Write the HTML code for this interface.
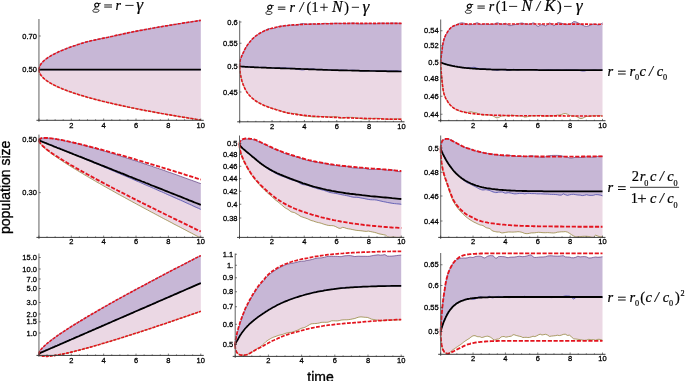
<!DOCTYPE html>
<html><head><meta charset="utf-8"><title>figure</title>
<style>
html,body{margin:0;padding:0;background:#fff;}
svg{display:block;} text{filter:grayscale(1);}
.tk{font-family:"Liberation Sans",sans-serif;font-size:7.5px;fill:#000;stroke:#000;stroke-width:0.28px;}
.al{font-family:"Liberation Sans",sans-serif;font-size:14px;fill:#000;stroke:#000;stroke-width:0.35px;}
.mi{font-family:"Liberation Serif",serif;font-style:italic;font-size:14px;fill:#000;stroke:#000;stroke-width:0.2px;}
.mr{font-family:"Liberation Serif",serif;font-size:14px;fill:#000;stroke:#000;stroke-width:0.2px;}
</style></head>
<body>
<svg width="685" height="381" viewBox="0 0 685 381">
<rect width="685" height="381" fill="#fff"/>
<path d="M39.0,69.7 L39.0,69.3 L39.0,69.0 L39.0,68.6 L39.1,68.2 L39.2,67.9 L39.3,67.5 L39.4,67.1 L39.5,66.8 L39.6,66.4 L39.8,66.0 L40.0,65.6 L40.2,65.3 L40.4,64.9 L40.6,64.5 L40.8,64.2 L41.1,63.8 L41.4,63.4 L41.7,63.1 L42.0,62.7 L42.3,62.3 L42.6,62.0 L43.0,61.6 L43.4,61.2 L43.8,60.9 L44.2,60.5 L44.6,60.1 L45.1,59.7 L45.5,59.4 L46.0,59.0 L46.5,58.6 L47.0,58.3 L47.5,57.9 L48.1,57.5 L48.6,57.2 L49.2,56.8 L49.8,56.4 L50.4,56.1 L51.0,55.7 L51.7,55.3 L52.3,55.0 L53.0,54.6 L53.7,54.2 L54.4,53.9 L55.2,53.5 L55.9,53.1 L56.7,52.7 L57.4,52.4 L58.2,52.0 L59.1,51.6 L59.9,51.3 L60.7,50.9 L61.6,50.5 L62.5,50.2 L63.4,49.8 L64.3,49.4 L65.2,49.1 L66.2,48.7 L67.1,48.3 L68.1,48.0 L69.1,47.6 L70.1,47.2 L71.1,46.8 L72.2,46.5 L73.3,46.1 L74.3,45.7 L75.4,45.4 L76.5,45.0 L77.7,44.6 L78.8,44.3 L80.0,43.9 L81.2,43.5 L82.4,43.1 L83.6,42.8 L84.8,42.4 L86.1,42.0 L87.3,41.7 L88.6,41.4 L89.9,41.1 L91.2,40.7 L92.5,40.5 L93.9,40.2 L95.3,39.9 L96.6,39.6 L98.0,39.3 L99.5,39.0 L100.9,38.7 L102.3,38.4 L103.8,38.1 L105.3,37.8 L106.8,37.5 L108.3,37.2 L109.8,36.8 L111.4,36.5 L112.9,36.2 L114.5,35.8 L116.1,35.4 L117.7,35.1 L119.4,34.7 L121.0,34.4 L122.7,34.0 L124.4,33.6 L126.1,33.3 L127.8,32.9 L129.5,32.5 L131.3,32.2 L133.0,31.8 L134.8,31.5 L136.6,31.1 L138.4,30.8 L140.3,30.4 L142.1,30.1 L144.0,29.7 L145.9,29.4 L147.8,29.0 L149.7,28.7 L151.6,28.3 L153.6,28.0 L155.6,27.6 L157.5,27.3 L159.5,26.9 L161.6,26.6 L163.6,26.2 L165.6,25.9 L167.7,25.6 L169.8,25.2 L171.9,24.9 L174.0,24.5 L176.2,24.2 L178.3,23.8 L180.5,23.5 L182.7,23.1 L184.9,22.8 L187.1,22.5 L189.3,22.1 L191.6,21.8 L193.8,21.4 L196.1,21.1 L198.4,20.7 L200.8,20.4 L200.8,69.7 L198.4,69.7 L196.1,69.7 L193.8,69.7 L191.6,69.7 L189.3,69.7 L187.1,69.7 L184.9,69.7 L182.7,69.7 L180.5,69.7 L178.3,69.7 L176.2,69.7 L174.0,69.7 L171.9,69.7 L169.8,69.7 L167.7,69.7 L165.6,69.7 L163.6,69.7 L161.6,69.7 L159.5,69.7 L157.5,69.7 L155.6,69.7 L153.6,69.7 L151.6,69.7 L149.7,69.7 L147.8,69.7 L145.9,69.7 L144.0,69.7 L142.1,69.7 L140.3,69.7 L138.4,69.7 L136.6,69.7 L134.8,69.7 L133.0,69.7 L131.3,69.7 L129.5,69.7 L127.8,69.7 L126.1,69.7 L124.4,69.7 L122.7,69.7 L121.0,69.7 L119.4,69.7 L117.7,69.7 L116.1,69.7 L114.5,69.7 L112.9,69.7 L111.4,69.7 L109.8,69.7 L108.3,69.7 L106.8,69.7 L105.3,69.7 L103.8,69.7 L102.3,69.7 L100.9,69.7 L99.5,69.7 L98.0,69.7 L96.6,69.7 L95.3,69.7 L93.9,69.7 L92.5,69.7 L91.2,69.7 L89.9,69.7 L88.6,69.7 L87.3,69.7 L86.1,69.7 L84.8,69.7 L83.6,69.7 L82.4,69.7 L81.2,69.7 L80.0,69.7 L78.8,69.7 L77.7,69.7 L76.5,69.7 L75.4,69.7 L74.3,69.7 L73.3,69.7 L72.2,69.7 L71.1,69.7 L70.1,69.7 L69.1,69.7 L68.1,69.7 L67.1,69.7 L66.2,69.7 L65.2,69.7 L64.3,69.7 L63.4,69.7 L62.5,69.7 L61.6,69.7 L60.7,69.7 L59.9,69.7 L59.1,69.7 L58.2,69.7 L57.4,69.7 L56.7,69.7 L55.9,69.7 L55.2,69.7 L54.4,69.7 L53.7,69.7 L53.0,69.7 L52.3,69.7 L51.7,69.7 L51.0,69.7 L50.4,69.7 L49.8,69.7 L49.2,69.7 L48.6,69.7 L48.1,69.7 L47.5,69.7 L47.0,69.7 L46.5,69.7 L46.0,69.7 L45.5,69.7 L45.1,69.7 L44.6,69.7 L44.2,69.7 L43.8,69.7 L43.4,69.7 L43.0,69.7 L42.6,69.7 L42.3,69.7 L42.0,69.7 L41.7,69.7 L41.4,69.7 L41.1,69.7 L40.8,69.7 L40.6,69.7 L40.4,69.7 L40.2,69.7 L40.0,69.7 L39.8,69.7 L39.6,69.7 L39.5,69.7 L39.4,69.7 L39.3,69.7 L39.2,69.7 L39.1,69.7 L39.0,69.7 L39.0,69.7 L39.0,69.7 L39.0,69.7Z" fill="#c7b7d6"/>
<path d="M39.0,69.7 L39.0,69.7 L39.0,69.7 L39.0,69.7 L39.1,69.7 L39.2,69.7 L39.3,69.7 L39.4,69.7 L39.5,69.7 L39.6,69.7 L39.8,69.7 L40.0,69.7 L40.2,69.7 L40.4,69.7 L40.6,69.7 L40.8,69.7 L41.1,69.7 L41.4,69.7 L41.7,69.7 L42.0,69.7 L42.3,69.7 L42.6,69.7 L43.0,69.7 L43.4,69.7 L43.8,69.7 L44.2,69.7 L44.6,69.7 L45.1,69.7 L45.5,69.7 L46.0,69.7 L46.5,69.7 L47.0,69.7 L47.5,69.7 L48.1,69.7 L48.6,69.7 L49.2,69.7 L49.8,69.7 L50.4,69.7 L51.0,69.7 L51.7,69.7 L52.3,69.7 L53.0,69.7 L53.7,69.7 L54.4,69.7 L55.2,69.7 L55.9,69.7 L56.7,69.7 L57.4,69.7 L58.2,69.7 L59.1,69.7 L59.9,69.7 L60.7,69.7 L61.6,69.7 L62.5,69.7 L63.4,69.7 L64.3,69.7 L65.2,69.7 L66.2,69.7 L67.1,69.7 L68.1,69.7 L69.1,69.7 L70.1,69.7 L71.1,69.7 L72.2,69.7 L73.3,69.7 L74.3,69.7 L75.4,69.7 L76.5,69.7 L77.7,69.7 L78.8,69.7 L80.0,69.7 L81.2,69.7 L82.4,69.7 L83.6,69.7 L84.8,69.7 L86.1,69.7 L87.3,69.7 L88.6,69.7 L89.9,69.7 L91.2,69.7 L92.5,69.7 L93.9,69.7 L95.3,69.7 L96.6,69.7 L98.0,69.7 L99.5,69.7 L100.9,69.7 L102.3,69.7 L103.8,69.7 L105.3,69.7 L106.8,69.7 L108.3,69.7 L109.8,69.7 L111.4,69.7 L112.9,69.7 L114.5,69.7 L116.1,69.7 L117.7,69.7 L119.4,69.7 L121.0,69.7 L122.7,69.7 L124.4,69.7 L126.1,69.7 L127.8,69.7 L129.5,69.7 L131.3,69.7 L133.0,69.7 L134.8,69.7 L136.6,69.7 L138.4,69.7 L140.3,69.7 L142.1,69.7 L144.0,69.7 L145.9,69.7 L147.8,69.7 L149.7,69.7 L151.6,69.7 L153.6,69.7 L155.6,69.7 L157.5,69.7 L159.5,69.7 L161.6,69.7 L163.6,69.7 L165.6,69.7 L167.7,69.7 L169.8,69.7 L171.9,69.7 L174.0,69.7 L176.2,69.7 L178.3,69.7 L180.5,69.7 L182.7,69.7 L184.9,69.7 L187.1,69.7 L189.3,69.7 L191.6,69.7 L193.8,69.7 L196.1,69.7 L198.4,69.7 L200.8,69.7 L200.8,120.0 L198.4,119.6 L196.1,119.3 L193.8,118.9 L191.6,118.5 L189.3,118.2 L187.1,117.8 L184.9,117.4 L182.7,117.1 L180.5,116.7 L178.3,116.4 L176.2,116.0 L174.0,115.6 L171.9,115.3 L169.8,114.9 L167.7,114.6 L165.6,114.2 L163.6,113.8 L161.6,113.5 L159.5,113.1 L157.5,112.7 L155.6,112.4 L153.6,112.0 L151.6,111.7 L149.7,111.3 L147.8,110.9 L145.9,110.6 L144.0,110.2 L142.1,109.9 L140.3,109.5 L138.4,109.1 L136.6,108.8 L134.8,108.4 L133.0,108.0 L131.3,107.7 L129.5,107.3 L127.8,107.0 L126.1,106.6 L124.4,106.2 L122.7,105.9 L121.0,105.5 L119.4,105.1 L117.7,104.8 L116.1,104.4 L114.5,104.1 L112.9,103.7 L111.4,103.3 L109.8,103.0 L108.3,102.6 L106.8,102.3 L105.3,101.9 L103.8,101.5 L102.3,101.2 L100.9,100.8 L99.5,100.4 L98.0,100.1 L96.6,99.7 L95.3,99.4 L93.9,99.0 L92.5,98.6 L91.2,98.3 L89.9,97.9 L88.6,97.6 L87.3,97.2 L86.1,96.8 L84.8,96.5 L83.6,96.1 L82.4,95.7 L81.2,95.4 L80.0,95.0 L78.8,94.7 L77.7,94.3 L76.5,93.9 L75.4,93.6 L74.3,93.2 L73.3,92.9 L72.2,92.5 L71.1,92.1 L70.1,91.8 L69.1,91.4 L68.1,91.0 L67.1,90.7 L66.2,90.3 L65.2,90.0 L64.3,89.6 L63.4,89.2 L62.5,88.9 L61.6,88.5 L60.7,88.1 L59.9,87.8 L59.1,87.4 L58.2,87.1 L57.4,86.7 L56.7,86.3 L55.9,86.0 L55.2,85.6 L54.4,85.3 L53.7,84.9 L53.0,84.5 L52.3,84.2 L51.7,83.8 L51.0,83.4 L50.4,83.1 L49.8,82.7 L49.2,82.4 L48.6,82.0 L48.1,81.6 L47.5,81.3 L47.0,80.9 L46.5,80.6 L46.0,80.2 L45.5,79.8 L45.1,79.5 L44.6,79.1 L44.2,78.7 L43.8,78.4 L43.4,78.0 L43.0,77.7 L42.6,77.3 L42.3,76.9 L42.0,76.6 L41.7,76.2 L41.4,75.8 L41.1,75.5 L40.8,75.1 L40.6,74.8 L40.4,74.4 L40.2,74.0 L40.0,73.7 L39.8,73.3 L39.6,73.0 L39.5,72.6 L39.4,72.2 L39.3,71.9 L39.2,71.5 L39.1,71.1 L39.0,70.8 L39.0,70.4 L39.0,70.1 L39.0,69.7Z" fill="#ebd8e4"/>
<path d="M39.0,69.7 L39.0,69.3 L39.0,69.0 L39.0,68.6 L39.1,68.2 L39.2,67.9 L39.3,67.5 L39.4,67.1 L39.5,66.8 L39.6,66.4 L39.8,66.0 L40.0,65.6 L40.2,65.3 L40.4,64.9 L40.6,64.5 L40.8,64.2 L41.1,63.8 L41.4,63.4 L41.7,63.1 L42.0,62.7 L42.3,62.3 L42.6,62.0 L43.0,61.6 L43.4,61.2 L43.8,60.9 L44.2,60.5 L44.6,60.1 L45.1,59.7 L45.5,59.4 L46.0,59.0 L46.5,58.6 L47.0,58.3 L47.5,57.9 L48.1,57.5 L48.6,57.2 L49.2,56.8 L49.8,56.4 L50.4,56.1 L51.0,55.7 L51.7,55.3 L52.3,55.0 L53.0,54.6 L53.7,54.2 L54.4,53.9 L55.2,53.5 L55.9,53.1 L56.7,52.7 L57.4,52.4 L58.2,52.0 L59.1,51.6 L59.9,51.3 L60.7,50.9 L61.6,50.5 L62.5,50.2 L63.4,49.8 L64.3,49.4 L65.2,49.1 L66.2,48.7 L67.1,48.3 L68.1,48.0 L69.1,47.6 L70.1,47.2 L71.1,46.8 L72.2,46.5 L73.3,46.1 L74.3,45.7 L75.4,45.4 L76.5,45.0 L77.7,44.6 L78.8,44.3 L80.0,43.9 L81.2,43.5 L82.4,43.1 L83.6,42.8 L84.8,42.4 L86.1,42.0 L87.3,41.7 L88.6,41.4 L89.9,41.1 L91.2,40.7 L92.5,40.5 L93.9,40.2 L95.3,39.9 L96.6,39.6 L98.0,39.3 L99.5,39.0 L100.9,38.7 L102.3,38.4 L103.8,38.1 L105.3,37.8 L106.8,37.5 L108.3,37.2 L109.8,36.8 L111.4,36.5 L112.9,36.2 L114.5,35.8 L116.1,35.4 L117.7,35.1 L119.4,34.7 L121.0,34.4 L122.7,34.0 L124.4,33.6 L126.1,33.3 L127.8,32.9 L129.5,32.5 L131.3,32.2 L133.0,31.8 L134.8,31.5 L136.6,31.1 L138.4,30.8 L140.3,30.4 L142.1,30.1 L144.0,29.7 L145.9,29.4 L147.8,29.0 L149.7,28.7 L151.6,28.3 L153.6,28.0 L155.6,27.6 L157.5,27.3 L159.5,26.9 L161.6,26.6 L163.6,26.2 L165.6,25.9 L167.7,25.6 L169.8,25.2 L171.9,24.9 L174.0,24.5 L176.2,24.2 L178.3,23.8 L180.5,23.5 L182.7,23.1 L184.9,22.8 L187.1,22.5 L189.3,22.1 L191.6,21.8 L193.8,21.4 L196.1,21.1 L198.4,20.7 L200.8,20.4" fill="none" stroke="#5e3e80" stroke-width="0.7"/>
<path d="M39.0,69.7 L39.0,70.1 L39.0,70.4 L39.0,70.8 L39.1,71.1 L39.2,71.5 L39.3,71.9 L39.4,72.2 L39.5,72.6 L39.6,73.0 L39.8,73.3 L40.0,73.7 L40.2,74.0 L40.4,74.4 L40.6,74.8 L40.8,75.1 L41.1,75.5 L41.4,75.8 L41.7,76.2 L42.0,76.6 L42.3,76.9 L42.6,77.3 L43.0,77.7 L43.4,78.0 L43.8,78.4 L44.2,78.7 L44.6,79.1 L45.1,79.5 L45.5,79.8 L46.0,80.2 L46.5,80.6 L47.0,80.9 L47.5,81.3 L48.1,81.6 L48.6,82.0 L49.2,82.4 L49.8,82.7 L50.4,83.1 L51.0,83.4 L51.7,83.8 L52.3,84.2 L53.0,84.5 L53.7,84.9 L54.4,85.3 L55.2,85.6 L55.9,86.0 L56.7,86.3 L57.4,86.7 L58.2,87.1 L59.1,87.4 L59.9,87.8 L60.7,88.1 L61.6,88.5 L62.5,88.9 L63.4,89.2 L64.3,89.6 L65.2,90.0 L66.2,90.3 L67.1,90.7 L68.1,91.0 L69.1,91.4 L70.1,91.8 L71.1,92.1 L72.2,92.5 L73.3,92.9 L74.3,93.2 L75.4,93.6 L76.5,93.9 L77.7,94.3 L78.8,94.7 L80.0,95.0 L81.2,95.4 L82.4,95.7 L83.6,96.1 L84.8,96.5 L86.1,96.8 L87.3,97.2 L88.6,97.6 L89.9,97.9 L91.2,98.3 L92.5,98.6 L93.9,99.0 L95.3,99.4 L96.6,99.7 L98.0,100.1 L99.5,100.4 L100.9,100.8 L102.3,101.2 L103.8,101.5 L105.3,101.9 L106.8,102.3 L108.3,102.6 L109.8,103.0 L111.4,103.3 L112.9,103.7 L114.5,104.1 L116.1,104.4 L117.7,104.8 L119.4,105.1 L121.0,105.5 L122.7,105.9 L124.4,106.2 L126.1,106.6 L127.8,107.0 L129.5,107.3 L131.3,107.7 L133.0,108.0 L134.8,108.4 L136.6,108.8 L138.4,109.1 L140.3,109.5 L142.1,109.9 L144.0,110.2 L145.9,110.6 L147.8,110.9 L149.7,111.3 L151.6,111.7 L153.6,112.0 L155.6,112.4 L157.5,112.7 L159.5,113.1 L161.6,113.5 L163.6,113.8 L165.6,114.2 L167.7,114.6 L169.8,114.9 L171.9,115.3 L174.0,115.6 L176.2,116.0 L178.3,116.4 L180.5,116.7 L182.7,117.1 L184.9,117.4 L187.1,117.8 L189.3,118.2 L191.6,118.5 L193.8,118.9 L196.1,119.3 L198.4,119.6 L200.8,120.0" fill="none" stroke="#8a7a2a" stroke-width="0.7"/>
<path d="M39.0,69.7 L39.0,69.7 L39.0,69.7 L39.0,69.7 L39.1,69.7 L39.2,69.7 L39.3,69.7 L39.4,69.7 L39.5,69.7 L39.6,69.7 L39.8,69.7 L40.0,69.7 L40.2,69.7 L40.4,69.7 L40.6,69.7 L40.8,69.7 L41.1,69.7 L41.4,69.7 L41.7,69.7 L42.0,69.7 L42.3,69.7 L42.6,69.7 L43.0,69.7 L43.4,69.7 L43.8,69.7 L44.2,69.7 L44.6,69.7 L45.1,69.7 L45.5,69.7 L46.0,69.7 L46.5,69.7 L47.0,69.7 L47.5,69.7 L48.1,69.7 L48.6,69.7 L49.2,69.7 L49.8,69.7 L50.4,69.7 L51.0,69.7 L51.7,69.7 L52.3,69.7 L53.0,69.7 L53.7,69.7 L54.4,69.7 L55.2,69.7 L55.9,69.7 L56.7,69.7 L57.4,69.7 L58.2,69.7 L59.1,69.7 L59.9,69.7 L60.7,69.7 L61.6,69.7 L62.5,69.7 L63.4,69.7 L64.3,69.7 L65.2,69.7 L66.2,69.7 L67.1,69.7 L68.1,69.7 L69.1,69.7 L70.1,69.7 L71.1,69.7 L72.2,69.7 L73.3,69.7 L74.3,69.7 L75.4,69.7 L76.5,69.7 L77.7,69.7 L78.8,69.7 L80.0,69.7 L81.2,69.7 L82.4,69.7 L83.6,69.7 L84.8,69.7 L86.1,69.7 L87.3,69.7 L88.6,69.7 L89.9,69.7 L91.2,69.7 L92.5,69.7 L93.9,69.7 L95.3,69.7 L96.6,69.7 L98.0,69.7 L99.5,69.7 L100.9,69.7 L102.3,69.7 L103.8,69.7 L105.3,69.7 L106.8,69.7 L108.3,69.7 L109.8,69.7 L111.4,69.7 L112.9,69.7 L114.5,69.7 L116.1,69.7 L117.7,69.7 L119.4,69.7 L121.0,69.7 L122.7,69.7 L124.4,69.7 L126.1,69.7 L127.8,69.7 L129.5,69.7 L131.3,69.7 L133.0,69.7 L134.8,69.7 L136.6,69.7 L138.4,69.7 L140.3,69.7 L142.1,69.7 L144.0,69.7 L145.9,69.7 L147.8,69.7 L149.7,69.7 L151.6,69.7 L153.6,69.7 L155.6,69.7 L157.5,69.7 L159.5,69.7 L161.6,69.7 L163.6,69.7 L165.6,69.7 L167.7,69.7 L169.8,69.7 L171.9,69.7 L174.0,69.7 L176.2,69.7 L178.3,69.7 L180.5,69.7 L182.7,69.7 L184.9,69.7 L187.1,69.7 L189.3,69.7 L191.6,69.7 L193.8,69.7 L196.1,69.7 L198.4,69.7 L200.8,69.7" fill="none" stroke="#3030a0" stroke-width="0.7"/>
<path d="M39.0,69.7 L39.0,69.7 L39.0,69.7 L39.0,69.7 L39.1,69.7 L39.2,69.7 L39.3,69.7 L39.4,69.7 L39.5,69.7 L39.6,69.7 L39.8,69.7 L40.0,69.7 L40.2,69.7 L40.4,69.7 L40.6,69.7 L40.8,69.7 L41.1,69.7 L41.4,69.7 L41.7,69.7 L42.0,69.7 L42.3,69.7 L42.6,69.7 L43.0,69.7 L43.4,69.7 L43.8,69.7 L44.2,69.7 L44.6,69.7 L45.1,69.7 L45.5,69.7 L46.0,69.7 L46.5,69.7 L47.0,69.7 L47.5,69.7 L48.1,69.7 L48.6,69.7 L49.2,69.7 L49.8,69.7 L50.4,69.7 L51.0,69.7 L51.7,69.7 L52.3,69.7 L53.0,69.7 L53.7,69.7 L54.4,69.7 L55.2,69.7 L55.9,69.7 L56.7,69.7 L57.4,69.7 L58.2,69.7 L59.1,69.7 L59.9,69.7 L60.7,69.7 L61.6,69.7 L62.5,69.7 L63.4,69.7 L64.3,69.7 L65.2,69.7 L66.2,69.7 L67.1,69.7 L68.1,69.7 L69.1,69.7 L70.1,69.7 L71.1,69.7 L72.2,69.7 L73.3,69.7 L74.3,69.7 L75.4,69.7 L76.5,69.7 L77.7,69.7 L78.8,69.7 L80.0,69.7 L81.2,69.7 L82.4,69.7 L83.6,69.7 L84.8,69.7 L86.1,69.7 L87.3,69.7 L88.6,69.7 L89.9,69.7 L91.2,69.7 L92.5,69.7 L93.9,69.7 L95.3,69.7 L96.6,69.7 L98.0,69.7 L99.5,69.7 L100.9,69.7 L102.3,69.7 L103.8,69.7 L105.3,69.7 L106.8,69.7 L108.3,69.7 L109.8,69.7 L111.4,69.7 L112.9,69.7 L114.5,69.7 L116.1,69.7 L117.7,69.7 L119.4,69.7 L121.0,69.7 L122.7,69.7 L124.4,69.7 L126.1,69.7 L127.8,69.7 L129.5,69.7 L131.3,69.7 L133.0,69.7 L134.8,69.7 L136.6,69.7 L138.4,69.7 L140.3,69.7 L142.1,69.7 L144.0,69.7 L145.9,69.7 L147.8,69.7 L149.7,69.7 L151.6,69.7 L153.6,69.7 L155.6,69.7 L157.5,69.7 L159.5,69.7 L161.6,69.7 L163.6,69.7 L165.6,69.7 L167.7,69.7 L169.8,69.7 L171.9,69.7 L174.0,69.7 L176.2,69.7 L178.3,69.7 L180.5,69.7 L182.7,69.7 L184.9,69.7 L187.1,69.7 L189.3,69.7 L191.6,69.7 L193.8,69.7 L196.1,69.7 L198.4,69.7 L200.8,69.7" fill="none" stroke="#000" stroke-width="1.7" stroke-linejoin="round"/>
<path d="M39.0,69.7 L39.0,69.3 L39.0,69.0 L39.0,68.6 L39.1,68.2 L39.2,67.9 L39.3,67.5 L39.4,67.1 L39.5,66.8 L39.6,66.4 L39.8,66.0 L40.0,65.6 L40.2,65.3 L40.4,64.9 L40.6,64.5 L40.8,64.2 L41.1,63.8 L41.4,63.4 L41.7,63.1 L42.0,62.7 L42.3,62.3 L42.6,62.0 L43.0,61.6 L43.4,61.2 L43.8,60.9 L44.2,60.5 L44.6,60.1 L45.1,59.7 L45.5,59.4 L46.0,59.0 L46.5,58.6 L47.0,58.3 L47.5,57.9 L48.1,57.5 L48.6,57.2 L49.2,56.8 L49.8,56.4 L50.4,56.1 L51.0,55.7 L51.7,55.3 L52.3,55.0 L53.0,54.6 L53.7,54.2 L54.4,53.9 L55.2,53.5 L55.9,53.1 L56.7,52.7 L57.4,52.4 L58.2,52.0 L59.1,51.6 L59.9,51.3 L60.7,50.9 L61.6,50.5 L62.5,50.2 L63.4,49.8 L64.3,49.4 L65.2,49.1 L66.2,48.7 L67.1,48.3 L68.1,48.0 L69.1,47.6 L70.1,47.2 L71.1,46.8 L72.2,46.5 L73.3,46.1 L74.3,45.7 L75.4,45.4 L76.5,45.0 L77.7,44.6 L78.8,44.3 L80.0,43.9 L81.2,43.5 L82.4,43.1 L83.6,42.8 L84.8,42.4 L86.1,42.0 L87.3,41.7 L88.6,41.4 L89.9,41.1 L91.2,40.7 L92.5,40.5 L93.9,40.2 L95.3,39.9 L96.6,39.6 L98.0,39.3 L99.5,39.0 L100.9,38.7 L102.3,38.4 L103.8,38.1 L105.3,37.8 L106.8,37.5 L108.3,37.2 L109.8,36.8 L111.4,36.5 L112.9,36.2 L114.5,35.8 L116.1,35.4 L117.7,35.1 L119.4,34.7 L121.0,34.4 L122.7,34.0 L124.4,33.6 L126.1,33.3 L127.8,32.9 L129.5,32.5 L131.3,32.2 L133.0,31.8 L134.8,31.5 L136.6,31.1 L138.4,30.8 L140.3,30.4 L142.1,30.1 L144.0,29.7 L145.9,29.4 L147.8,29.0 L149.7,28.7 L151.6,28.3 L153.6,28.0 L155.6,27.6 L157.5,27.3 L159.5,26.9 L161.6,26.6 L163.6,26.2 L165.6,25.9 L167.7,25.6 L169.8,25.2 L171.9,24.9 L174.0,24.5 L176.2,24.2 L178.3,23.8 L180.5,23.5 L182.7,23.1 L184.9,22.8 L187.1,22.5 L189.3,22.1 L191.6,21.8 L193.8,21.4 L196.1,21.1 L198.4,20.7 L200.8,20.4" fill="none" stroke="#e3141e" stroke-width="1.6" stroke-dasharray="3.1,1.2" stroke-linejoin="round"/>
<path d="M39.0,69.7 L39.0,70.1 L39.0,70.4 L39.0,70.8 L39.1,71.1 L39.2,71.5 L39.3,71.9 L39.4,72.2 L39.5,72.6 L39.6,73.0 L39.8,73.3 L40.0,73.7 L40.2,74.0 L40.4,74.4 L40.6,74.8 L40.8,75.1 L41.1,75.5 L41.4,75.8 L41.7,76.2 L42.0,76.6 L42.3,76.9 L42.6,77.3 L43.0,77.7 L43.4,78.0 L43.8,78.4 L44.2,78.7 L44.6,79.1 L45.1,79.5 L45.5,79.8 L46.0,80.2 L46.5,80.6 L47.0,80.9 L47.5,81.3 L48.1,81.6 L48.6,82.0 L49.2,82.4 L49.8,82.7 L50.4,83.1 L51.0,83.4 L51.7,83.8 L52.3,84.2 L53.0,84.5 L53.7,84.9 L54.4,85.3 L55.2,85.6 L55.9,86.0 L56.7,86.3 L57.4,86.7 L58.2,87.1 L59.1,87.4 L59.9,87.8 L60.7,88.1 L61.6,88.5 L62.5,88.9 L63.4,89.2 L64.3,89.6 L65.2,90.0 L66.2,90.3 L67.1,90.7 L68.1,91.0 L69.1,91.4 L70.1,91.8 L71.1,92.1 L72.2,92.5 L73.3,92.9 L74.3,93.2 L75.4,93.6 L76.5,93.9 L77.7,94.3 L78.8,94.7 L80.0,95.0 L81.2,95.4 L82.4,95.7 L83.6,96.1 L84.8,96.5 L86.1,96.8 L87.3,97.2 L88.6,97.6 L89.9,97.9 L91.2,98.3 L92.5,98.6 L93.9,99.0 L95.3,99.4 L96.6,99.7 L98.0,100.1 L99.5,100.4 L100.9,100.8 L102.3,101.2 L103.8,101.5 L105.3,101.9 L106.8,102.3 L108.3,102.6 L109.8,103.0 L111.4,103.3 L112.9,103.7 L114.5,104.1 L116.1,104.4 L117.7,104.8 L119.4,105.1 L121.0,105.5 L122.7,105.9 L124.4,106.2 L126.1,106.6 L127.8,107.0 L129.5,107.3 L131.3,107.7 L133.0,108.0 L134.8,108.4 L136.6,108.8 L138.4,109.1 L140.3,109.5 L142.1,109.9 L144.0,110.2 L145.9,110.6 L147.8,110.9 L149.7,111.3 L151.6,111.7 L153.6,112.0 L155.6,112.4 L157.5,112.7 L159.5,113.1 L161.6,113.5 L163.6,113.8 L165.6,114.2 L167.7,114.6 L169.8,114.9 L171.9,115.3 L174.0,115.6 L176.2,116.0 L178.3,116.4 L180.5,116.7 L182.7,117.1 L184.9,117.4 L187.1,117.8 L189.3,118.2 L191.6,118.5 L193.8,118.9 L196.1,119.3 L198.4,119.6 L200.8,120.0" fill="none" stroke="#e3141e" stroke-width="1.6" stroke-dasharray="3.1,1.2" stroke-linejoin="round"/>
<path d="M38.95,19.00 V121.80" stroke="#606060" stroke-width="1" fill="none"/>
<path d="M36.45,120.30 H203.75" stroke="#3c3c3c" stroke-width="1" fill="none"/>
<path d="M38.95,120.30 v-1.8 M47.04,120.30 v-1.0 M55.13,120.30 v-1.0 M63.22,120.30 v-1.0 M71.31,120.30 v-1.8 M79.40,120.30 v-1.0 M87.49,120.30 v-1.0 M95.58,120.30 v-1.0 M103.67,120.30 v-1.8 M111.76,120.30 v-1.0 M119.85,120.30 v-1.0 M127.94,120.30 v-1.0 M136.03,120.30 v-1.8 M144.12,120.30 v-1.0 M152.21,120.30 v-1.0 M160.30,120.30 v-1.0 M168.39,120.30 v-1.8 M176.48,120.30 v-1.0 M184.57,120.30 v-1.0 M192.66,120.30 v-1.0 M200.75,120.30 v-1.8 M38.95,36.00 h1.8 M38.95,69.70 h1.8" stroke="#222" stroke-width="0.6" fill="none"/>
<text x="71.31" y="128.10" text-anchor="middle" class="tk">2</text>
<text x="103.67" y="128.10" text-anchor="middle" class="tk">4</text>
<text x="136.03" y="128.10" text-anchor="middle" class="tk">6</text>
<text x="168.39" y="128.10" text-anchor="middle" class="tk">8</text>
<text x="200.75" y="128.10" text-anchor="middle" class="tk">10</text>
<text x="36.95" y="38.60" text-anchor="end" class="tk">0.70</text>
<text x="36.95" y="72.30" text-anchor="end" class="tk">0.50</text>
<path d="M239.7,66.3 L239.7,65.5 L239.7,64.7 L239.8,63.9 L239.8,63.1 L239.9,62.3 L240.0,61.6 L240.1,60.9 L240.2,60.3 L240.4,59.7 L240.5,59.1 L240.7,58.5 L240.9,58.0 L241.1,57.5 L241.3,56.9 L241.6,56.4 L241.8,55.8 L242.1,55.2 L242.4,54.5 L242.7,53.8 L243.0,53.1 L243.4,52.4 L243.8,51.6 L244.1,50.8 L244.5,50.0 L244.9,49.2 L245.4,48.4 L245.8,47.6 L246.3,46.9 L246.7,46.1 L247.2,45.4 L247.7,44.6 L248.3,43.9 L248.8,43.2 L249.4,42.4 L250.0,41.7 L250.6,41.0 L251.2,40.3 L251.8,39.6 L252.4,38.9 L253.1,38.3 L253.8,37.7 L254.5,37.0 L255.2,36.5 L255.9,35.9 L256.7,35.3 L257.4,34.8 L258.2,34.2 L259.0,33.7 L259.8,33.3 L260.6,32.8 L261.5,32.4 L262.3,32.0 L263.2,31.6 L264.1,31.1 L265.0,30.5 L266.0,29.9 L266.9,29.4 L267.9,28.9 L268.9,28.6 L269.8,28.5 L270.9,28.5 L271.9,28.6 L272.9,28.6 L274.0,28.4 L275.1,28.0 L276.2,27.5 L277.3,27.0 L278.4,26.5 L279.6,26.3 L280.7,26.1 L281.9,26.0 L283.1,26.0 L284.3,25.9 L285.6,25.8 L286.8,25.6 L288.1,25.4 L289.4,25.2 L290.6,25.0 L292.0,25.0 L293.3,25.1 L294.6,25.3 L296.0,25.3 L297.4,25.1 L298.8,24.6 L300.2,24.0 L301.6,23.6 L303.1,23.6 L304.6,23.8 L306.0,24.0 L307.5,24.1 L309.0,24.0 L310.6,24.0 L312.1,23.9 L313.7,23.9 L315.3,24.0 L316.9,24.2 L318.5,24.3 L320.1,24.2 L321.8,23.8 L323.4,23.4 L325.1,23.3 L326.8,23.4 L328.5,23.5 L330.3,23.6 L332.0,23.5 L333.8,23.3 L335.6,23.2 L337.4,23.2 L339.2,23.3 L341.0,23.4 L342.9,23.5 L344.7,23.6 L346.6,23.6 L348.5,23.6 L350.5,23.2 L352.4,23.0 L354.3,23.1 L356.3,23.5 L358.3,23.8 L360.3,23.8 L362.3,23.8 L364.3,23.8 L366.4,23.7 L368.5,23.6 L370.5,23.6 L372.7,23.7 L374.8,23.8 L376.9,23.7 L379.1,23.3 L381.2,23.1 L383.4,23.2 L385.6,23.3 L387.8,23.3 L390.1,23.2 L392.3,23.0 L394.6,23.1 L396.9,23.2 L399.2,23.3 L401.5,23.5 L401.5,71.1 L399.2,70.9 L396.9,70.9 L394.6,70.9 L392.3,70.9 L390.1,70.9 L387.8,71.0 L385.6,71.0 L383.4,71.1 L381.2,71.1 L379.1,71.0 L376.9,71.0 L374.8,70.9 L372.7,70.7 L370.5,70.6 L368.5,70.6 L366.4,70.8 L364.3,70.9 L362.3,70.9 L360.3,70.8 L358.3,70.6 L356.3,70.5 L354.3,70.3 L352.4,70.2 L350.5,70.3 L348.5,70.5 L346.6,70.4 L344.7,70.3 L342.9,70.1 L341.0,70.0 L339.2,70.3 L337.4,70.6 L335.6,70.6 L333.8,70.5 L332.0,70.2 L330.3,70.0 L328.5,69.9 L326.8,69.7 L325.1,69.6 L323.4,69.6 L321.8,69.7 L320.1,69.8 L318.5,69.8 L316.9,69.6 L315.3,69.2 L313.7,69.0 L312.1,69.0 L310.6,69.0 L309.0,69.1 L307.5,69.2 L306.0,69.4 L304.6,69.7 L303.1,69.9 L301.6,69.9 L300.2,69.7 L298.8,69.5 L297.4,69.2 L296.0,69.0 L294.6,68.7 L293.3,68.5 L292.0,68.3 L290.6,68.2 L289.4,68.2 L288.1,68.1 L286.8,68.0 L285.6,68.0 L284.3,67.9 L283.1,67.9 L281.9,67.8 L280.7,67.8 L279.6,67.7 L278.4,67.7 L277.3,67.9 L276.2,68.0 L275.1,68.2 L274.0,68.2 L272.9,68.2 L271.9,68.1 L270.9,67.9 L269.8,67.8 L268.9,67.6 L267.9,67.6 L266.9,67.5 L266.0,67.4 L265.0,67.4 L264.1,67.3 L263.2,67.3 L262.3,67.3 L261.5,67.3 L260.6,67.4 L259.8,67.5 L259.0,67.5 L258.2,67.5 L257.4,67.4 L256.7,67.4 L255.9,67.3 L255.2,67.3 L254.5,67.3 L253.8,67.2 L253.1,67.2 L252.4,67.2 L251.8,67.1 L251.2,67.1 L250.6,67.1 L250.0,67.0 L249.4,67.0 L248.8,67.0 L248.3,67.0 L247.7,66.9 L247.2,66.9 L246.7,66.9 L246.3,66.8 L245.8,66.8 L245.4,66.8 L244.9,66.8 L244.5,66.7 L244.1,66.7 L243.8,66.7 L243.4,66.7 L243.0,66.6 L242.7,66.6 L242.4,66.6 L242.1,66.6 L241.8,66.6 L241.6,66.5 L241.3,66.5 L241.1,66.5 L240.9,66.5 L240.7,66.5 L240.5,66.4 L240.4,66.4 L240.2,66.4 L240.1,66.4 L240.0,66.4 L239.9,66.4 L239.8,66.4 L239.8,66.3 L239.7,66.3 L239.7,66.3 L239.7,66.3Z" fill="#c7b7d6"/>
<path d="M239.7,66.3 L239.7,66.3 L239.7,66.3 L239.8,66.3 L239.8,66.4 L239.9,66.4 L240.0,66.4 L240.1,66.4 L240.2,66.4 L240.4,66.4 L240.5,66.4 L240.7,66.5 L240.9,66.5 L241.1,66.5 L241.3,66.5 L241.6,66.5 L241.8,66.6 L242.1,66.6 L242.4,66.6 L242.7,66.6 L243.0,66.6 L243.4,66.7 L243.8,66.7 L244.1,66.7 L244.5,66.7 L244.9,66.8 L245.4,66.8 L245.8,66.8 L246.3,66.8 L246.7,66.9 L247.2,66.9 L247.7,66.9 L248.3,67.0 L248.8,67.0 L249.4,67.0 L250.0,67.0 L250.6,67.1 L251.2,67.1 L251.8,67.1 L252.4,67.2 L253.1,67.2 L253.8,67.2 L254.5,67.3 L255.2,67.3 L255.9,67.3 L256.7,67.4 L257.4,67.4 L258.2,67.5 L259.0,67.5 L259.8,67.5 L260.6,67.4 L261.5,67.3 L262.3,67.3 L263.2,67.3 L264.1,67.3 L265.0,67.4 L266.0,67.4 L266.9,67.5 L267.9,67.6 L268.9,67.6 L269.8,67.8 L270.9,67.9 L271.9,68.1 L272.9,68.2 L274.0,68.2 L275.1,68.2 L276.2,68.0 L277.3,67.9 L278.4,67.7 L279.6,67.7 L280.7,67.8 L281.9,67.8 L283.1,67.9 L284.3,67.9 L285.6,68.0 L286.8,68.0 L288.1,68.1 L289.4,68.2 L290.6,68.2 L292.0,68.3 L293.3,68.5 L294.6,68.7 L296.0,69.0 L297.4,69.2 L298.8,69.5 L300.2,69.7 L301.6,69.9 L303.1,69.9 L304.6,69.7 L306.0,69.4 L307.5,69.2 L309.0,69.1 L310.6,69.0 L312.1,69.0 L313.7,69.0 L315.3,69.2 L316.9,69.6 L318.5,69.8 L320.1,69.8 L321.8,69.7 L323.4,69.6 L325.1,69.6 L326.8,69.7 L328.5,69.9 L330.3,70.0 L332.0,70.2 L333.8,70.5 L335.6,70.6 L337.4,70.6 L339.2,70.3 L341.0,70.0 L342.9,70.1 L344.7,70.3 L346.6,70.4 L348.5,70.5 L350.5,70.3 L352.4,70.2 L354.3,70.3 L356.3,70.5 L358.3,70.6 L360.3,70.8 L362.3,70.9 L364.3,70.9 L366.4,70.8 L368.5,70.6 L370.5,70.6 L372.7,70.7 L374.8,70.9 L376.9,71.0 L379.1,71.0 L381.2,71.1 L383.4,71.1 L385.6,71.0 L387.8,71.0 L390.1,70.9 L392.3,70.9 L394.6,70.9 L396.9,70.9 L399.2,70.9 L401.5,71.1 L401.5,119.1 L399.2,119.0 L396.9,118.9 L394.6,119.0 L392.3,119.1 L390.1,119.3 L387.8,119.4 L385.6,119.3 L383.4,118.9 L381.2,118.5 L379.1,118.4 L376.9,118.3 L374.8,118.2 L372.7,118.4 L370.5,118.6 L368.5,118.8 L366.4,119.1 L364.3,119.1 L362.3,118.9 L360.3,118.4 L358.3,118.1 L356.3,117.8 L354.3,117.6 L352.4,117.4 L350.5,117.4 L348.5,117.3 L346.6,117.3 L344.7,117.7 L342.9,118.1 L341.0,118.1 L339.2,117.6 L337.4,116.9 L335.6,116.7 L333.8,116.7 L332.0,116.9 L330.3,116.9 L328.5,116.9 L326.8,116.8 L325.1,116.7 L323.4,116.7 L321.8,116.6 L320.1,116.6 L318.5,116.6 L316.9,116.8 L315.3,117.0 L313.7,117.1 L312.1,116.9 L310.6,116.6 L309.0,116.4 L307.5,116.2 L306.0,116.0 L304.6,115.9 L303.1,115.7 L301.6,115.5 L300.2,115.1 L298.8,114.5 L297.4,114.0 L296.0,113.7 L294.6,113.6 L293.3,113.5 L292.0,113.4 L290.6,113.3 L289.4,113.1 L288.1,112.9 L286.8,112.7 L285.6,112.4 L284.3,112.1 L283.1,111.7 L281.9,111.3 L280.7,110.8 L279.6,110.4 L278.4,110.1 L277.3,109.8 L276.2,109.5 L275.1,109.3 L274.0,109.0 L272.9,108.6 L271.9,108.2 L270.9,107.9 L269.8,107.5 L268.9,107.1 L267.9,106.8 L266.9,106.4 L266.0,106.1 L265.0,105.7 L264.1,105.3 L263.2,104.9 L262.3,104.5 L261.5,104.1 L260.6,103.6 L259.8,103.2 L259.0,102.7 L258.2,102.3 L257.4,101.9 L256.7,101.4 L255.9,101.0 L255.2,100.5 L254.5,100.0 L253.8,99.5 L253.1,98.9 L252.4,98.4 L251.8,97.8 L251.2,97.2 L250.6,96.6 L250.0,96.0 L249.4,95.3 L248.8,94.7 L248.3,94.0 L247.7,93.3 L247.2,92.6 L246.7,91.9 L246.3,91.1 L245.8,90.3 L245.4,89.5 L244.9,88.7 L244.5,87.8 L244.1,86.9 L243.8,86.0 L243.4,85.1 L243.0,84.2 L242.7,83.3 L242.4,82.4 L242.1,81.5 L241.8,80.5 L241.6,79.6 L241.3,78.6 L241.1,77.6 L240.9,76.7 L240.7,75.7 L240.5,74.7 L240.4,73.8 L240.2,72.9 L240.1,72.0 L240.0,71.1 L239.9,70.3 L239.8,69.5 L239.8,68.6 L239.7,67.9 L239.7,67.1 L239.7,66.3Z" fill="#ebd8e4"/>
<path d="M239.7,66.3 L239.7,65.5 L239.7,64.7 L239.8,63.9 L239.8,63.1 L239.9,62.3 L240.0,61.6 L240.1,60.9 L240.2,60.3 L240.4,59.7 L240.5,59.1 L240.7,58.5 L240.9,58.0 L241.1,57.5 L241.3,56.9 L241.6,56.4 L241.8,55.8 L242.1,55.2 L242.4,54.5 L242.7,53.8 L243.0,53.1 L243.4,52.4 L243.8,51.6 L244.1,50.8 L244.5,50.0 L244.9,49.2 L245.4,48.4 L245.8,47.6 L246.3,46.9 L246.7,46.1 L247.2,45.4 L247.7,44.6 L248.3,43.9 L248.8,43.2 L249.4,42.4 L250.0,41.7 L250.6,41.0 L251.2,40.3 L251.8,39.6 L252.4,38.9 L253.1,38.3 L253.8,37.7 L254.5,37.0 L255.2,36.5 L255.9,35.9 L256.7,35.3 L257.4,34.8 L258.2,34.2 L259.0,33.7 L259.8,33.3 L260.6,32.8 L261.5,32.4 L262.3,32.0 L263.2,31.6 L264.1,31.1 L265.0,30.5 L266.0,29.9 L266.9,29.4 L267.9,28.9 L268.9,28.6 L269.8,28.5 L270.9,28.5 L271.9,28.6 L272.9,28.6 L274.0,28.4 L275.1,28.0 L276.2,27.5 L277.3,27.0 L278.4,26.5 L279.6,26.3 L280.7,26.1 L281.9,26.0 L283.1,26.0 L284.3,25.9 L285.6,25.8 L286.8,25.6 L288.1,25.4 L289.4,25.2 L290.6,25.0 L292.0,25.0 L293.3,25.1 L294.6,25.3 L296.0,25.3 L297.4,25.1 L298.8,24.6 L300.2,24.0 L301.6,23.6 L303.1,23.6 L304.6,23.8 L306.0,24.0 L307.5,24.1 L309.0,24.0 L310.6,24.0 L312.1,23.9 L313.7,23.9 L315.3,24.0 L316.9,24.2 L318.5,24.3 L320.1,24.2 L321.8,23.8 L323.4,23.4 L325.1,23.3 L326.8,23.4 L328.5,23.5 L330.3,23.6 L332.0,23.5 L333.8,23.3 L335.6,23.2 L337.4,23.2 L339.2,23.3 L341.0,23.4 L342.9,23.5 L344.7,23.6 L346.6,23.6 L348.5,23.6 L350.5,23.2 L352.4,23.0 L354.3,23.1 L356.3,23.5 L358.3,23.8 L360.3,23.8 L362.3,23.8 L364.3,23.8 L366.4,23.7 L368.5,23.6 L370.5,23.6 L372.7,23.7 L374.8,23.8 L376.9,23.7 L379.1,23.3 L381.2,23.1 L383.4,23.2 L385.6,23.3 L387.8,23.3 L390.1,23.2 L392.3,23.0 L394.6,23.1 L396.9,23.2 L399.2,23.3 L401.5,23.5" fill="none" stroke="#5e3e80" stroke-width="0.7"/>
<path d="M239.7,66.3 L239.7,67.1 L239.7,67.9 L239.8,68.6 L239.8,69.5 L239.9,70.3 L240.0,71.1 L240.1,72.0 L240.2,72.9 L240.4,73.8 L240.5,74.7 L240.7,75.7 L240.9,76.7 L241.1,77.6 L241.3,78.6 L241.6,79.6 L241.8,80.5 L242.1,81.5 L242.4,82.4 L242.7,83.3 L243.0,84.2 L243.4,85.1 L243.8,86.0 L244.1,86.9 L244.5,87.8 L244.9,88.7 L245.4,89.5 L245.8,90.3 L246.3,91.1 L246.7,91.9 L247.2,92.6 L247.7,93.3 L248.3,94.0 L248.8,94.7 L249.4,95.3 L250.0,96.0 L250.6,96.6 L251.2,97.2 L251.8,97.8 L252.4,98.4 L253.1,98.9 L253.8,99.5 L254.5,100.0 L255.2,100.5 L255.9,101.0 L256.7,101.4 L257.4,101.9 L258.2,102.3 L259.0,102.7 L259.8,103.2 L260.6,103.6 L261.5,104.1 L262.3,104.5 L263.2,104.9 L264.1,105.3 L265.0,105.7 L266.0,106.1 L266.9,106.4 L267.9,106.8 L268.9,107.1 L269.8,107.5 L270.9,107.9 L271.9,108.2 L272.9,108.6 L274.0,109.0 L275.1,109.3 L276.2,109.5 L277.3,109.8 L278.4,110.1 L279.6,110.4 L280.7,110.8 L281.9,111.3 L283.1,111.7 L284.3,112.1 L285.6,112.4 L286.8,112.7 L288.1,112.9 L289.4,113.1 L290.6,113.3 L292.0,113.4 L293.3,113.5 L294.6,113.6 L296.0,113.7 L297.4,114.0 L298.8,114.5 L300.2,115.1 L301.6,115.5 L303.1,115.7 L304.6,115.9 L306.0,116.0 L307.5,116.2 L309.0,116.4 L310.6,116.6 L312.1,116.9 L313.7,117.1 L315.3,117.0 L316.9,116.8 L318.5,116.6 L320.1,116.6 L321.8,116.6 L323.4,116.7 L325.1,116.7 L326.8,116.8 L328.5,116.9 L330.3,116.9 L332.0,116.9 L333.8,116.7 L335.6,116.7 L337.4,116.9 L339.2,117.6 L341.0,118.1 L342.9,118.1 L344.7,117.7 L346.6,117.3 L348.5,117.3 L350.5,117.4 L352.4,117.4 L354.3,117.6 L356.3,117.8 L358.3,118.1 L360.3,118.4 L362.3,118.9 L364.3,119.1 L366.4,119.1 L368.5,118.8 L370.5,118.6 L372.7,118.4 L374.8,118.2 L376.9,118.3 L379.1,118.4 L381.2,118.5 L383.4,118.9 L385.6,119.3 L387.8,119.4 L390.1,119.3 L392.3,119.1 L394.6,119.0 L396.9,118.9 L399.2,119.0 L401.5,119.1" fill="none" stroke="#8a7a2a" stroke-width="0.7"/>
<path d="M239.7,66.3 L239.7,66.3 L239.7,66.3 L239.8,66.3 L239.8,66.4 L239.9,66.4 L240.0,66.4 L240.1,66.4 L240.2,66.4 L240.4,66.4 L240.5,66.4 L240.7,66.5 L240.9,66.5 L241.1,66.5 L241.3,66.5 L241.6,66.5 L241.8,66.6 L242.1,66.6 L242.4,66.6 L242.7,66.6 L243.0,66.6 L243.4,66.7 L243.8,66.7 L244.1,66.7 L244.5,66.7 L244.9,66.8 L245.4,66.8 L245.8,66.8 L246.3,66.8 L246.7,66.9 L247.2,66.9 L247.7,66.9 L248.3,67.0 L248.8,67.0 L249.4,67.0 L250.0,67.0 L250.6,67.1 L251.2,67.1 L251.8,67.1 L252.4,67.2 L253.1,67.2 L253.8,67.2 L254.5,67.3 L255.2,67.3 L255.9,67.3 L256.7,67.4 L257.4,67.4 L258.2,67.5 L259.0,67.5 L259.8,67.5 L260.6,67.4 L261.5,67.3 L262.3,67.3 L263.2,67.3 L264.1,67.3 L265.0,67.4 L266.0,67.4 L266.9,67.5 L267.9,67.6 L268.9,67.6 L269.8,67.8 L270.9,67.9 L271.9,68.1 L272.9,68.2 L274.0,68.2 L275.1,68.2 L276.2,68.0 L277.3,67.9 L278.4,67.7 L279.6,67.7 L280.7,67.8 L281.9,67.8 L283.1,67.9 L284.3,67.9 L285.6,68.0 L286.8,68.0 L288.1,68.1 L289.4,68.2 L290.6,68.2 L292.0,68.3 L293.3,68.5 L294.6,68.7 L296.0,69.0 L297.4,69.2 L298.8,69.5 L300.2,69.7 L301.6,69.9 L303.1,69.9 L304.6,69.7 L306.0,69.4 L307.5,69.2 L309.0,69.1 L310.6,69.0 L312.1,69.0 L313.7,69.0 L315.3,69.2 L316.9,69.6 L318.5,69.8 L320.1,69.8 L321.8,69.7 L323.4,69.6 L325.1,69.6 L326.8,69.7 L328.5,69.9 L330.3,70.0 L332.0,70.2 L333.8,70.5 L335.6,70.6 L337.4,70.6 L339.2,70.3 L341.0,70.0 L342.9,70.1 L344.7,70.3 L346.6,70.4 L348.5,70.5 L350.5,70.3 L352.4,70.2 L354.3,70.3 L356.3,70.5 L358.3,70.6 L360.3,70.8 L362.3,70.9 L364.3,70.9 L366.4,70.8 L368.5,70.6 L370.5,70.6 L372.7,70.7 L374.8,70.9 L376.9,71.0 L379.1,71.0 L381.2,71.1 L383.4,71.1 L385.6,71.0 L387.8,71.0 L390.1,70.9 L392.3,70.9 L394.6,70.9 L396.9,70.9 L399.2,70.9 L401.5,71.1" fill="none" stroke="#3030a0" stroke-width="0.7"/>
<path d="M239.7,66.3 L239.7,66.3 L239.7,66.3 L239.8,66.3 L239.8,66.4 L239.9,66.4 L240.0,66.4 L240.1,66.4 L240.2,66.4 L240.4,66.4 L240.5,66.4 L240.7,66.5 L240.9,66.5 L241.1,66.5 L241.3,66.5 L241.6,66.5 L241.8,66.6 L242.1,66.6 L242.4,66.6 L242.7,66.6 L243.0,66.6 L243.4,66.7 L243.8,66.7 L244.1,66.7 L244.5,66.7 L244.9,66.8 L245.4,66.8 L245.8,66.8 L246.3,66.8 L246.7,66.9 L247.2,66.9 L247.7,66.9 L248.3,67.0 L248.8,67.0 L249.4,67.0 L250.0,67.0 L250.6,67.1 L251.2,67.1 L251.8,67.1 L252.4,67.2 L253.1,67.2 L253.8,67.2 L254.5,67.3 L255.2,67.3 L255.9,67.3 L256.7,67.4 L257.4,67.4 L258.2,67.4 L259.0,67.5 L259.8,67.5 L260.6,67.5 L261.5,67.6 L262.3,67.6 L263.2,67.6 L264.1,67.7 L265.0,67.7 L266.0,67.7 L266.9,67.8 L267.9,67.8 L268.9,67.8 L269.8,67.9 L270.9,67.9 L271.9,68.0 L272.9,68.0 L274.0,68.0 L275.1,68.1 L276.2,68.1 L277.3,68.1 L278.4,68.2 L279.6,68.2 L280.7,68.3 L281.9,68.3 L283.1,68.3 L284.3,68.4 L285.6,68.4 L286.8,68.5 L288.1,68.5 L289.4,68.5 L290.6,68.6 L292.0,68.6 L293.3,68.7 L294.6,68.7 L296.0,68.8 L297.4,68.8 L298.8,68.9 L300.2,68.9 L301.6,69.0 L303.1,69.0 L304.6,69.1 L306.0,69.2 L307.5,69.2 L309.0,69.3 L310.6,69.3 L312.1,69.4 L313.7,69.4 L315.3,69.5 L316.9,69.6 L318.5,69.6 L320.1,69.7 L321.8,69.7 L323.4,69.8 L325.1,69.9 L326.8,69.9 L328.5,70.0 L330.3,70.0 L332.0,70.1 L333.8,70.1 L335.6,70.2 L337.4,70.2 L339.2,70.3 L341.0,70.3 L342.9,70.4 L344.7,70.4 L346.6,70.4 L348.5,70.5 L350.5,70.5 L352.4,70.6 L354.3,70.6 L356.3,70.7 L358.3,70.7 L360.3,70.8 L362.3,70.8 L364.3,70.8 L366.4,70.9 L368.5,70.9 L370.5,71.0 L372.7,71.0 L374.8,71.0 L376.9,71.1 L379.1,71.1 L381.2,71.2 L383.4,71.2 L385.6,71.2 L387.8,71.3 L390.1,71.3 L392.3,71.4 L394.6,71.4 L396.9,71.4 L399.2,71.5 L401.5,71.5" fill="none" stroke="#000" stroke-width="1.7" stroke-linejoin="round"/>
<path d="M239.7,66.3 L239.7,65.5 L239.7,64.7 L239.8,63.9 L239.8,63.1 L239.9,62.3 L240.0,61.6 L240.1,60.9 L240.2,60.3 L240.4,59.7 L240.5,59.1 L240.7,58.5 L240.9,58.0 L241.1,57.5 L241.3,56.9 L241.6,56.4 L241.8,55.8 L242.1,55.2 L242.4,54.5 L242.7,53.8 L243.0,53.1 L243.4,52.4 L243.8,51.6 L244.1,50.8 L244.5,50.0 L244.9,49.2 L245.4,48.4 L245.8,47.6 L246.3,46.9 L246.7,46.1 L247.2,45.4 L247.7,44.6 L248.3,43.9 L248.8,43.2 L249.4,42.4 L250.0,41.7 L250.6,41.0 L251.2,40.3 L251.8,39.6 L252.4,38.9 L253.1,38.3 L253.8,37.7 L254.5,37.0 L255.2,36.5 L255.9,35.9 L256.7,35.3 L257.4,34.8 L258.2,34.3 L259.0,33.8 L259.8,33.3 L260.6,32.8 L261.5,32.3 L262.3,31.9 L263.2,31.4 L264.1,31.0 L265.0,30.6 L266.0,30.3 L266.9,29.9 L267.9,29.6 L268.9,29.2 L269.8,28.9 L270.9,28.6 L271.9,28.3 L272.9,28.0 L274.0,27.7 L275.1,27.5 L276.2,27.2 L277.3,27.0 L278.4,26.8 L279.6,26.6 L280.7,26.4 L281.9,26.2 L283.1,26.0 L284.3,25.8 L285.6,25.6 L286.8,25.5 L288.1,25.4 L289.4,25.2 L290.6,25.1 L292.0,25.0 L293.3,24.9 L294.6,24.8 L296.0,24.8 L297.4,24.7 L298.8,24.6 L300.2,24.5 L301.6,24.5 L303.1,24.4 L304.6,24.3 L306.0,24.3 L307.5,24.2 L309.0,24.2 L310.6,24.1 L312.1,24.1 L313.7,24.0 L315.3,24.0 L316.9,23.9 L318.5,23.9 L320.1,23.8 L321.8,23.8 L323.4,23.8 L325.1,23.7 L326.8,23.7 L328.5,23.7 L330.3,23.6 L332.0,23.6 L333.8,23.6 L335.6,23.5 L337.4,23.5 L339.2,23.5 L341.0,23.5 L342.9,23.4 L344.7,23.4 L346.6,23.4 L348.5,23.4 L350.5,23.4 L352.4,23.4 L354.3,23.4 L356.3,23.4 L358.3,23.4 L360.3,23.4 L362.3,23.4 L364.3,23.4 L366.4,23.4 L368.5,23.4 L370.5,23.4 L372.7,23.4 L374.8,23.4 L376.9,23.4 L379.1,23.4 L381.2,23.4 L383.4,23.4 L385.6,23.4 L387.8,23.4 L390.1,23.4 L392.3,23.4 L394.6,23.4 L396.9,23.4 L399.2,23.4 L401.5,23.4" fill="none" stroke="#e3141e" stroke-width="1.6" stroke-dasharray="3.1,1.2" stroke-linejoin="round"/>
<path d="M239.7,66.3 L239.7,67.1 L239.7,67.9 L239.8,68.6 L239.8,69.5 L239.9,70.3 L240.0,71.1 L240.1,72.0 L240.2,72.9 L240.4,73.8 L240.5,74.7 L240.7,75.7 L240.9,76.7 L241.1,77.6 L241.3,78.6 L241.6,79.6 L241.8,80.5 L242.1,81.5 L242.4,82.4 L242.7,83.3 L243.0,84.2 L243.4,85.1 L243.8,86.0 L244.1,86.9 L244.5,87.8 L244.9,88.7 L245.4,89.5 L245.8,90.3 L246.3,91.1 L246.7,91.9 L247.2,92.6 L247.7,93.3 L248.3,94.0 L248.8,94.7 L249.4,95.3 L250.0,96.0 L250.6,96.6 L251.2,97.2 L251.8,97.8 L252.4,98.4 L253.1,98.9 L253.8,99.5 L254.5,100.0 L255.2,100.5 L255.9,101.0 L256.7,101.5 L257.4,102.0 L258.2,102.4 L259.0,102.9 L259.8,103.3 L260.6,103.7 L261.5,104.2 L262.3,104.6 L263.2,105.0 L264.1,105.4 L265.0,105.8 L266.0,106.2 L266.9,106.5 L267.9,106.9 L268.9,107.3 L269.8,107.6 L270.9,108.0 L271.9,108.3 L272.9,108.7 L274.0,109.0 L275.1,109.3 L276.2,109.7 L277.3,110.0 L278.4,110.4 L279.6,110.7 L280.7,111.1 L281.9,111.4 L283.1,111.8 L284.3,112.1 L285.6,112.5 L286.8,112.8 L288.1,113.1 L289.4,113.3 L290.6,113.6 L292.0,113.8 L293.3,114.0 L294.6,114.2 L296.0,114.4 L297.4,114.6 L298.8,114.8 L300.2,114.9 L301.6,115.1 L303.1,115.3 L304.6,115.4 L306.0,115.6 L307.5,115.7 L309.0,115.8 L310.6,116.0 L312.1,116.1 L313.7,116.2 L315.3,116.3 L316.9,116.5 L318.5,116.6 L320.1,116.7 L321.8,116.8 L323.4,116.9 L325.1,116.9 L326.8,117.0 L328.5,117.1 L330.3,117.2 L332.0,117.3 L333.8,117.4 L335.6,117.4 L337.4,117.5 L339.2,117.6 L341.0,117.7 L342.9,117.7 L344.7,117.8 L346.6,117.9 L348.5,117.9 L350.5,118.0 L352.4,118.0 L354.3,118.1 L356.3,118.2 L358.3,118.2 L360.3,118.3 L362.3,118.3 L364.3,118.4 L366.4,118.5 L368.5,118.5 L370.5,118.6 L372.7,118.7 L374.8,118.7 L376.9,118.8 L379.1,118.8 L381.2,118.9 L383.4,119.0 L385.6,119.0 L387.8,119.1 L390.1,119.1 L392.3,119.2 L394.6,119.2 L396.9,119.3 L399.2,119.3 L401.5,119.4" fill="none" stroke="#e3141e" stroke-width="1.6" stroke-dasharray="3.1,1.2" stroke-linejoin="round"/>
<path d="M239.70,20.70 V123.30" stroke="#606060" stroke-width="1" fill="none"/>
<path d="M237.20,121.80 H404.50" stroke="#3c3c3c" stroke-width="1" fill="none"/>
<path d="M239.70,121.80 v-1.8 M247.79,121.80 v-1.0 M255.88,121.80 v-1.0 M263.97,121.80 v-1.0 M272.06,121.80 v-1.8 M280.15,121.80 v-1.0 M288.24,121.80 v-1.0 M296.33,121.80 v-1.0 M304.42,121.80 v-1.8 M312.51,121.80 v-1.0 M320.60,121.80 v-1.0 M328.69,121.80 v-1.0 M336.78,121.80 v-1.8 M344.87,121.80 v-1.0 M352.96,121.80 v-1.0 M361.05,121.80 v-1.0 M369.14,121.80 v-1.8 M377.23,121.80 v-1.0 M385.32,121.80 v-1.0 M393.41,121.80 v-1.0 M401.50,121.80 v-1.8 M239.70,22.00 h1.8 M239.70,43.25 h1.8 M239.70,66.30 h1.8 M239.70,92.00 h1.8" stroke="#222" stroke-width="0.6" fill="none"/>
<text x="272.06" y="128.90" text-anchor="middle" class="tk">2</text>
<text x="304.42" y="128.90" text-anchor="middle" class="tk">4</text>
<text x="336.78" y="128.90" text-anchor="middle" class="tk">6</text>
<text x="369.14" y="128.90" text-anchor="middle" class="tk">8</text>
<text x="401.50" y="128.90" text-anchor="middle" class="tk">10</text>
<text x="237.70" y="24.60" text-anchor="end" class="tk">0.6</text>
<text x="237.70" y="45.85" text-anchor="end" class="tk">0.55</text>
<text x="237.70" y="68.90" text-anchor="end" class="tk">0.5</text>
<text x="237.70" y="94.60" text-anchor="end" class="tk">0.45</text>
<path d="M440.7,62.5 L440.7,62.0 L440.7,61.4 L440.8,60.7 L440.8,60.0 L440.9,59.3 L441.0,58.4 L441.1,57.5 L441.2,56.5 L441.4,55.3 L441.5,54.0 L441.7,52.5 L441.9,50.9 L442.1,49.3 L442.3,47.7 L442.6,46.0 L442.8,44.4 L443.1,42.9 L443.4,41.5 L443.7,40.3 L444.0,39.2 L444.4,38.2 L444.8,37.2 L445.1,36.3 L445.5,35.5 L445.9,34.7 L446.4,33.9 L446.8,33.1 L447.3,32.4 L447.7,31.6 L448.2,30.9 L448.7,30.2 L449.3,29.4 L449.8,28.8 L450.4,28.1 L451.0,27.6 L451.6,27.2 L452.2,26.8 L452.8,26.5 L453.4,26.2 L454.1,25.9 L454.8,25.5 L455.5,25.2 L456.2,24.8 L456.9,24.5 L457.7,24.1 L458.4,23.8 L459.2,23.4 L460.0,23.1 L460.8,22.9 L461.6,22.8 L462.5,22.8 L463.3,23.0 L464.2,23.2 L465.1,23.4 L466.0,23.7 L467.0,24.1 L467.9,24.5 L468.9,24.7 L469.9,24.7 L470.8,24.6 L471.9,24.5 L472.9,24.4 L473.9,24.1 L475.0,23.5 L476.1,23.0 L477.2,22.7 L478.3,23.1 L479.4,23.9 L480.6,24.6 L481.7,24.6 L482.9,24.4 L484.1,24.0 L485.3,23.9 L486.6,24.1 L487.8,24.3 L489.1,24.5 L490.4,24.5 L491.6,24.4 L493.0,24.4 L494.3,24.1 L495.6,23.3 L497.0,22.8 L498.4,23.0 L499.8,23.8 L501.2,24.4 L502.6,24.1 L504.1,23.6 L505.6,23.3 L507.0,24.2 L508.5,25.4 L510.0,25.7 L511.6,25.3 L513.1,24.9 L514.7,24.6 L516.3,24.3 L517.9,24.0 L519.5,23.4 L521.1,23.0 L522.8,23.1 L524.4,23.8 L526.1,24.1 L527.8,24.2 L529.5,24.2 L531.3,23.7 L533.0,22.8 L534.8,23.3 L536.6,25.7 L538.4,26.3 L540.2,25.2 L542.0,24.5 L543.9,25.2 L545.7,25.9 L547.6,24.6 L549.5,22.9 L551.5,23.8 L553.4,25.7 L555.3,25.0 L557.3,22.8 L559.3,22.7 L561.3,23.2 L563.3,23.8 L565.3,24.6 L567.4,24.6 L569.5,24.3 L571.5,23.3 L573.7,21.6 L575.8,21.8 L577.9,22.8 L580.1,23.9 L582.2,25.0 L584.4,26.0 L586.6,26.4 L588.8,25.8 L591.1,24.9 L593.3,24.0 L595.6,24.1 L597.9,25.0 L600.2,24.6 L602.5,22.9 L602.5,69.9 L600.2,70.4 L597.9,70.5 L595.6,70.1 L593.3,70.1 L591.1,70.4 L588.8,70.5 L586.6,70.5 L584.4,71.0 L582.2,71.0 L580.1,70.6 L577.9,70.2 L575.8,70.0 L573.7,70.0 L571.5,70.0 L569.5,70.0 L567.4,69.8 L565.3,69.8 L563.3,70.1 L561.3,70.2 L559.3,70.0 L557.3,69.9 L555.3,70.0 L553.4,70.0 L551.5,69.9 L549.5,69.8 L547.6,69.9 L545.7,70.0 L543.9,70.1 L542.0,70.2 L540.2,70.3 L538.4,70.3 L536.6,70.2 L534.8,69.9 L533.0,69.7 L531.3,69.7 L529.5,69.6 L527.8,69.6 L526.1,69.6 L524.4,69.6 L522.8,69.6 L521.1,69.6 L519.5,69.8 L517.9,70.1 L516.3,69.9 L514.7,69.5 L513.1,69.3 L511.6,69.8 L510.0,70.4 L508.5,70.4 L507.0,70.3 L505.6,70.1 L504.1,69.9 L502.6,69.7 L501.2,69.6 L499.8,69.8 L498.4,70.3 L497.0,70.4 L495.6,70.2 L494.3,70.0 L493.0,69.8 L491.6,69.6 L490.4,69.4 L489.1,69.2 L487.8,69.2 L486.6,69.2 L485.3,69.2 L484.1,69.1 L482.9,68.9 L481.7,68.7 L480.6,68.6 L479.4,68.6 L478.3,68.5 L477.2,68.2 L476.1,67.8 L475.0,67.5 L473.9,67.3 L472.9,67.4 L471.9,67.6 L470.8,67.8 L469.9,67.9 L468.9,67.9 L467.9,67.9 L467.0,67.8 L466.0,67.7 L465.1,67.6 L464.2,67.6 L463.3,67.7 L462.5,67.7 L461.6,67.7 L460.8,67.6 L460.0,67.4 L459.2,67.2 L458.4,67.1 L457.7,66.9 L456.9,66.8 L456.2,66.6 L455.5,66.5 L454.8,66.4 L454.1,66.2 L453.4,66.1 L452.8,66.0 L452.2,65.8 L451.6,65.7 L451.0,65.6 L450.4,65.4 L449.8,65.3 L449.3,65.2 L448.7,65.0 L448.2,64.9 L447.7,64.8 L447.3,64.7 L446.8,64.5 L446.4,64.4 L445.9,64.3 L445.5,64.2 L445.1,64.0 L444.8,63.9 L444.4,63.8 L444.0,63.7 L443.7,63.6 L443.4,63.5 L443.1,63.4 L442.8,63.3 L442.6,63.2 L442.3,63.1 L442.1,63.0 L441.9,63.0 L441.7,62.9 L441.5,62.8 L441.4,62.8 L441.2,62.7 L441.1,62.7 L441.0,62.6 L440.9,62.6 L440.8,62.6 L440.8,62.5 L440.7,62.5 L440.7,62.5 L440.7,62.5Z" fill="#c7b7d6"/>
<path d="M440.7,62.5 L440.7,62.5 L440.7,62.5 L440.8,62.5 L440.8,62.6 L440.9,62.6 L441.0,62.6 L441.1,62.7 L441.2,62.7 L441.4,62.8 L441.5,62.8 L441.7,62.9 L441.9,63.0 L442.1,63.0 L442.3,63.1 L442.6,63.2 L442.8,63.3 L443.1,63.4 L443.4,63.5 L443.7,63.6 L444.0,63.7 L444.4,63.8 L444.8,63.9 L445.1,64.0 L445.5,64.2 L445.9,64.3 L446.4,64.4 L446.8,64.5 L447.3,64.7 L447.7,64.8 L448.2,64.9 L448.7,65.0 L449.3,65.2 L449.8,65.3 L450.4,65.4 L451.0,65.6 L451.6,65.7 L452.2,65.8 L452.8,66.0 L453.4,66.1 L454.1,66.2 L454.8,66.4 L455.5,66.5 L456.2,66.6 L456.9,66.8 L457.7,66.9 L458.4,67.1 L459.2,67.2 L460.0,67.4 L460.8,67.6 L461.6,67.7 L462.5,67.7 L463.3,67.7 L464.2,67.6 L465.1,67.6 L466.0,67.7 L467.0,67.8 L467.9,67.9 L468.9,67.9 L469.9,67.9 L470.8,67.8 L471.9,67.6 L472.9,67.4 L473.9,67.3 L475.0,67.5 L476.1,67.8 L477.2,68.2 L478.3,68.5 L479.4,68.6 L480.6,68.6 L481.7,68.7 L482.9,68.9 L484.1,69.1 L485.3,69.2 L486.6,69.2 L487.8,69.2 L489.1,69.2 L490.4,69.4 L491.6,69.6 L493.0,69.8 L494.3,70.0 L495.6,70.2 L497.0,70.4 L498.4,70.3 L499.8,69.8 L501.2,69.6 L502.6,69.7 L504.1,69.9 L505.6,70.1 L507.0,70.3 L508.5,70.4 L510.0,70.4 L511.6,69.8 L513.1,69.3 L514.7,69.5 L516.3,69.9 L517.9,70.1 L519.5,69.8 L521.1,69.6 L522.8,69.6 L524.4,69.6 L526.1,69.6 L527.8,69.6 L529.5,69.6 L531.3,69.7 L533.0,69.7 L534.8,69.9 L536.6,70.2 L538.4,70.3 L540.2,70.3 L542.0,70.2 L543.9,70.1 L545.7,70.0 L547.6,69.9 L549.5,69.8 L551.5,69.9 L553.4,70.0 L555.3,70.0 L557.3,69.9 L559.3,70.0 L561.3,70.2 L563.3,70.1 L565.3,69.8 L567.4,69.8 L569.5,70.0 L571.5,70.0 L573.7,70.0 L575.8,70.0 L577.9,70.2 L580.1,70.6 L582.2,71.0 L584.4,71.0 L586.6,70.5 L588.8,70.5 L591.1,70.4 L593.3,70.1 L595.6,70.1 L597.9,70.5 L600.2,70.4 L602.5,69.9 L602.5,116.1 L600.2,115.7 L597.9,115.7 L595.6,115.8 L593.3,115.7 L591.1,116.1 L588.8,116.5 L586.6,116.3 L584.4,117.4 L582.2,118.4 L580.1,118.5 L577.9,117.3 L575.8,116.3 L573.7,115.9 L571.5,115.9 L569.5,115.4 L567.4,114.2 L565.3,113.5 L563.3,113.8 L561.3,114.6 L559.3,115.1 L557.3,115.1 L555.3,115.6 L553.4,115.9 L551.5,115.9 L549.5,116.0 L547.6,116.2 L545.7,116.2 L543.9,116.1 L542.0,115.5 L540.2,115.4 L538.4,115.6 L536.6,115.8 L534.8,116.0 L533.0,115.9 L531.3,115.9 L529.5,116.2 L527.8,116.6 L526.1,117.0 L524.4,117.1 L522.8,116.3 L521.1,115.8 L519.5,116.1 L517.9,116.1 L516.3,115.8 L514.7,115.5 L513.1,115.2 L511.6,115.2 L510.0,115.8 L508.5,116.2 L507.0,115.9 L505.6,115.6 L504.1,115.7 L502.6,115.9 L501.2,116.2 L499.8,116.9 L498.4,117.6 L497.0,117.9 L495.6,117.5 L494.3,116.7 L493.0,115.9 L491.6,115.4 L490.4,115.2 L489.1,115.0 L487.8,114.9 L486.6,114.9 L485.3,114.8 L484.1,115.0 L482.9,115.0 L481.7,114.8 L480.6,114.3 L479.4,113.9 L478.3,113.6 L477.2,113.2 L476.1,112.8 L475.0,112.6 L473.9,112.5 L472.9,112.3 L471.9,112.0 L470.8,111.7 L469.9,111.8 L468.9,112.1 L467.9,112.5 L467.0,112.7 L466.0,112.6 L465.1,112.3 L464.2,111.9 L463.3,111.7 L462.5,111.6 L461.6,111.5 L460.8,111.3 L460.0,111.1 L459.2,110.8 L458.4,110.5 L457.7,110.2 L456.9,109.8 L456.2,109.5 L455.5,109.1 L454.8,108.7 L454.1,108.3 L453.4,107.8 L452.8,107.4 L452.2,106.9 L451.6,106.4 L451.0,105.8 L450.4,105.2 L449.8,104.5 L449.3,103.8 L448.7,103.1 L448.2,102.4 L447.7,101.7 L447.3,100.9 L446.8,100.2 L446.4,99.4 L445.9,98.6 L445.5,97.8 L445.1,96.9 L444.8,96.0 L444.4,94.9 L444.0,93.8 L443.7,92.6 L443.4,91.2 L443.1,89.6 L442.8,87.8 L442.6,85.9 L442.3,83.8 L442.1,81.8 L441.9,79.7 L441.7,77.6 L441.5,75.7 L441.4,73.9 L441.2,72.2 L441.1,70.7 L441.0,69.3 L440.9,68.0 L440.8,66.8 L440.8,65.6 L440.7,64.5 L440.7,63.5 L440.7,62.5Z" fill="#ebd8e4"/>
<path d="M440.7,62.5 L440.7,62.0 L440.7,61.4 L440.8,60.7 L440.8,60.0 L440.9,59.3 L441.0,58.4 L441.1,57.5 L441.2,56.5 L441.4,55.3 L441.5,54.0 L441.7,52.5 L441.9,50.9 L442.1,49.3 L442.3,47.7 L442.6,46.0 L442.8,44.4 L443.1,42.9 L443.4,41.5 L443.7,40.3 L444.0,39.2 L444.4,38.2 L444.8,37.2 L445.1,36.3 L445.5,35.5 L445.9,34.7 L446.4,33.9 L446.8,33.1 L447.3,32.4 L447.7,31.6 L448.2,30.9 L448.7,30.2 L449.3,29.4 L449.8,28.8 L450.4,28.1 L451.0,27.6 L451.6,27.2 L452.2,26.8 L452.8,26.5 L453.4,26.2 L454.1,25.9 L454.8,25.5 L455.5,25.2 L456.2,24.8 L456.9,24.5 L457.7,24.1 L458.4,23.8 L459.2,23.4 L460.0,23.1 L460.8,22.9 L461.6,22.8 L462.5,22.8 L463.3,23.0 L464.2,23.2 L465.1,23.4 L466.0,23.7 L467.0,24.1 L467.9,24.5 L468.9,24.7 L469.9,24.7 L470.8,24.6 L471.9,24.5 L472.9,24.4 L473.9,24.1 L475.0,23.5 L476.1,23.0 L477.2,22.7 L478.3,23.1 L479.4,23.9 L480.6,24.6 L481.7,24.6 L482.9,24.4 L484.1,24.0 L485.3,23.9 L486.6,24.1 L487.8,24.3 L489.1,24.5 L490.4,24.5 L491.6,24.4 L493.0,24.4 L494.3,24.1 L495.6,23.3 L497.0,22.8 L498.4,23.0 L499.8,23.8 L501.2,24.4 L502.6,24.1 L504.1,23.6 L505.6,23.3 L507.0,24.2 L508.5,25.4 L510.0,25.7 L511.6,25.3 L513.1,24.9 L514.7,24.6 L516.3,24.3 L517.9,24.0 L519.5,23.4 L521.1,23.0 L522.8,23.1 L524.4,23.8 L526.1,24.1 L527.8,24.2 L529.5,24.2 L531.3,23.7 L533.0,22.8 L534.8,23.3 L536.6,25.7 L538.4,26.3 L540.2,25.2 L542.0,24.5 L543.9,25.2 L545.7,25.9 L547.6,24.6 L549.5,22.9 L551.5,23.8 L553.4,25.7 L555.3,25.0 L557.3,22.8 L559.3,22.7 L561.3,23.2 L563.3,23.8 L565.3,24.6 L567.4,24.6 L569.5,24.3 L571.5,23.3 L573.7,21.6 L575.8,21.8 L577.9,22.8 L580.1,23.9 L582.2,25.0 L584.4,26.0 L586.6,26.4 L588.8,25.8 L591.1,24.9 L593.3,24.0 L595.6,24.1 L597.9,25.0 L600.2,24.6 L602.5,22.9" fill="none" stroke="#5e3e80" stroke-width="0.7"/>
<path d="M440.7,62.5 L440.7,63.5 L440.7,64.5 L440.8,65.6 L440.8,66.8 L440.9,68.0 L441.0,69.3 L441.1,70.7 L441.2,72.2 L441.4,73.9 L441.5,75.7 L441.7,77.6 L441.9,79.7 L442.1,81.8 L442.3,83.8 L442.6,85.9 L442.8,87.8 L443.1,89.6 L443.4,91.2 L443.7,92.6 L444.0,93.8 L444.4,94.9 L444.8,96.0 L445.1,96.9 L445.5,97.8 L445.9,98.6 L446.4,99.4 L446.8,100.2 L447.3,100.9 L447.7,101.7 L448.2,102.4 L448.7,103.1 L449.3,103.8 L449.8,104.5 L450.4,105.2 L451.0,105.8 L451.6,106.4 L452.2,106.9 L452.8,107.4 L453.4,107.8 L454.1,108.3 L454.8,108.7 L455.5,109.1 L456.2,109.5 L456.9,109.8 L457.7,110.2 L458.4,110.5 L459.2,110.8 L460.0,111.1 L460.8,111.3 L461.6,111.5 L462.5,111.6 L463.3,111.7 L464.2,111.9 L465.1,112.3 L466.0,112.6 L467.0,112.7 L467.9,112.5 L468.9,112.1 L469.9,111.8 L470.8,111.7 L471.9,112.0 L472.9,112.3 L473.9,112.5 L475.0,112.6 L476.1,112.8 L477.2,113.2 L478.3,113.6 L479.4,113.9 L480.6,114.3 L481.7,114.8 L482.9,115.0 L484.1,115.0 L485.3,114.8 L486.6,114.9 L487.8,114.9 L489.1,115.0 L490.4,115.2 L491.6,115.4 L493.0,115.9 L494.3,116.7 L495.6,117.5 L497.0,117.9 L498.4,117.6 L499.8,116.9 L501.2,116.2 L502.6,115.9 L504.1,115.7 L505.6,115.6 L507.0,115.9 L508.5,116.2 L510.0,115.8 L511.6,115.2 L513.1,115.2 L514.7,115.5 L516.3,115.8 L517.9,116.1 L519.5,116.1 L521.1,115.8 L522.8,116.3 L524.4,117.1 L526.1,117.0 L527.8,116.6 L529.5,116.2 L531.3,115.9 L533.0,115.9 L534.8,116.0 L536.6,115.8 L538.4,115.6 L540.2,115.4 L542.0,115.5 L543.9,116.1 L545.7,116.2 L547.6,116.2 L549.5,116.0 L551.5,115.9 L553.4,115.9 L555.3,115.6 L557.3,115.1 L559.3,115.1 L561.3,114.6 L563.3,113.8 L565.3,113.5 L567.4,114.2 L569.5,115.4 L571.5,115.9 L573.7,115.9 L575.8,116.3 L577.9,117.3 L580.1,118.5 L582.2,118.4 L584.4,117.4 L586.6,116.3 L588.8,116.5 L591.1,116.1 L593.3,115.7 L595.6,115.8 L597.9,115.7 L600.2,115.7 L602.5,116.1" fill="none" stroke="#8a7a2a" stroke-width="0.7"/>
<path d="M440.7,62.5 L440.7,62.5 L440.7,62.5 L440.8,62.5 L440.8,62.6 L440.9,62.6 L441.0,62.6 L441.1,62.7 L441.2,62.7 L441.4,62.8 L441.5,62.8 L441.7,62.9 L441.9,63.0 L442.1,63.0 L442.3,63.1 L442.6,63.2 L442.8,63.3 L443.1,63.4 L443.4,63.5 L443.7,63.6 L444.0,63.7 L444.4,63.8 L444.8,63.9 L445.1,64.0 L445.5,64.2 L445.9,64.3 L446.4,64.4 L446.8,64.5 L447.3,64.7 L447.7,64.8 L448.2,64.9 L448.7,65.0 L449.3,65.2 L449.8,65.3 L450.4,65.4 L451.0,65.6 L451.6,65.7 L452.2,65.8 L452.8,66.0 L453.4,66.1 L454.1,66.2 L454.8,66.4 L455.5,66.5 L456.2,66.6 L456.9,66.8 L457.7,66.9 L458.4,67.1 L459.2,67.2 L460.0,67.4 L460.8,67.6 L461.6,67.7 L462.5,67.7 L463.3,67.7 L464.2,67.6 L465.1,67.6 L466.0,67.7 L467.0,67.8 L467.9,67.9 L468.9,67.9 L469.9,67.9 L470.8,67.8 L471.9,67.6 L472.9,67.4 L473.9,67.3 L475.0,67.5 L476.1,67.8 L477.2,68.2 L478.3,68.5 L479.4,68.6 L480.6,68.6 L481.7,68.7 L482.9,68.9 L484.1,69.1 L485.3,69.2 L486.6,69.2 L487.8,69.2 L489.1,69.2 L490.4,69.4 L491.6,69.6 L493.0,69.8 L494.3,70.0 L495.6,70.2 L497.0,70.4 L498.4,70.3 L499.8,69.8 L501.2,69.6 L502.6,69.7 L504.1,69.9 L505.6,70.1 L507.0,70.3 L508.5,70.4 L510.0,70.4 L511.6,69.8 L513.1,69.3 L514.7,69.5 L516.3,69.9 L517.9,70.1 L519.5,69.8 L521.1,69.6 L522.8,69.6 L524.4,69.6 L526.1,69.6 L527.8,69.6 L529.5,69.6 L531.3,69.7 L533.0,69.7 L534.8,69.9 L536.6,70.2 L538.4,70.3 L540.2,70.3 L542.0,70.2 L543.9,70.1 L545.7,70.0 L547.6,69.9 L549.5,69.8 L551.5,69.9 L553.4,70.0 L555.3,70.0 L557.3,69.9 L559.3,70.0 L561.3,70.2 L563.3,70.1 L565.3,69.8 L567.4,69.8 L569.5,70.0 L571.5,70.0 L573.7,70.0 L575.8,70.0 L577.9,70.2 L580.1,70.6 L582.2,71.0 L584.4,71.0 L586.6,70.5 L588.8,70.5 L591.1,70.4 L593.3,70.1 L595.6,70.1 L597.9,70.5 L600.2,70.4 L602.5,69.9" fill="none" stroke="#3030a0" stroke-width="0.7"/>
<path d="M440.7,62.5 L440.7,62.5 L440.7,62.5 L440.8,62.5 L440.8,62.6 L440.9,62.6 L441.0,62.6 L441.1,62.7 L441.2,62.7 L441.4,62.8 L441.5,62.8 L441.7,62.9 L441.9,63.0 L442.1,63.0 L442.3,63.1 L442.6,63.2 L442.8,63.3 L443.1,63.4 L443.4,63.5 L443.7,63.6 L444.0,63.7 L444.4,63.8 L444.8,63.9 L445.1,64.0 L445.5,64.2 L445.9,64.3 L446.4,64.4 L446.8,64.5 L447.3,64.7 L447.7,64.8 L448.2,64.9 L448.7,65.0 L449.3,65.2 L449.8,65.3 L450.4,65.4 L451.0,65.6 L451.6,65.7 L452.2,65.8 L452.8,66.0 L453.4,66.1 L454.1,66.2 L454.8,66.4 L455.5,66.5 L456.2,66.6 L456.9,66.7 L457.7,66.9 L458.4,67.0 L459.2,67.1 L460.0,67.2 L460.8,67.3 L461.6,67.4 L462.5,67.6 L463.3,67.7 L464.2,67.8 L465.1,67.9 L466.0,68.0 L467.0,68.1 L467.9,68.1 L468.9,68.2 L469.9,68.3 L470.8,68.4 L471.9,68.5 L472.9,68.6 L473.9,68.6 L475.0,68.7 L476.1,68.8 L477.2,68.8 L478.3,68.9 L479.4,69.0 L480.6,69.0 L481.7,69.1 L482.9,69.1 L484.1,69.2 L485.3,69.2 L486.6,69.3 L487.8,69.3 L489.1,69.4 L490.4,69.4 L491.6,69.5 L493.0,69.5 L494.3,69.5 L495.6,69.6 L497.0,69.6 L498.4,69.6 L499.8,69.6 L501.2,69.7 L502.6,69.7 L504.1,69.7 L505.6,69.7 L507.0,69.8 L508.5,69.8 L510.0,69.8 L511.6,69.8 L513.1,69.8 L514.7,69.8 L516.3,69.8 L517.9,69.9 L519.5,69.9 L521.1,69.9 L522.8,69.9 L524.4,69.9 L526.1,69.9 L527.8,69.9 L529.5,69.9 L531.3,69.9 L533.0,69.9 L534.8,69.9 L536.6,69.9 L538.4,70.0 L540.2,70.0 L542.0,70.0 L543.9,70.0 L545.7,70.0 L547.6,70.0 L549.5,70.0 L551.5,70.0 L553.4,70.0 L555.3,70.0 L557.3,70.0 L559.3,70.0 L561.3,70.0 L563.3,70.0 L565.3,70.0 L567.4,70.0 L569.5,70.0 L571.5,70.0 L573.7,70.0 L575.8,70.0 L577.9,70.0 L580.1,70.0 L582.2,70.0 L584.4,70.0 L586.6,70.0 L588.8,70.0 L591.1,70.0 L593.3,70.0 L595.6,70.0 L597.9,70.0 L600.2,70.0 L602.5,70.0" fill="none" stroke="#000" stroke-width="1.75" stroke-linejoin="round"/>
<path d="M440.7,62.5 L440.7,62.0 L440.7,61.4 L440.8,60.7 L440.8,60.0 L440.9,59.3 L441.0,58.4 L441.1,57.5 L441.2,56.5 L441.4,55.3 L441.5,54.0 L441.7,52.5 L441.9,50.9 L442.1,49.3 L442.3,47.7 L442.6,46.0 L442.8,44.4 L443.1,42.9 L443.4,41.5 L443.7,40.3 L444.0,39.2 L444.4,38.2 L444.8,37.2 L445.1,36.3 L445.5,35.5 L445.9,34.7 L446.4,33.9 L446.8,33.1 L447.3,32.4 L447.7,31.6 L448.2,30.9 L448.7,30.2 L449.3,29.5 L449.8,28.8 L450.4,28.2 L451.0,27.6 L451.6,27.1 L452.2,26.7 L452.8,26.3 L453.4,26.0 L454.1,25.7 L454.8,25.4 L455.5,25.1 L456.2,24.9 L456.9,24.7 L457.7,24.5 L458.4,24.4 L459.2,24.3 L460.0,24.2 L460.8,24.2 L461.6,24.2 L462.5,24.1 L463.3,24.1 L464.2,24.1 L465.1,24.1 L466.0,24.1 L467.0,24.0 L467.9,24.0 L468.9,24.0 L469.9,24.0 L470.8,24.0 L471.9,24.0 L472.9,24.0 L473.9,24.0 L475.0,24.0 L476.1,24.0 L477.2,24.0 L478.3,24.0 L479.4,24.0 L480.6,24.0 L481.7,24.0 L482.9,24.0 L484.1,24.0 L485.3,24.0 L486.6,24.0 L487.8,24.0 L489.1,24.0 L490.4,24.0 L491.6,24.0 L493.0,24.0 L494.3,24.0 L495.6,24.0 L497.0,24.0 L498.4,24.0 L499.8,24.0 L501.2,24.0 L502.6,24.0 L504.1,24.0 L505.6,24.0 L507.0,24.0 L508.5,24.0 L510.0,24.0 L511.6,24.0 L513.1,24.0 L514.7,24.0 L516.3,24.0 L517.9,24.0 L519.5,24.0 L521.1,24.0 L522.8,24.0 L524.4,24.0 L526.1,24.0 L527.8,24.0 L529.5,24.0 L531.3,24.0 L533.0,24.0 L534.8,24.0 L536.6,24.0 L538.4,24.0 L540.2,24.0 L542.0,24.0 L543.9,24.0 L545.7,24.0 L547.6,24.0 L549.5,24.0 L551.5,24.0 L553.4,24.0 L555.3,24.1 L557.3,24.1 L559.3,24.1 L561.3,24.1 L563.3,24.1 L565.3,24.1 L567.4,24.1 L569.5,24.1 L571.5,24.1 L573.7,24.1 L575.8,24.1 L577.9,24.1 L580.1,24.1 L582.2,24.1 L584.4,24.1 L586.6,24.1 L588.8,24.2 L591.1,24.2 L593.3,24.2 L595.6,24.2 L597.9,24.2 L600.2,24.2 L602.5,24.2" fill="none" stroke="#e3141e" stroke-width="1.6" stroke-dasharray="3.1,1.2" stroke-linejoin="round"/>
<path d="M440.7,62.5 L440.7,63.5 L440.7,64.5 L440.8,65.6 L440.8,66.8 L440.9,68.0 L441.0,69.3 L441.1,70.7 L441.2,72.2 L441.4,73.9 L441.5,75.7 L441.7,77.6 L441.9,79.7 L442.1,81.8 L442.3,83.8 L442.6,85.9 L442.8,87.8 L443.1,89.6 L443.4,91.2 L443.7,92.6 L444.0,93.8 L444.4,94.9 L444.8,96.0 L445.1,96.9 L445.5,97.8 L445.9,98.6 L446.4,99.4 L446.8,100.2 L447.3,100.9 L447.7,101.7 L448.2,102.4 L448.7,103.1 L449.3,103.8 L449.8,104.5 L450.4,105.2 L451.0,105.8 L451.6,106.4 L452.2,106.9 L452.8,107.4 L453.4,107.8 L454.1,108.3 L454.8,108.7 L455.5,109.1 L456.2,109.5 L456.9,109.8 L457.7,110.1 L458.4,110.4 L459.2,110.7 L460.0,111.0 L460.8,111.2 L461.6,111.5 L462.5,111.7 L463.3,111.9 L464.2,112.1 L465.1,112.4 L466.0,112.5 L467.0,112.7 L467.9,112.9 L468.9,113.1 L469.9,113.2 L470.8,113.4 L471.9,113.5 L472.9,113.6 L473.9,113.8 L475.0,113.9 L476.1,114.0 L477.2,114.1 L478.3,114.2 L479.4,114.3 L480.6,114.4 L481.7,114.5 L482.9,114.6 L484.1,114.7 L485.3,114.8 L486.6,114.8 L487.8,114.9 L489.1,115.0 L490.4,115.0 L491.6,115.1 L493.0,115.1 L494.3,115.2 L495.6,115.2 L497.0,115.3 L498.4,115.3 L499.8,115.3 L501.2,115.4 L502.6,115.4 L504.1,115.5 L505.6,115.5 L507.0,115.5 L508.5,115.6 L510.0,115.6 L511.6,115.6 L513.1,115.7 L514.7,115.7 L516.3,115.7 L517.9,115.7 L519.5,115.7 L521.1,115.7 L522.8,115.8 L524.4,115.8 L526.1,115.8 L527.8,115.8 L529.5,115.8 L531.3,115.8 L533.0,115.8 L534.8,115.8 L536.6,115.8 L538.4,115.8 L540.2,115.9 L542.0,115.9 L543.9,115.9 L545.7,115.9 L547.6,115.9 L549.5,115.9 L551.5,115.9 L553.4,115.9 L555.3,115.9 L557.3,115.9 L559.3,115.9 L561.3,115.9 L563.3,115.9 L565.3,116.0 L567.4,116.0 L569.5,116.0 L571.5,116.0 L573.7,116.0 L575.8,116.0 L577.9,116.0 L580.1,116.0 L582.2,116.0 L584.4,116.0 L586.6,116.0 L588.8,116.0 L591.1,116.0 L593.3,116.0 L595.6,116.0 L597.9,116.0 L600.2,116.0 L602.5,116.0" fill="none" stroke="#e3141e" stroke-width="1.6" stroke-dasharray="3.1,1.2" stroke-linejoin="round"/>
<path d="M440.70,19.50 V122.20" stroke="#606060" stroke-width="1" fill="none"/>
<path d="M438.20,120.70 H605.50" stroke="#3c3c3c" stroke-width="1" fill="none"/>
<path d="M440.70,120.70 v-1.8 M448.79,120.70 v-1.0 M456.88,120.70 v-1.0 M464.97,120.70 v-1.0 M473.06,120.70 v-1.8 M481.15,120.70 v-1.0 M489.24,120.70 v-1.0 M497.33,120.70 v-1.0 M505.42,120.70 v-1.8 M513.51,120.70 v-1.0 M521.60,120.70 v-1.0 M529.69,120.70 v-1.0 M537.78,120.70 v-1.8 M545.87,120.70 v-1.0 M553.96,120.70 v-1.0 M562.05,120.70 v-1.0 M570.14,120.70 v-1.8 M578.23,120.70 v-1.0 M586.32,120.70 v-1.0 M594.41,120.70 v-1.0 M602.50,120.70 v-1.8 M440.70,30.75 h1.8 M440.70,45.75 h1.8 M440.70,62.50 h1.8 M440.70,78.00 h1.8 M440.70,96.25 h1.8 M440.70,114.25 h1.8" stroke="#222" stroke-width="0.6" fill="none"/>
<text x="473.06" y="128.00" text-anchor="middle" class="tk">2</text>
<text x="505.42" y="128.00" text-anchor="middle" class="tk">4</text>
<text x="537.78" y="128.00" text-anchor="middle" class="tk">6</text>
<text x="570.14" y="128.00" text-anchor="middle" class="tk">8</text>
<text x="602.50" y="128.00" text-anchor="middle" class="tk">10</text>
<text x="438.70" y="33.35" text-anchor="end" class="tk">0.54</text>
<text x="438.70" y="48.35" text-anchor="end" class="tk">0.52</text>
<text x="438.70" y="65.10" text-anchor="end" class="tk">0.5</text>
<text x="438.70" y="80.60" text-anchor="end" class="tk">0.48</text>
<text x="438.70" y="98.85" text-anchor="end" class="tk">0.46</text>
<text x="438.70" y="116.85" text-anchor="end" class="tk">0.44</text>
<path d="M39.0,140.3 L39.0,140.1 L39.0,140.0 L39.0,139.8 L39.1,139.7 L39.2,139.5 L39.3,139.4 L39.4,139.2 L39.5,139.1 L39.6,139.0 L39.8,138.9 L40.0,138.8 L40.2,138.7 L40.4,138.6 L40.6,138.5 L40.8,138.4 L41.1,138.3 L41.4,138.2 L41.7,138.2 L42.0,138.1 L42.3,138.1 L42.6,138.0 L43.0,138.0 L43.4,138.0 L43.8,138.0 L44.2,138.0 L44.6,138.0 L45.1,138.0 L45.5,138.0 L46.0,138.0 L46.5,138.0 L47.0,138.0 L47.5,138.0 L48.1,138.1 L48.6,138.1 L49.2,138.2 L49.8,138.2 L50.4,138.3 L51.0,138.4 L51.7,138.4 L52.3,138.5 L53.0,138.6 L53.7,138.7 L54.4,138.8 L55.2,139.0 L55.9,139.1 L56.7,139.2 L57.4,139.3 L58.2,139.5 L59.1,139.6 L59.9,139.8 L60.7,139.9 L61.6,140.1 L62.5,140.3 L63.4,140.5 L64.3,140.7 L65.2,140.9 L66.2,141.1 L67.1,141.3 L68.1,141.5 L69.1,141.7 L70.1,142.0 L71.1,142.2 L72.2,142.4 L73.3,142.7 L74.3,143.0 L75.4,143.2 L76.5,143.5 L77.7,143.8 L78.8,144.1 L80.0,144.4 L81.2,144.7 L82.4,145.0 L83.6,145.3 L84.8,145.6 L86.1,146.0 L87.3,146.3 L88.6,146.7 L89.9,147.0 L91.2,147.4 L92.5,147.7 L93.9,148.1 L95.3,148.5 L96.6,148.9 L98.0,149.3 L99.5,149.7 L100.9,150.1 L102.3,150.6 L103.8,151.0 L105.3,151.4 L106.8,151.9 L108.3,152.3 L109.8,152.8 L111.4,153.3 L112.9,153.7 L114.5,154.2 L116.1,154.7 L117.7,155.2 L119.4,155.7 L121.0,156.2 L122.7,156.8 L124.4,157.3 L126.1,157.8 L127.8,158.4 L129.5,158.9 L131.3,159.5 L133.0,160.1 L134.8,160.6 L136.6,161.2 L138.4,161.8 L140.3,162.4 L142.1,163.0 L144.0,163.7 L145.9,164.3 L147.8,164.9 L149.7,165.6 L151.6,166.2 L153.6,166.9 L155.6,167.6 L157.5,168.2 L159.5,168.9 L161.6,169.6 L163.6,170.3 L165.6,171.0 L167.7,171.8 L169.8,172.5 L171.9,173.2 L174.0,174.0 L176.2,174.7 L178.3,175.5 L180.5,176.3 L182.7,177.1 L184.9,177.9 L187.1,178.7 L189.3,179.5 L191.6,180.3 L193.8,181.1 L196.1,181.9 L198.4,182.8 L200.8,183.6 L200.8,209.4 L198.4,208.3 L196.1,207.3 L193.8,206.3 L191.6,205.2 L189.3,204.2 L187.1,203.2 L184.9,202.2 L182.7,201.2 L180.5,200.2 L178.3,199.3 L176.2,198.3 L174.0,197.4 L171.9,196.4 L169.8,195.5 L167.7,194.6 L165.6,193.6 L163.6,192.7 L161.6,191.8 L159.5,191.0 L157.5,190.1 L155.6,189.2 L153.6,188.3 L151.6,187.5 L149.7,186.6 L147.8,185.8 L145.9,185.0 L144.0,184.2 L142.1,183.3 L140.3,182.5 L138.4,181.7 L136.6,181.0 L134.8,180.2 L133.0,179.4 L131.3,178.6 L129.5,177.9 L127.8,177.1 L126.1,176.4 L124.4,175.7 L122.7,175.0 L121.0,174.3 L119.4,173.5 L117.7,172.9 L116.1,172.2 L114.5,171.5 L112.9,170.8 L111.4,170.2 L109.8,169.5 L108.3,168.8 L106.8,168.2 L105.3,167.6 L103.8,167.0 L102.3,166.3 L100.9,165.7 L99.5,165.1 L98.0,164.5 L96.6,163.9 L95.3,163.4 L93.9,162.8 L92.5,162.2 L91.2,161.7 L89.9,161.1 L88.6,160.6 L87.3,160.1 L86.1,159.5 L84.8,159.0 L83.6,158.5 L82.4,158.0 L81.2,157.5 L80.0,157.0 L78.8,156.5 L77.7,156.1 L76.5,155.6 L75.4,155.2 L74.3,154.7 L73.3,154.3 L72.2,153.8 L71.1,153.4 L70.1,153.0 L69.1,152.6 L68.1,152.2 L67.1,151.8 L66.2,151.4 L65.2,151.0 L64.3,150.6 L63.4,150.2 L62.5,149.9 L61.6,149.5 L60.7,149.2 L59.9,148.8 L59.1,148.5 L58.2,148.1 L57.4,147.8 L56.7,147.5 L55.9,147.2 L55.2,146.9 L54.4,146.6 L53.7,146.3 L53.0,146.0 L52.3,145.8 L51.7,145.5 L51.0,145.2 L50.4,145.0 L49.8,144.7 L49.2,144.5 L48.6,144.3 L48.1,144.0 L47.5,143.8 L47.0,143.6 L46.5,143.4 L46.0,143.2 L45.5,143.0 L45.1,142.8 L44.6,142.7 L44.2,142.5 L43.8,142.3 L43.4,142.2 L43.0,142.0 L42.6,141.9 L42.3,141.7 L42.0,141.6 L41.7,141.5 L41.4,141.4 L41.1,141.3 L40.8,141.2 L40.6,141.1 L40.4,141.0 L40.2,140.9 L40.0,140.8 L39.8,140.7 L39.6,140.7 L39.5,140.6 L39.4,140.6 L39.3,140.5 L39.2,140.5 L39.1,140.5 L39.0,140.4 L39.0,140.4 L39.0,140.4 L39.0,140.4Z" fill="#c7b7d6"/>
<path d="M39.0,140.4 L39.0,140.4 L39.0,140.4 L39.0,140.4 L39.1,140.5 L39.2,140.5 L39.3,140.5 L39.4,140.6 L39.5,140.6 L39.6,140.7 L39.8,140.7 L40.0,140.8 L40.2,140.9 L40.4,141.0 L40.6,141.1 L40.8,141.2 L41.1,141.3 L41.4,141.4 L41.7,141.5 L42.0,141.6 L42.3,141.7 L42.6,141.9 L43.0,142.0 L43.4,142.2 L43.8,142.3 L44.2,142.5 L44.6,142.7 L45.1,142.8 L45.5,143.0 L46.0,143.2 L46.5,143.4 L47.0,143.6 L47.5,143.8 L48.1,144.0 L48.6,144.3 L49.2,144.5 L49.8,144.7 L50.4,145.0 L51.0,145.2 L51.7,145.5 L52.3,145.8 L53.0,146.0 L53.7,146.3 L54.4,146.6 L55.2,146.9 L55.9,147.2 L56.7,147.5 L57.4,147.8 L58.2,148.1 L59.1,148.5 L59.9,148.8 L60.7,149.2 L61.6,149.5 L62.5,149.9 L63.4,150.2 L64.3,150.6 L65.2,151.0 L66.2,151.4 L67.1,151.8 L68.1,152.2 L69.1,152.6 L70.1,153.0 L71.1,153.4 L72.2,153.8 L73.3,154.3 L74.3,154.7 L75.4,155.2 L76.5,155.6 L77.7,156.1 L78.8,156.5 L80.0,157.0 L81.2,157.5 L82.4,158.0 L83.6,158.5 L84.8,159.0 L86.1,159.5 L87.3,160.1 L88.6,160.6 L89.9,161.1 L91.2,161.7 L92.5,162.2 L93.9,162.8 L95.3,163.4 L96.6,163.9 L98.0,164.5 L99.5,165.1 L100.9,165.7 L102.3,166.3 L103.8,167.0 L105.3,167.6 L106.8,168.2 L108.3,168.8 L109.8,169.5 L111.4,170.2 L112.9,170.8 L114.5,171.5 L116.1,172.2 L117.7,172.9 L119.4,173.5 L121.0,174.3 L122.7,175.0 L124.4,175.7 L126.1,176.4 L127.8,177.1 L129.5,177.9 L131.3,178.6 L133.0,179.4 L134.8,180.2 L136.6,181.0 L138.4,181.7 L140.3,182.5 L142.1,183.3 L144.0,184.2 L145.9,185.0 L147.8,185.8 L149.7,186.6 L151.6,187.5 L153.6,188.3 L155.6,189.2 L157.5,190.1 L159.5,191.0 L161.6,191.8 L163.6,192.7 L165.6,193.6 L167.7,194.6 L169.8,195.5 L171.9,196.4 L174.0,197.4 L176.2,198.3 L178.3,199.3 L180.5,200.2 L182.7,201.2 L184.9,202.2 L187.1,203.2 L189.3,204.2 L191.6,205.2 L193.8,206.3 L196.1,207.3 L198.4,208.3 L200.8,209.4 L200.8,237.4 L198.4,236.8 L196.1,235.6 L193.8,234.4 L191.6,233.2 L189.3,232.1 L187.1,230.9 L184.9,229.7 L182.7,228.6 L180.5,227.4 L178.3,226.3 L176.2,225.2 L174.0,224.1 L171.9,222.9 L169.8,221.8 L167.7,220.7 L165.6,219.6 L163.6,218.6 L161.6,217.5 L159.5,216.4 L157.5,215.3 L155.6,214.3 L153.6,213.2 L151.6,212.2 L149.7,211.2 L147.8,210.1 L145.9,209.1 L144.0,208.1 L142.1,207.1 L140.3,206.1 L138.4,205.1 L136.6,204.1 L134.8,203.1 L133.0,202.2 L131.3,201.2 L129.5,200.3 L127.8,199.3 L126.1,198.4 L124.4,197.4 L122.7,196.5 L121.0,195.6 L119.4,194.7 L117.7,193.8 L116.1,192.9 L114.5,192.0 L112.9,191.1 L111.4,190.2 L109.8,189.4 L108.3,188.5 L106.8,187.7 L105.3,186.8 L103.8,186.0 L102.3,185.1 L100.9,184.3 L99.5,183.5 L98.0,182.7 L96.6,181.9 L95.3,181.1 L93.9,180.3 L92.5,179.5 L91.2,178.7 L89.9,178.0 L88.6,177.2 L87.3,176.5 L86.1,175.7 L84.8,175.0 L83.6,174.3 L82.4,173.5 L81.2,172.8 L80.0,172.1 L78.8,171.4 L77.7,170.7 L76.5,170.0 L75.4,169.3 L74.3,168.7 L73.3,168.0 L72.2,167.4 L71.1,166.7 L70.1,166.1 L69.1,165.4 L68.1,164.8 L67.1,164.2 L66.2,163.6 L65.2,163.0 L64.3,162.4 L63.4,161.8 L62.5,161.2 L61.6,160.6 L60.7,160.0 L59.9,159.5 L59.1,158.9 L58.2,158.4 L57.4,157.8 L56.7,157.3 L55.9,156.8 L55.2,156.2 L54.4,155.7 L53.7,155.2 L53.0,154.7 L52.3,154.2 L51.7,153.8 L51.0,153.3 L50.4,152.8 L49.8,152.4 L49.2,151.9 L48.6,151.5 L48.1,151.0 L47.5,150.6 L47.0,150.2 L46.5,149.7 L46.0,149.3 L45.5,148.9 L45.1,148.5 L44.6,148.2 L44.2,147.8 L43.8,147.4 L43.4,147.0 L43.0,146.6 L42.6,146.2 L42.3,145.9 L42.0,145.5 L41.7,145.2 L41.4,144.8 L41.1,144.5 L40.8,144.2 L40.6,143.8 L40.4,143.5 L40.2,143.2 L40.0,143.0 L39.8,142.7 L39.6,142.4 L39.5,142.1 L39.4,141.9 L39.3,141.6 L39.2,141.4 L39.1,141.2 L39.0,140.9 L39.0,140.7 L39.0,140.5 L39.0,140.3Z" fill="#ebd8e4"/>
<path d="M39.0,140.3 L39.0,140.1 L39.0,140.0 L39.0,139.8 L39.1,139.7 L39.2,139.5 L39.3,139.4 L39.4,139.2 L39.5,139.1 L39.6,139.0 L39.8,138.9 L40.0,138.8 L40.2,138.7 L40.4,138.6 L40.6,138.5 L40.8,138.4 L41.1,138.3 L41.4,138.2 L41.7,138.2 L42.0,138.1 L42.3,138.1 L42.6,138.0 L43.0,138.0 L43.4,138.0 L43.8,138.0 L44.2,138.0 L44.6,138.0 L45.1,138.0 L45.5,138.0 L46.0,138.0 L46.5,138.0 L47.0,138.0 L47.5,138.0 L48.1,138.1 L48.6,138.1 L49.2,138.2 L49.8,138.2 L50.4,138.3 L51.0,138.4 L51.7,138.4 L52.3,138.5 L53.0,138.6 L53.7,138.7 L54.4,138.8 L55.2,139.0 L55.9,139.1 L56.7,139.2 L57.4,139.3 L58.2,139.5 L59.1,139.6 L59.9,139.8 L60.7,139.9 L61.6,140.1 L62.5,140.3 L63.4,140.5 L64.3,140.7 L65.2,140.9 L66.2,141.1 L67.1,141.3 L68.1,141.5 L69.1,141.7 L70.1,142.0 L71.1,142.2 L72.2,142.4 L73.3,142.7 L74.3,143.0 L75.4,143.2 L76.5,143.5 L77.7,143.8 L78.8,144.1 L80.0,144.4 L81.2,144.7 L82.4,145.0 L83.6,145.3 L84.8,145.6 L86.1,146.0 L87.3,146.3 L88.6,146.7 L89.9,147.0 L91.2,147.4 L92.5,147.7 L93.9,148.1 L95.3,148.5 L96.6,148.9 L98.0,149.3 L99.5,149.7 L100.9,150.1 L102.3,150.6 L103.8,151.0 L105.3,151.4 L106.8,151.9 L108.3,152.3 L109.8,152.8 L111.4,153.3 L112.9,153.7 L114.5,154.2 L116.1,154.7 L117.7,155.2 L119.4,155.7 L121.0,156.2 L122.7,156.8 L124.4,157.3 L126.1,157.8 L127.8,158.4 L129.5,158.9 L131.3,159.5 L133.0,160.1 L134.8,160.6 L136.6,161.2 L138.4,161.8 L140.3,162.4 L142.1,163.0 L144.0,163.7 L145.9,164.3 L147.8,164.9 L149.7,165.6 L151.6,166.2 L153.6,166.9 L155.6,167.6 L157.5,168.2 L159.5,168.9 L161.6,169.6 L163.6,170.3 L165.6,171.0 L167.7,171.8 L169.8,172.5 L171.9,173.2 L174.0,174.0 L176.2,174.7 L178.3,175.5 L180.5,176.3 L182.7,177.1 L184.9,177.9 L187.1,178.7 L189.3,179.5 L191.6,180.3 L193.8,181.1 L196.1,181.9 L198.4,182.8 L200.8,183.6" fill="none" stroke="#5e3e80" stroke-width="0.7"/>
<path d="M39.0,140.3 L39.0,140.5 L39.0,140.7 L39.0,140.9 L39.1,141.2 L39.2,141.4 L39.3,141.6 L39.4,141.9 L39.5,142.1 L39.6,142.4 L39.8,142.7 L40.0,143.0 L40.2,143.2 L40.4,143.5 L40.6,143.8 L40.8,144.2 L41.1,144.5 L41.4,144.8 L41.7,145.2 L42.0,145.5 L42.3,145.9 L42.6,146.2 L43.0,146.6 L43.4,147.0 L43.8,147.4 L44.2,147.8 L44.6,148.2 L45.1,148.5 L45.5,148.9 L46.0,149.3 L46.5,149.7 L47.0,150.2 L47.5,150.6 L48.1,151.0 L48.6,151.5 L49.2,151.9 L49.8,152.4 L50.4,152.8 L51.0,153.3 L51.7,153.8 L52.3,154.2 L53.0,154.7 L53.7,155.2 L54.4,155.7 L55.2,156.2 L55.9,156.8 L56.7,157.3 L57.4,157.8 L58.2,158.4 L59.1,158.9 L59.9,159.5 L60.7,160.0 L61.6,160.6 L62.5,161.2 L63.4,161.8 L64.3,162.4 L65.2,163.0 L66.2,163.6 L67.1,164.2 L68.1,164.8 L69.1,165.4 L70.1,166.1 L71.1,166.7 L72.2,167.4 L73.3,168.0 L74.3,168.7 L75.4,169.3 L76.5,170.0 L77.7,170.7 L78.8,171.4 L80.0,172.1 L81.2,172.8 L82.4,173.5 L83.6,174.3 L84.8,175.0 L86.1,175.7 L87.3,176.5 L88.6,177.2 L89.9,178.0 L91.2,178.7 L92.5,179.5 L93.9,180.3 L95.3,181.1 L96.6,181.9 L98.0,182.7 L99.5,183.5 L100.9,184.3 L102.3,185.1 L103.8,186.0 L105.3,186.8 L106.8,187.7 L108.3,188.5 L109.8,189.4 L111.4,190.2 L112.9,191.1 L114.5,192.0 L116.1,192.9 L117.7,193.8 L119.4,194.7 L121.0,195.6 L122.7,196.5 L124.4,197.4 L126.1,198.4 L127.8,199.3 L129.5,200.3 L131.3,201.2 L133.0,202.2 L134.8,203.1 L136.6,204.1 L138.4,205.1 L140.3,206.1 L142.1,207.1 L144.0,208.1 L145.9,209.1 L147.8,210.1 L149.7,211.2 L151.6,212.2 L153.6,213.2 L155.6,214.3 L157.5,215.3 L159.5,216.4 L161.6,217.5 L163.6,218.6 L165.6,219.6 L167.7,220.7 L169.8,221.8 L171.9,222.9 L174.0,224.1 L176.2,225.2 L178.3,226.3 L180.5,227.4 L182.7,228.6 L184.9,229.7 L187.1,230.9 L189.3,232.1 L191.6,233.2 L193.8,234.4 L196.1,235.6 L198.4,236.8 L200.8,237.4" fill="none" stroke="#8a7a2a" stroke-width="0.7"/>
<path d="M39.0,140.4 L39.0,140.4 L39.0,140.4 L39.0,140.4 L39.1,140.5 L39.2,140.5 L39.3,140.5 L39.4,140.6 L39.5,140.6 L39.6,140.7 L39.8,140.7 L40.0,140.8 L40.2,140.9 L40.4,141.0 L40.6,141.1 L40.8,141.2 L41.1,141.3 L41.4,141.4 L41.7,141.5 L42.0,141.6 L42.3,141.7 L42.6,141.9 L43.0,142.0 L43.4,142.2 L43.8,142.3 L44.2,142.5 L44.6,142.7 L45.1,142.8 L45.5,143.0 L46.0,143.2 L46.5,143.4 L47.0,143.6 L47.5,143.8 L48.1,144.0 L48.6,144.3 L49.2,144.5 L49.8,144.7 L50.4,145.0 L51.0,145.2 L51.7,145.5 L52.3,145.8 L53.0,146.0 L53.7,146.3 L54.4,146.6 L55.2,146.9 L55.9,147.2 L56.7,147.5 L57.4,147.8 L58.2,148.1 L59.1,148.5 L59.9,148.8 L60.7,149.2 L61.6,149.5 L62.5,149.9 L63.4,150.2 L64.3,150.6 L65.2,151.0 L66.2,151.4 L67.1,151.8 L68.1,152.2 L69.1,152.6 L70.1,153.0 L71.1,153.4 L72.2,153.8 L73.3,154.3 L74.3,154.7 L75.4,155.2 L76.5,155.6 L77.7,156.1 L78.8,156.5 L80.0,157.0 L81.2,157.5 L82.4,158.0 L83.6,158.5 L84.8,159.0 L86.1,159.5 L87.3,160.1 L88.6,160.6 L89.9,161.1 L91.2,161.7 L92.5,162.2 L93.9,162.8 L95.3,163.4 L96.6,163.9 L98.0,164.5 L99.5,165.1 L100.9,165.7 L102.3,166.3 L103.8,167.0 L105.3,167.6 L106.8,168.2 L108.3,168.8 L109.8,169.5 L111.4,170.2 L112.9,170.8 L114.5,171.5 L116.1,172.2 L117.7,172.9 L119.4,173.5 L121.0,174.3 L122.7,175.0 L124.4,175.7 L126.1,176.4 L127.8,177.1 L129.5,177.9 L131.3,178.6 L133.0,179.4 L134.8,180.2 L136.6,181.0 L138.4,181.7 L140.3,182.5 L142.1,183.3 L144.0,184.2 L145.9,185.0 L147.8,185.8 L149.7,186.6 L151.6,187.5 L153.6,188.3 L155.6,189.2 L157.5,190.1 L159.5,191.0 L161.6,191.8 L163.6,192.7 L165.6,193.6 L167.7,194.6 L169.8,195.5 L171.9,196.4 L174.0,197.4 L176.2,198.3 L178.3,199.3 L180.5,200.2 L182.7,201.2 L184.9,202.2 L187.1,203.2 L189.3,204.2 L191.6,205.2 L193.8,206.3 L196.1,207.3 L198.4,208.3 L200.8,209.4" fill="none" stroke="#3030a0" stroke-width="0.7"/>
<path d="M39.0,140.4 L39.0,140.4 L39.0,140.4 L39.0,140.4 L39.1,140.5 L39.2,140.5 L39.3,140.5 L39.4,140.6 L39.5,140.6 L39.6,140.7 L39.8,140.7 L40.0,140.8 L40.2,140.9 L40.4,141.0 L40.6,141.1 L40.8,141.1 L41.1,141.3 L41.4,141.4 L41.7,141.5 L42.0,141.6 L42.3,141.7 L42.6,141.9 L43.0,142.0 L43.4,142.2 L43.8,142.3 L44.2,142.5 L44.6,142.7 L45.1,142.8 L45.5,143.0 L46.0,143.2 L46.5,143.4 L47.0,143.6 L47.5,143.8 L48.1,144.0 L48.6,144.3 L49.2,144.5 L49.8,144.7 L50.4,145.0 L51.0,145.2 L51.7,145.5 L52.3,145.7 L53.0,146.0 L53.7,146.3 L54.4,146.6 L55.2,146.9 L55.9,147.1 L56.7,147.5 L57.4,147.8 L58.2,148.1 L59.1,148.4 L59.9,148.7 L60.7,149.1 L61.6,149.4 L62.5,149.8 L63.4,150.1 L64.3,150.5 L65.2,150.9 L66.2,151.2 L67.1,151.6 L68.1,152.0 L69.1,152.4 L70.1,152.8 L71.1,153.2 L72.2,153.6 L73.3,154.1 L74.3,154.5 L75.4,154.9 L76.5,155.4 L77.7,155.8 L78.8,156.3 L80.0,156.7 L81.2,157.2 L82.4,157.7 L83.6,158.2 L84.8,158.7 L86.1,159.1 L87.3,159.7 L88.6,160.2 L89.9,160.7 L91.2,161.2 L92.5,161.7 L93.9,162.3 L95.3,162.8 L96.6,163.4 L98.0,163.9 L99.5,164.5 L100.9,165.1 L102.3,165.6 L103.8,166.2 L105.3,166.8 L106.8,167.4 L108.3,168.0 L109.8,168.6 L111.4,169.2 L112.9,169.9 L114.5,170.5 L116.1,171.1 L117.7,171.8 L119.4,172.4 L121.0,173.1 L122.7,173.7 L124.4,174.4 L126.1,175.1 L127.8,175.8 L129.5,176.5 L131.3,177.1 L133.0,177.9 L134.8,178.6 L136.6,179.3 L138.4,180.0 L140.3,180.7 L142.1,181.5 L144.0,182.2 L145.9,183.0 L147.8,183.7 L149.7,184.5 L151.6,185.3 L153.6,186.0 L155.6,186.8 L157.5,187.6 L159.5,188.4 L161.6,189.2 L163.6,190.0 L165.6,190.8 L167.7,191.7 L169.8,192.5 L171.9,193.3 L174.0,194.2 L176.2,195.0 L178.3,195.9 L180.5,196.7 L182.7,197.6 L184.9,198.5 L187.1,199.4 L189.3,200.3 L191.6,201.1 L193.8,202.1 L196.1,203.0 L198.4,203.9 L200.8,204.8" fill="none" stroke="#000" stroke-width="1.8" stroke-linejoin="round"/>
<path d="M39.0,140.3 L39.0,140.1 L39.0,140.0 L39.0,139.8 L39.1,139.7 L39.2,139.5 L39.3,139.4 L39.4,139.2 L39.5,139.1 L39.6,139.0 L39.8,138.9 L40.0,138.8 L40.2,138.7 L40.4,138.6 L40.6,138.5 L40.8,138.4 L41.1,138.3 L41.4,138.2 L41.7,138.2 L42.0,138.1 L42.3,138.1 L42.6,138.0 L43.0,138.0 L43.4,138.0 L43.8,138.0 L44.2,138.0 L44.6,137.9 L45.1,137.9 L45.5,137.9 L46.0,138.0 L46.5,138.0 L47.0,138.0 L47.5,138.0 L48.1,138.1 L48.6,138.1 L49.2,138.2 L49.8,138.2 L50.4,138.3 L51.0,138.3 L51.7,138.4 L52.3,138.5 L53.0,138.6 L53.7,138.7 L54.4,138.8 L55.2,138.9 L55.9,139.0 L56.7,139.2 L57.4,139.3 L58.2,139.4 L59.1,139.6 L59.9,139.7 L60.7,139.9 L61.6,140.0 L62.5,140.2 L63.4,140.4 L64.3,140.6 L65.2,140.8 L66.2,141.0 L67.1,141.2 L68.1,141.4 L69.1,141.6 L70.1,141.8 L71.1,142.0 L72.2,142.3 L73.3,142.5 L74.3,142.8 L75.4,143.0 L76.5,143.3 L77.7,143.6 L78.8,143.8 L80.0,144.1 L81.2,144.4 L82.4,144.7 L83.6,145.0 L84.8,145.3 L86.1,145.6 L87.3,146.0 L88.6,146.3 L89.9,146.6 L91.2,147.0 L92.5,147.3 L93.9,147.7 L95.3,148.0 L96.6,148.4 L98.0,148.8 L99.5,149.2 L100.9,149.5 L102.3,149.9 L103.8,150.3 L105.3,150.8 L106.8,151.2 L108.3,151.6 L109.8,152.0 L111.4,152.5 L112.9,152.9 L114.5,153.4 L116.1,153.8 L117.7,154.3 L119.4,154.7 L121.0,155.2 L122.7,155.7 L124.4,156.2 L126.1,156.7 L127.8,157.2 L129.5,157.7 L131.3,158.2 L133.0,158.7 L134.8,159.2 L136.6,159.8 L138.4,160.3 L140.3,160.9 L142.1,161.4 L144.0,162.0 L145.9,162.6 L147.8,163.1 L149.7,163.7 L151.6,164.3 L153.6,164.9 L155.6,165.5 L157.5,166.1 L159.5,166.7 L161.6,167.3 L163.6,168.0 L165.6,168.6 L167.7,169.2 L169.8,169.9 L171.9,170.5 L174.0,171.2 L176.2,171.9 L178.3,172.5 L180.5,173.2 L182.7,173.9 L184.9,174.6 L187.1,175.3 L189.3,176.0 L191.6,176.7 L193.8,177.4 L196.1,178.2 L198.4,178.9 L200.8,179.6" fill="none" stroke="#e3141e" stroke-width="1.85" stroke-dasharray="4.2,1.6" stroke-linejoin="round"/>
<path d="M39.0,140.3 L39.0,140.5 L39.0,140.7 L39.0,140.9 L39.1,141.1 L39.2,141.4 L39.3,141.6 L39.4,141.8 L39.5,142.1 L39.6,142.3 L39.8,142.6 L40.0,142.9 L40.2,143.1 L40.4,143.4 L40.6,143.7 L40.8,144.0 L41.1,144.3 L41.4,144.6 L41.7,144.9 L42.0,145.2 L42.3,145.5 L42.6,145.9 L43.0,146.2 L43.4,146.6 L43.8,146.9 L44.2,147.3 L44.6,147.6 L45.1,148.0 L45.5,148.4 L46.0,148.8 L46.5,149.2 L47.0,149.6 L47.5,150.0 L48.1,150.4 L48.6,150.8 L49.2,151.2 L49.8,151.6 L50.4,152.1 L51.0,152.5 L51.7,153.0 L52.3,153.4 L53.0,153.9 L53.7,154.4 L54.4,154.8 L55.2,155.3 L55.9,155.8 L56.7,156.3 L57.4,156.8 L58.2,157.3 L59.1,157.8 L59.9,158.4 L60.7,158.9 L61.6,159.4 L62.5,160.0 L63.4,160.5 L64.3,161.1 L65.2,161.7 L66.2,162.2 L67.1,162.8 L68.1,163.4 L69.1,164.0 L70.1,164.6 L71.1,165.2 L72.2,165.8 L73.3,166.4 L74.3,167.0 L75.4,167.6 L76.5,168.3 L77.7,168.9 L78.8,169.6 L80.0,170.2 L81.2,170.9 L82.4,171.6 L83.6,172.2 L84.8,172.9 L86.1,173.6 L87.3,174.3 L88.6,175.0 L89.9,175.7 L91.2,176.4 L92.5,177.2 L93.9,177.9 L95.3,178.6 L96.6,179.4 L98.0,180.1 L99.5,180.9 L100.9,181.6 L102.3,182.4 L103.8,183.2 L105.3,184.0 L106.8,184.8 L108.3,185.5 L109.8,186.4 L111.4,187.2 L112.9,188.0 L114.5,188.8 L116.1,189.6 L117.7,190.5 L119.4,191.3 L121.0,192.1 L122.7,193.0 L124.4,193.9 L126.1,194.7 L127.8,195.6 L129.5,196.5 L131.3,197.4 L133.0,198.3 L134.8,199.2 L136.6,200.1 L138.4,201.0 L140.3,201.9 L142.1,202.8 L144.0,203.8 L145.9,204.7 L147.8,205.7 L149.7,206.6 L151.6,207.6 L153.6,208.5 L155.6,209.5 L157.5,210.5 L159.5,211.5 L161.6,212.5 L163.6,213.5 L165.6,214.5 L167.7,215.5 L169.8,216.5 L171.9,217.5 L174.0,218.6 L176.2,219.6 L178.3,220.7 L180.5,221.7 L182.7,222.8 L184.9,223.8 L187.1,224.9 L189.3,226.0 L191.6,227.1 L193.8,228.2 L196.1,229.3 L198.4,230.4 L200.8,231.5" fill="none" stroke="#e3141e" stroke-width="1.85" stroke-dasharray="4.2,1.6" stroke-linejoin="round"/>
<path d="M38.95,134.60 V238.90" stroke="#606060" stroke-width="1" fill="none"/>
<path d="M36.45,237.40 H203.75" stroke="#3c3c3c" stroke-width="1" fill="none"/>
<path d="M38.95,237.40 v-1.8 M47.04,237.40 v-1.0 M55.13,237.40 v-1.0 M63.22,237.40 v-1.0 M71.31,237.40 v-1.8 M79.40,237.40 v-1.0 M87.49,237.40 v-1.0 M95.58,237.40 v-1.0 M103.67,237.40 v-1.8 M111.76,237.40 v-1.0 M119.85,237.40 v-1.0 M127.94,237.40 v-1.0 M136.03,237.40 v-1.8 M144.12,237.40 v-1.0 M152.21,237.40 v-1.0 M160.30,237.40 v-1.0 M168.39,237.40 v-1.8 M176.48,237.40 v-1.0 M184.57,237.40 v-1.0 M192.66,237.40 v-1.0 M200.75,237.40 v-1.8 M38.95,139.60 h1.8 M38.95,192.60 h1.8" stroke="#222" stroke-width="0.6" fill="none"/>
<text x="71.31" y="243.70" text-anchor="middle" class="tk">2</text>
<text x="103.67" y="243.70" text-anchor="middle" class="tk">4</text>
<text x="136.03" y="243.70" text-anchor="middle" class="tk">6</text>
<text x="168.39" y="243.70" text-anchor="middle" class="tk">8</text>
<text x="200.75" y="243.70" text-anchor="middle" class="tk">10</text>
<text x="36.95" y="142.20" text-anchor="end" class="tk">0.50</text>
<text x="36.95" y="195.20" text-anchor="end" class="tk">0.30</text>
<path d="M239.5,144.7 L239.5,144.3 L239.5,143.9 L239.6,143.6 L239.6,143.2 L239.7,142.9 L239.8,142.6 L239.9,142.3 L240.0,142.0 L240.2,141.7 L240.3,141.5 L240.5,141.2 L240.7,141.0 L240.9,140.8 L241.1,140.6 L241.4,140.4 L241.6,140.3 L241.9,140.1 L242.2,140.0 L242.5,139.8 L242.8,139.7 L243.2,139.6 L243.6,139.4 L243.9,139.3 L244.3,139.2 L244.7,139.2 L245.2,139.1 L245.6,139.0 L246.1,139.0 L246.5,139.0 L247.0,139.0 L247.5,139.0 L248.1,139.1 L248.6,139.1 L249.2,139.2 L249.8,139.2 L250.4,139.3 L251.0,139.3 L251.6,139.4 L252.2,139.5 L252.9,139.6 L253.6,139.8 L254.3,139.9 L255.0,140.2 L255.7,140.4 L256.5,140.7 L257.2,141.1 L258.0,141.4 L258.8,141.8 L259.6,142.2 L260.4,142.5 L261.3,142.9 L262.1,143.3 L263.0,143.7 L263.9,144.1 L264.8,144.6 L265.8,145.0 L266.7,145.5 L267.7,145.9 L268.7,146.4 L269.6,146.9 L270.7,147.4 L271.7,147.9 L272.7,148.4 L273.8,148.9 L274.9,149.3 L276.0,149.6 L277.1,149.9 L278.2,150.3 L279.4,150.7 L280.5,151.3 L281.7,152.0 L282.9,152.7 L284.1,153.3 L285.4,153.7 L286.6,154.2 L287.9,154.6 L289.2,154.9 L290.4,155.3 L291.8,155.7 L293.1,156.0 L294.4,156.3 L295.8,156.7 L297.2,157.1 L298.6,157.6 L300.0,158.0 L301.4,158.5 L302.9,159.0 L304.4,159.5 L305.8,159.9 L307.3,160.3 L308.8,160.7 L310.4,161.0 L311.9,161.3 L313.5,161.6 L315.1,161.9 L316.7,162.2 L318.3,162.6 L319.9,162.8 L321.6,163.0 L323.2,163.1 L324.9,163.4 L326.6,163.9 L328.3,164.4 L330.1,164.8 L331.8,165.1 L333.6,165.3 L335.4,165.5 L337.2,165.7 L339.0,166.0 L340.8,166.2 L342.7,166.4 L344.5,166.3 L346.4,166.3 L348.3,166.6 L350.3,167.3 L352.2,167.8 L354.1,168.0 L356.1,168.0 L358.1,168.0 L360.1,168.0 L362.1,168.2 L364.1,168.3 L366.2,168.7 L368.3,169.2 L370.3,169.5 L372.5,169.4 L374.6,169.3 L376.7,169.2 L378.9,169.2 L381.0,169.3 L383.2,169.5 L385.4,169.9 L387.6,170.1 L389.9,170.0 L392.1,169.9 L394.4,170.4 L396.7,171.2 L399.0,171.6 L401.3,171.7 L401.3,204.3 L399.0,204.0 L396.7,203.8 L394.4,203.6 L392.1,203.3 L389.9,202.9 L387.6,202.5 L385.4,202.0 L383.2,201.6 L381.0,201.1 L378.9,200.6 L376.7,200.1 L374.6,199.8 L372.5,199.8 L370.3,199.7 L368.3,199.4 L366.2,199.0 L364.1,198.5 L362.1,198.2 L360.1,197.8 L358.1,197.4 L356.1,197.3 L354.1,197.3 L352.2,197.0 L350.3,196.5 L348.3,196.0 L346.4,195.6 L344.5,195.2 L342.7,194.9 L340.8,194.5 L339.0,194.1 L337.2,193.7 L335.4,193.4 L333.6,193.1 L331.8,192.8 L330.1,192.5 L328.3,191.9 L326.6,191.3 L324.9,190.7 L323.2,190.2 L321.6,189.8 L319.9,189.4 L318.3,189.0 L316.7,188.5 L315.1,188.0 L313.5,187.5 L311.9,187.0 L310.4,186.4 L308.8,185.9 L307.3,185.3 L305.8,185.0 L304.4,184.8 L302.9,184.6 L301.4,184.1 L300.0,183.4 L298.6,182.5 L297.2,181.6 L295.8,181.0 L294.4,180.6 L293.1,180.3 L291.8,180.0 L290.4,179.5 L289.2,179.0 L287.9,178.5 L286.6,177.9 L285.4,177.4 L284.1,176.9 L282.9,176.5 L281.7,176.1 L280.5,175.7 L279.4,175.2 L278.2,174.7 L277.1,174.1 L276.0,173.5 L274.9,172.9 L273.8,172.3 L272.7,171.7 L271.7,171.2 L270.7,170.6 L269.6,170.0 L268.7,169.4 L267.7,168.8 L266.7,168.1 L265.8,167.3 L264.8,166.4 L263.9,165.7 L263.0,164.9 L262.1,164.3 L261.3,163.7 L260.4,163.1 L259.6,162.5 L258.8,161.9 L258.0,161.2 L257.2,160.6 L256.5,160.0 L255.7,159.4 L255.0,158.8 L254.3,158.2 L253.6,157.6 L252.9,157.0 L252.2,156.5 L251.6,156.0 L251.0,155.4 L250.4,154.9 L249.8,154.4 L249.2,153.9 L248.6,153.5 L248.1,153.0 L247.5,152.5 L247.0,152.1 L246.5,151.7 L246.1,151.3 L245.6,150.9 L245.2,150.5 L244.7,150.1 L244.3,149.8 L243.9,149.5 L243.6,149.2 L243.2,148.9 L242.8,148.6 L242.5,148.3 L242.2,148.0 L241.9,147.7 L241.6,147.4 L241.4,147.1 L241.1,146.9 L240.9,146.6 L240.7,146.4 L240.5,146.1 L240.3,145.9 L240.2,145.7 L240.0,145.5 L239.9,145.3 L239.8,145.1 L239.7,144.9 L239.6,144.7 L239.6,144.6 L239.5,144.5 L239.5,144.3 L239.5,144.2Z" fill="#c7b7d6"/>
<path d="M239.5,144.2 L239.5,144.3 L239.5,144.5 L239.6,144.6 L239.6,144.7 L239.7,144.9 L239.8,145.1 L239.9,145.3 L240.0,145.5 L240.2,145.7 L240.3,145.9 L240.5,146.1 L240.7,146.4 L240.9,146.6 L241.1,146.9 L241.4,147.1 L241.6,147.4 L241.9,147.7 L242.2,148.0 L242.5,148.3 L242.8,148.6 L243.2,148.9 L243.6,149.2 L243.9,149.5 L244.3,149.8 L244.7,150.1 L245.2,150.5 L245.6,150.9 L246.1,151.3 L246.5,151.7 L247.0,152.1 L247.5,152.5 L248.1,153.0 L248.6,153.5 L249.2,153.9 L249.8,154.4 L250.4,154.9 L251.0,155.4 L251.6,156.0 L252.2,156.5 L252.9,157.0 L253.6,157.6 L254.3,158.2 L255.0,158.8 L255.7,159.4 L256.5,160.0 L257.2,160.6 L258.0,161.2 L258.8,161.9 L259.6,162.5 L260.4,163.1 L261.3,163.7 L262.1,164.3 L263.0,164.9 L263.9,165.7 L264.8,166.4 L265.8,167.3 L266.7,168.1 L267.7,168.8 L268.7,169.4 L269.6,170.0 L270.7,170.6 L271.7,171.2 L272.7,171.7 L273.8,172.3 L274.9,172.9 L276.0,173.5 L277.1,174.1 L278.2,174.7 L279.4,175.2 L280.5,175.7 L281.7,176.1 L282.9,176.5 L284.1,176.9 L285.4,177.4 L286.6,177.9 L287.9,178.5 L289.2,179.0 L290.4,179.5 L291.8,180.0 L293.1,180.3 L294.4,180.6 L295.8,181.0 L297.2,181.6 L298.6,182.5 L300.0,183.4 L301.4,184.1 L302.9,184.6 L304.4,184.8 L305.8,185.0 L307.3,185.3 L308.8,185.9 L310.4,186.4 L311.9,187.0 L313.5,187.5 L315.1,188.0 L316.7,188.5 L318.3,189.0 L319.9,189.4 L321.6,189.8 L323.2,190.2 L324.9,190.7 L326.6,191.3 L328.3,191.9 L330.1,192.5 L331.8,192.8 L333.6,193.1 L335.4,193.4 L337.2,193.7 L339.0,194.1 L340.8,194.5 L342.7,194.9 L344.5,195.2 L346.4,195.6 L348.3,196.0 L350.3,196.5 L352.2,197.0 L354.1,197.3 L356.1,197.3 L358.1,197.4 L360.1,197.8 L362.1,198.2 L364.1,198.5 L366.2,199.0 L368.3,199.4 L370.3,199.7 L372.5,199.8 L374.6,199.8 L376.7,200.1 L378.9,200.6 L381.0,201.1 L383.2,201.6 L385.4,202.0 L387.6,202.5 L389.9,202.9 L392.1,203.3 L394.4,203.6 L396.7,203.8 L399.0,204.0 L401.3,204.3 L401.3,237.0 L399.0,237.4 L396.7,237.4 L394.4,237.1 L392.1,237.1 L389.9,237.3 L387.6,236.8 L385.4,235.1 L383.2,234.6 L381.0,234.2 L378.9,233.8 L376.7,233.0 L374.6,232.4 L372.5,232.0 L370.3,231.5 L368.3,231.1 L366.2,231.4 L364.1,231.2 L362.1,230.9 L360.1,230.7 L358.1,230.5 L356.1,230.3 L354.1,229.9 L352.2,229.5 L350.3,229.1 L348.3,228.8 L346.4,228.4 L344.5,227.7 L342.7,227.3 L340.8,228.3 L339.0,228.3 L337.2,227.4 L335.4,226.5 L333.6,225.8 L331.8,225.6 L330.1,225.6 L328.3,225.4 L326.6,225.0 L324.9,224.5 L323.2,224.0 L321.6,223.4 L319.9,222.9 L318.3,222.6 L316.7,222.2 L315.1,221.7 L313.5,221.1 L311.9,220.7 L310.4,220.2 L308.8,219.4 L307.3,218.7 L305.8,218.2 L304.4,217.7 L302.9,217.2 L301.4,216.7 L300.0,216.0 L298.6,215.0 L297.2,214.2 L295.8,213.4 L294.4,212.6 L293.1,212.3 L291.8,212.0 L290.4,211.3 L289.2,210.3 L287.9,209.3 L286.6,208.7 L285.4,208.0 L284.1,207.1 L282.9,206.0 L281.7,204.9 L280.5,204.0 L279.4,203.0 L278.2,202.1 L277.1,201.2 L276.0,200.4 L274.9,199.5 L273.8,198.5 L272.7,197.6 L271.7,196.6 L270.7,195.7 L269.6,194.8 L268.7,193.9 L267.7,193.0 L266.7,192.1 L265.8,191.2 L264.8,190.3 L263.9,189.4 L263.0,188.5 L262.1,187.6 L261.3,186.7 L260.4,185.8 L259.6,184.9 L258.8,184.0 L258.0,183.1 L257.2,182.2 L256.5,181.3 L255.7,180.5 L255.0,179.6 L254.3,178.7 L253.6,177.7 L252.9,176.8 L252.2,175.9 L251.6,175.0 L251.0,174.0 L250.4,173.1 L249.8,172.1 L249.2,171.1 L248.6,170.2 L248.1,169.2 L247.5,168.3 L247.0,167.4 L246.5,166.5 L246.1,165.6 L245.6,164.7 L245.2,163.8 L244.7,163.0 L244.3,162.1 L243.9,161.3 L243.6,160.5 L243.2,159.7 L242.8,158.9 L242.5,158.1 L242.2,157.3 L241.9,156.5 L241.6,155.7 L241.4,154.9 L241.1,154.2 L240.9,153.4 L240.7,152.7 L240.5,151.9 L240.3,151.2 L240.2,150.4 L240.0,149.7 L239.9,149.0 L239.8,148.3 L239.7,147.6 L239.6,146.9 L239.6,146.2 L239.5,145.5 L239.5,144.9 L239.5,144.2Z" fill="#ebd8e4"/>
<path d="M239.5,144.7 L239.5,144.3 L239.5,143.9 L239.6,143.6 L239.6,143.2 L239.7,142.9 L239.8,142.6 L239.9,142.3 L240.0,142.0 L240.2,141.7 L240.3,141.5 L240.5,141.2 L240.7,141.0 L240.9,140.8 L241.1,140.6 L241.4,140.4 L241.6,140.3 L241.9,140.1 L242.2,140.0 L242.5,139.8 L242.8,139.7 L243.2,139.6 L243.6,139.4 L243.9,139.3 L244.3,139.2 L244.7,139.2 L245.2,139.1 L245.6,139.0 L246.1,139.0 L246.5,139.0 L247.0,139.0 L247.5,139.0 L248.1,139.1 L248.6,139.1 L249.2,139.2 L249.8,139.2 L250.4,139.3 L251.0,139.3 L251.6,139.4 L252.2,139.5 L252.9,139.6 L253.6,139.8 L254.3,139.9 L255.0,140.2 L255.7,140.4 L256.5,140.7 L257.2,141.1 L258.0,141.4 L258.8,141.8 L259.6,142.2 L260.4,142.5 L261.3,142.9 L262.1,143.3 L263.0,143.7 L263.9,144.1 L264.8,144.6 L265.8,145.0 L266.7,145.5 L267.7,145.9 L268.7,146.4 L269.6,146.9 L270.7,147.4 L271.7,147.9 L272.7,148.4 L273.8,148.9 L274.9,149.3 L276.0,149.6 L277.1,149.9 L278.2,150.3 L279.4,150.7 L280.5,151.3 L281.7,152.0 L282.9,152.7 L284.1,153.3 L285.4,153.7 L286.6,154.2 L287.9,154.6 L289.2,154.9 L290.4,155.3 L291.8,155.7 L293.1,156.0 L294.4,156.3 L295.8,156.7 L297.2,157.1 L298.6,157.6 L300.0,158.0 L301.4,158.5 L302.9,159.0 L304.4,159.5 L305.8,159.9 L307.3,160.3 L308.8,160.7 L310.4,161.0 L311.9,161.3 L313.5,161.6 L315.1,161.9 L316.7,162.2 L318.3,162.6 L319.9,162.8 L321.6,163.0 L323.2,163.1 L324.9,163.4 L326.6,163.9 L328.3,164.4 L330.1,164.8 L331.8,165.1 L333.6,165.3 L335.4,165.5 L337.2,165.7 L339.0,166.0 L340.8,166.2 L342.7,166.4 L344.5,166.3 L346.4,166.3 L348.3,166.6 L350.3,167.3 L352.2,167.8 L354.1,168.0 L356.1,168.0 L358.1,168.0 L360.1,168.0 L362.1,168.2 L364.1,168.3 L366.2,168.7 L368.3,169.2 L370.3,169.5 L372.5,169.4 L374.6,169.3 L376.7,169.2 L378.9,169.2 L381.0,169.3 L383.2,169.5 L385.4,169.9 L387.6,170.1 L389.9,170.0 L392.1,169.9 L394.4,170.4 L396.7,171.2 L399.0,171.6 L401.3,171.7" fill="none" stroke="#5e3e80" stroke-width="0.7"/>
<path d="M239.5,144.2 L239.5,144.9 L239.5,145.5 L239.6,146.2 L239.6,146.9 L239.7,147.6 L239.8,148.3 L239.9,149.0 L240.0,149.7 L240.2,150.4 L240.3,151.2 L240.5,151.9 L240.7,152.7 L240.9,153.4 L241.1,154.2 L241.4,154.9 L241.6,155.7 L241.9,156.5 L242.2,157.3 L242.5,158.1 L242.8,158.9 L243.2,159.7 L243.6,160.5 L243.9,161.3 L244.3,162.1 L244.7,163.0 L245.2,163.8 L245.6,164.7 L246.1,165.6 L246.5,166.5 L247.0,167.4 L247.5,168.3 L248.1,169.2 L248.6,170.2 L249.2,171.1 L249.8,172.1 L250.4,173.1 L251.0,174.0 L251.6,175.0 L252.2,175.9 L252.9,176.8 L253.6,177.7 L254.3,178.7 L255.0,179.6 L255.7,180.5 L256.5,181.3 L257.2,182.2 L258.0,183.1 L258.8,184.0 L259.6,184.9 L260.4,185.8 L261.3,186.7 L262.1,187.6 L263.0,188.5 L263.9,189.4 L264.8,190.3 L265.8,191.2 L266.7,192.1 L267.7,193.0 L268.7,193.9 L269.6,194.8 L270.7,195.7 L271.7,196.6 L272.7,197.6 L273.8,198.5 L274.9,199.5 L276.0,200.4 L277.1,201.2 L278.2,202.1 L279.4,203.0 L280.5,204.0 L281.7,204.9 L282.9,206.0 L284.1,207.1 L285.4,208.0 L286.6,208.7 L287.9,209.3 L289.2,210.3 L290.4,211.3 L291.8,212.0 L293.1,212.3 L294.4,212.6 L295.8,213.4 L297.2,214.2 L298.6,215.0 L300.0,216.0 L301.4,216.7 L302.9,217.2 L304.4,217.7 L305.8,218.2 L307.3,218.7 L308.8,219.4 L310.4,220.2 L311.9,220.7 L313.5,221.1 L315.1,221.7 L316.7,222.2 L318.3,222.6 L319.9,222.9 L321.6,223.4 L323.2,224.0 L324.9,224.5 L326.6,225.0 L328.3,225.4 L330.1,225.6 L331.8,225.6 L333.6,225.8 L335.4,226.5 L337.2,227.4 L339.0,228.3 L340.8,228.3 L342.7,227.3 L344.5,227.7 L346.4,228.4 L348.3,228.8 L350.3,229.1 L352.2,229.5 L354.1,229.9 L356.1,230.3 L358.1,230.5 L360.1,230.7 L362.1,230.9 L364.1,231.2 L366.2,231.4 L368.3,231.1 L370.3,231.5 L372.5,232.0 L374.6,232.4 L376.7,233.0 L378.9,233.8 L381.0,234.2 L383.2,234.6 L385.4,235.1 L387.6,236.8 L389.9,237.3 L392.1,237.1 L394.4,237.1 L396.7,237.4 L399.0,237.4 L401.3,237.0" fill="none" stroke="#8a7a2a" stroke-width="0.7"/>
<path d="M239.5,144.2 L239.5,144.3 L239.5,144.5 L239.6,144.6 L239.6,144.7 L239.7,144.9 L239.8,145.1 L239.9,145.3 L240.0,145.5 L240.2,145.7 L240.3,145.9 L240.5,146.1 L240.7,146.4 L240.9,146.6 L241.1,146.9 L241.4,147.1 L241.6,147.4 L241.9,147.7 L242.2,148.0 L242.5,148.3 L242.8,148.6 L243.2,148.9 L243.6,149.2 L243.9,149.5 L244.3,149.8 L244.7,150.1 L245.2,150.5 L245.6,150.9 L246.1,151.3 L246.5,151.7 L247.0,152.1 L247.5,152.5 L248.1,153.0 L248.6,153.5 L249.2,153.9 L249.8,154.4 L250.4,154.9 L251.0,155.4 L251.6,156.0 L252.2,156.5 L252.9,157.0 L253.6,157.6 L254.3,158.2 L255.0,158.8 L255.7,159.4 L256.5,160.0 L257.2,160.6 L258.0,161.2 L258.8,161.9 L259.6,162.5 L260.4,163.1 L261.3,163.7 L262.1,164.3 L263.0,164.9 L263.9,165.7 L264.8,166.4 L265.8,167.3 L266.7,168.1 L267.7,168.8 L268.7,169.4 L269.6,170.0 L270.7,170.6 L271.7,171.2 L272.7,171.7 L273.8,172.3 L274.9,172.9 L276.0,173.5 L277.1,174.1 L278.2,174.7 L279.4,175.2 L280.5,175.7 L281.7,176.1 L282.9,176.5 L284.1,176.9 L285.4,177.4 L286.6,177.9 L287.9,178.5 L289.2,179.0 L290.4,179.5 L291.8,180.0 L293.1,180.3 L294.4,180.6 L295.8,181.0 L297.2,181.6 L298.6,182.5 L300.0,183.4 L301.4,184.1 L302.9,184.6 L304.4,184.8 L305.8,185.0 L307.3,185.3 L308.8,185.9 L310.4,186.4 L311.9,187.0 L313.5,187.5 L315.1,188.0 L316.7,188.5 L318.3,189.0 L319.9,189.4 L321.6,189.8 L323.2,190.2 L324.9,190.7 L326.6,191.3 L328.3,191.9 L330.1,192.5 L331.8,192.8 L333.6,193.1 L335.4,193.4 L337.2,193.7 L339.0,194.1 L340.8,194.5 L342.7,194.9 L344.5,195.2 L346.4,195.6 L348.3,196.0 L350.3,196.5 L352.2,197.0 L354.1,197.3 L356.1,197.3 L358.1,197.4 L360.1,197.8 L362.1,198.2 L364.1,198.5 L366.2,199.0 L368.3,199.4 L370.3,199.7 L372.5,199.8 L374.6,199.8 L376.7,200.1 L378.9,200.6 L381.0,201.1 L383.2,201.6 L385.4,202.0 L387.6,202.5 L389.9,202.9 L392.1,203.3 L394.4,203.6 L396.7,203.8 L399.0,204.0 L401.3,204.3" fill="none" stroke="#3030a0" stroke-width="0.7"/>
<path d="M239.5,144.2 L239.5,144.3 L239.5,144.5 L239.6,144.6 L239.6,144.7 L239.7,144.9 L239.8,145.1 L239.9,145.3 L240.0,145.5 L240.2,145.7 L240.3,145.9 L240.5,146.1 L240.7,146.4 L240.9,146.6 L241.1,146.9 L241.4,147.1 L241.6,147.4 L241.9,147.7 L242.2,148.0 L242.5,148.3 L242.8,148.6 L243.2,148.9 L243.6,149.2 L243.9,149.5 L244.3,149.8 L244.7,150.1 L245.2,150.5 L245.6,150.9 L246.1,151.2 L246.5,151.7 L247.0,152.1 L247.5,152.5 L248.1,153.0 L248.6,153.4 L249.2,153.9 L249.8,154.4 L250.4,154.9 L251.0,155.4 L251.6,155.9 L252.2,156.5 L252.9,157.0 L253.6,157.6 L254.3,158.1 L255.0,158.7 L255.7,159.3 L256.5,160.0 L257.2,160.6 L258.0,161.2 L258.8,161.9 L259.6,162.5 L260.4,163.2 L261.3,163.8 L262.1,164.5 L263.0,165.1 L263.9,165.7 L264.8,166.3 L265.8,166.9 L266.7,167.5 L267.7,168.1 L268.7,168.7 L269.6,169.3 L270.7,169.9 L271.7,170.4 L272.7,171.0 L273.8,171.5 L274.9,172.1 L276.0,172.6 L277.1,173.2 L278.2,173.7 L279.4,174.2 L280.5,174.7 L281.7,175.2 L282.9,175.7 L284.1,176.2 L285.4,176.7 L286.6,177.2 L287.9,177.7 L289.2,178.2 L290.4,178.7 L291.8,179.2 L293.1,179.7 L294.4,180.2 L295.8,180.7 L297.2,181.2 L298.6,181.7 L300.0,182.2 L301.4,182.7 L302.9,183.3 L304.4,183.7 L305.8,184.2 L307.3,184.7 L308.8,185.2 L310.4,185.7 L311.9,186.1 L313.5,186.6 L315.1,187.0 L316.7,187.4 L318.3,187.8 L319.9,188.2 L321.6,188.6 L323.2,189.0 L324.9,189.4 L326.6,189.8 L328.3,190.1 L330.1,190.5 L331.8,190.9 L333.6,191.2 L335.4,191.5 L337.2,191.8 L339.0,192.1 L340.8,192.4 L342.7,192.7 L344.5,193.0 L346.4,193.3 L348.3,193.5 L350.3,193.8 L352.2,194.0 L354.1,194.2 L356.1,194.5 L358.1,194.7 L360.1,194.9 L362.1,195.2 L364.1,195.4 L366.2,195.6 L368.3,195.8 L370.3,196.1 L372.5,196.3 L374.6,196.5 L376.7,196.7 L378.9,196.9 L381.0,197.1 L383.2,197.3 L385.4,197.5 L387.6,197.7 L389.9,197.9 L392.1,198.2 L394.4,198.4 L396.7,198.6 L399.0,198.8 L401.3,199.0" fill="none" stroke="#000" stroke-width="1.8" stroke-linejoin="round"/>
<path d="M239.5,144.2 L239.5,143.8 L239.5,143.4 L239.6,143.1 L239.6,142.7 L239.7,142.4 L239.8,142.1 L239.9,141.8 L240.0,141.5 L240.2,141.2 L240.3,141.0 L240.5,140.7 L240.7,140.5 L240.9,140.3 L241.1,140.1 L241.4,139.9 L241.6,139.8 L241.9,139.6 L242.2,139.5 L242.5,139.3 L242.8,139.2 L243.2,139.1 L243.6,138.9 L243.9,138.8 L244.3,138.7 L244.7,138.7 L245.2,138.6 L245.6,138.5 L246.1,138.5 L246.5,138.5 L247.0,138.5 L247.5,138.5 L248.1,138.6 L248.6,138.6 L249.2,138.7 L249.8,138.7 L250.4,138.8 L251.0,138.8 L251.6,138.9 L252.2,139.0 L252.9,139.1 L253.6,139.3 L254.3,139.4 L255.0,139.7 L255.7,139.9 L256.5,140.2 L257.2,140.6 L258.0,140.9 L258.8,141.3 L259.6,141.7 L260.4,142.1 L261.3,142.5 L262.1,142.9 L263.0,143.3 L263.9,143.7 L264.8,144.2 L265.8,144.6 L266.7,145.0 L267.7,145.4 L268.7,145.9 L269.6,146.4 L270.7,146.9 L271.7,147.4 L272.7,147.9 L273.8,148.4 L274.9,148.9 L276.0,149.3 L277.1,149.8 L278.2,150.3 L279.4,150.7 L280.5,151.2 L281.7,151.6 L282.9,152.1 L284.1,152.5 L285.4,152.9 L286.6,153.4 L287.9,153.8 L289.2,154.2 L290.4,154.7 L291.8,155.1 L293.1,155.5 L294.4,155.9 L295.8,156.4 L297.2,156.8 L298.6,157.2 L300.0,157.6 L301.4,158.1 L302.9,158.5 L304.4,158.9 L305.8,159.3 L307.3,159.7 L308.8,160.1 L310.4,160.4 L311.9,160.8 L313.5,161.2 L315.1,161.5 L316.7,161.8 L318.3,162.1 L319.9,162.4 L321.6,162.7 L323.2,163.0 L324.9,163.3 L326.6,163.6 L328.3,163.9 L330.1,164.2 L331.8,164.4 L333.6,164.7 L335.4,164.9 L337.2,165.2 L339.0,165.4 L340.8,165.6 L342.7,165.8 L344.5,166.0 L346.4,166.3 L348.3,166.5 L350.3,166.7 L352.2,166.8 L354.1,167.0 L356.1,167.2 L358.1,167.4 L360.1,167.6 L362.1,167.7 L364.1,167.9 L366.2,168.1 L368.3,168.3 L370.3,168.4 L372.5,168.6 L374.6,168.7 L376.7,168.9 L378.9,169.0 L381.0,169.2 L383.2,169.4 L385.4,169.5 L387.6,169.7 L389.9,169.9 L392.1,170.1 L394.4,170.3 L396.7,170.6 L399.0,170.8 L401.3,171.0" fill="none" stroke="#e3141e" stroke-width="1.85" stroke-dasharray="4.2,1.6" stroke-linejoin="round"/>
<path d="M239.5,144.2 L239.5,144.8 L239.5,145.5 L239.6,146.1 L239.6,146.8 L239.7,147.5 L239.8,148.1 L239.9,148.8 L240.0,149.5 L240.2,150.2 L240.3,150.9 L240.5,151.6 L240.7,152.4 L240.9,153.1 L241.1,153.8 L241.4,154.6 L241.6,155.3 L241.9,156.1 L242.2,156.9 L242.5,157.7 L242.8,158.4 L243.2,159.2 L243.6,160.1 L243.9,160.9 L244.3,161.7 L244.7,162.5 L245.2,163.4 L245.6,164.2 L246.1,165.1 L246.5,166.0 L247.0,166.9 L247.5,167.8 L248.1,168.7 L248.6,169.6 L249.2,170.6 L249.8,171.5 L250.4,172.4 L251.0,173.4 L251.6,174.3 L252.2,175.2 L252.9,176.1 L253.6,177.0 L254.3,177.9 L255.0,178.8 L255.7,179.6 L256.5,180.5 L257.2,181.4 L258.0,182.2 L258.8,183.1 L259.6,183.9 L260.4,184.8 L261.3,185.7 L262.1,186.5 L263.0,187.3 L263.9,188.2 L264.8,189.0 L265.8,189.9 L266.7,190.7 L267.7,191.6 L268.7,192.4 L269.6,193.3 L270.7,194.1 L271.7,194.9 L272.7,195.8 L273.8,196.6 L274.9,197.4 L276.0,198.2 L277.1,198.9 L278.2,199.7 L279.4,200.5 L280.5,201.2 L281.7,202.0 L282.9,202.7 L284.1,203.4 L285.4,204.1 L286.6,204.8 L287.9,205.4 L289.2,206.1 L290.4,206.7 L291.8,207.3 L293.1,207.9 L294.4,208.5 L295.8,209.0 L297.2,209.6 L298.6,210.1 L300.0,210.6 L301.4,211.2 L302.9,211.7 L304.4,212.2 L305.8,212.7 L307.3,213.2 L308.8,213.6 L310.4,214.1 L311.9,214.6 L313.5,215.0 L315.1,215.5 L316.7,215.9 L318.3,216.4 L319.9,216.8 L321.6,217.3 L323.2,217.7 L324.9,218.1 L326.6,218.5 L328.3,218.9 L330.1,219.3 L331.8,219.7 L333.6,220.1 L335.4,220.4 L337.2,220.8 L339.0,221.1 L340.8,221.5 L342.7,221.8 L344.5,222.1 L346.4,222.4 L348.3,222.8 L350.3,223.1 L352.2,223.4 L354.1,223.7 L356.1,223.9 L358.1,224.2 L360.1,224.5 L362.1,224.7 L364.1,225.0 L366.2,225.2 L368.3,225.4 L370.3,225.6 L372.5,225.8 L374.6,226.0 L376.7,226.2 L378.9,226.4 L381.0,226.6 L383.2,226.8 L385.4,227.0 L387.6,227.2 L389.9,227.3 L392.1,227.5 L394.4,227.6 L396.7,227.7 L399.0,227.9 L401.3,228.0" fill="none" stroke="#e3141e" stroke-width="1.85" stroke-dasharray="4.2,1.6" stroke-linejoin="round"/>
<path d="M239.50,135.50 V238.90" stroke="#606060" stroke-width="1" fill="none"/>
<path d="M237.00,237.40 H404.30" stroke="#3c3c3c" stroke-width="1" fill="none"/>
<path d="M239.50,237.40 v-1.8 M247.59,237.40 v-1.0 M255.68,237.40 v-1.0 M263.77,237.40 v-1.0 M271.86,237.40 v-1.8 M279.95,237.40 v-1.0 M288.04,237.40 v-1.0 M296.13,237.40 v-1.0 M304.22,237.40 v-1.8 M312.31,237.40 v-1.0 M320.40,237.40 v-1.0 M328.49,237.40 v-1.0 M336.58,237.40 v-1.8 M344.67,237.40 v-1.0 M352.76,237.40 v-1.0 M360.85,237.40 v-1.0 M368.94,237.40 v-1.8 M377.03,237.40 v-1.0 M385.12,237.40 v-1.0 M393.21,237.40 v-1.0 M401.30,237.40 v-1.8 M239.50,143.50 h1.8 M239.50,154.40 h1.8 M239.50,166.25 h1.8 M239.50,178.75 h1.8 M239.50,191.25 h1.8 M239.50,204.25 h1.8 M239.50,218.00 h1.8" stroke="#222" stroke-width="0.6" fill="none"/>
<text x="271.86" y="243.90" text-anchor="middle" class="tk">2</text>
<text x="304.22" y="243.90" text-anchor="middle" class="tk">4</text>
<text x="336.58" y="243.90" text-anchor="middle" class="tk">6</text>
<text x="368.94" y="243.90" text-anchor="middle" class="tk">8</text>
<text x="401.30" y="243.90" text-anchor="middle" class="tk">10</text>
<text x="237.50" y="146.10" text-anchor="end" class="tk">0.5</text>
<text x="237.50" y="157.00" text-anchor="end" class="tk">0.48</text>
<text x="237.50" y="168.85" text-anchor="end" class="tk">0.46</text>
<text x="237.50" y="181.35" text-anchor="end" class="tk">0.44</text>
<text x="237.50" y="193.85" text-anchor="end" class="tk">0.42</text>
<text x="237.50" y="206.85" text-anchor="end" class="tk">0.4</text>
<text x="237.50" y="220.60" text-anchor="end" class="tk">0.38</text>
<path d="M440.7,149.0 L440.7,148.3 L440.7,147.7 L440.8,147.0 L440.8,146.4 L440.9,145.7 L441.0,145.1 L441.1,144.5 L441.2,143.9 L441.4,143.2 L441.5,142.6 L441.7,142.1 L441.9,141.5 L442.1,141.1 L442.3,140.7 L442.6,140.5 L442.8,140.2 L443.1,140.0 L443.4,139.8 L443.7,139.7 L444.0,139.5 L444.4,139.4 L444.8,139.2 L445.1,139.1 L445.5,139.0 L445.9,139.0 L446.4,138.9 L446.8,138.9 L447.3,138.9 L447.7,138.9 L448.2,139.0 L448.7,139.1 L449.3,139.2 L449.8,139.4 L450.4,139.6 L451.0,139.9 L451.6,140.2 L452.2,140.4 L452.8,140.8 L453.4,141.1 L454.1,141.5 L454.8,141.9 L455.5,142.3 L456.2,142.7 L456.9,143.2 L457.7,143.7 L458.4,144.1 L459.2,144.6 L460.0,145.1 L460.8,145.6 L461.6,146.1 L462.5,146.5 L463.3,146.9 L464.2,147.3 L465.1,147.5 L466.0,147.7 L467.0,147.9 L467.9,148.0 L468.9,148.3 L469.9,148.7 L470.8,149.1 L471.9,149.6 L472.9,150.0 L473.9,150.5 L475.0,150.8 L476.1,151.1 L477.2,151.3 L478.3,151.6 L479.4,151.8 L480.6,152.1 L481.7,152.4 L482.9,152.6 L484.1,152.9 L485.3,153.1 L486.6,153.3 L487.8,153.5 L489.1,153.7 L490.4,153.9 L491.6,154.0 L493.0,154.2 L494.3,154.5 L495.6,154.7 L497.0,155.0 L498.4,155.2 L499.8,155.5 L501.2,155.7 L502.6,155.9 L504.1,155.9 L505.6,155.6 L507.0,155.2 L508.5,155.1 L510.0,155.3 L511.6,155.8 L513.1,156.3 L514.7,156.5 L516.3,156.5 L517.9,156.3 L519.5,156.3 L521.1,156.3 L522.8,156.4 L524.4,156.5 L526.1,156.6 L527.8,156.3 L529.5,155.9 L531.3,155.7 L533.0,155.9 L534.8,156.2 L536.6,156.5 L538.4,156.8 L540.2,157.2 L542.0,157.4 L543.9,157.3 L545.7,156.7 L547.6,156.0 L549.5,155.7 L551.5,155.5 L553.4,155.4 L555.3,155.4 L557.3,155.4 L559.3,155.5 L561.3,155.8 L563.3,156.3 L565.3,156.8 L567.4,157.3 L569.5,157.9 L571.5,158.0 L573.7,157.7 L575.8,157.3 L577.9,157.3 L580.1,157.5 L582.2,157.5 L584.4,157.2 L586.6,156.7 L588.8,156.6 L591.1,157.0 L593.3,157.3 L595.6,156.9 L597.9,156.4 L600.2,156.2 L602.5,156.3 L602.5,195.8 L600.2,195.1 L597.9,194.7 L595.6,194.6 L593.3,195.3 L591.1,195.4 L588.8,195.3 L586.6,194.7 L584.4,195.3 L582.2,195.6 L580.1,195.1 L577.9,195.0 L575.8,194.7 L573.7,194.3 L571.5,194.4 L569.5,194.8 L567.4,195.4 L565.3,194.7 L563.3,193.9 L561.3,195.1 L559.3,195.1 L557.3,194.7 L555.3,194.5 L553.4,194.4 L551.5,194.4 L549.5,194.3 L547.6,194.1 L545.7,194.1 L543.9,194.0 L542.0,193.9 L540.2,193.8 L538.4,193.9 L536.6,193.8 L534.8,193.6 L533.0,193.6 L531.3,193.6 L529.5,193.4 L527.8,193.3 L526.1,193.7 L524.4,193.8 L522.8,193.5 L521.1,193.4 L519.5,193.4 L517.9,193.6 L516.3,193.8 L514.7,193.9 L513.1,193.6 L511.6,193.3 L510.0,192.9 L508.5,192.7 L507.0,192.9 L505.6,193.2 L504.1,192.8 L502.6,192.1 L501.2,192.0 L499.8,192.1 L498.4,192.2 L497.0,192.5 L495.6,192.6 L494.3,192.3 L493.0,191.9 L491.6,191.4 L490.4,190.8 L489.1,190.3 L487.8,190.1 L486.6,189.8 L485.3,189.7 L484.1,189.9 L482.9,190.0 L481.7,189.8 L480.6,189.4 L479.4,189.0 L478.3,188.4 L477.2,187.7 L476.1,187.1 L475.0,186.5 L473.9,186.0 L472.9,185.4 L471.9,184.9 L470.8,184.4 L469.9,183.9 L468.9,183.4 L467.9,183.1 L467.0,182.7 L466.0,182.0 L465.1,181.4 L464.2,180.7 L463.3,180.1 L462.5,179.3 L461.6,178.6 L460.8,177.9 L460.0,177.1 L459.2,176.4 L458.4,175.7 L457.7,174.9 L456.9,174.2 L456.2,173.5 L455.5,172.8 L454.8,172.0 L454.1,171.3 L453.4,170.5 L452.8,169.8 L452.2,169.0 L451.6,168.2 L451.0,167.4 L450.4,166.7 L449.8,165.9 L449.3,165.1 L448.7,164.3 L448.2,163.5 L447.7,162.8 L447.3,162.0 L446.8,161.2 L446.4,160.5 L445.9,159.7 L445.5,159.0 L445.1,158.3 L444.8,157.6 L444.4,156.9 L444.0,156.3 L443.7,155.6 L443.4,155.0 L443.1,154.4 L442.8,153.8 L442.6,153.3 L442.3,152.8 L442.1,152.3 L441.9,151.8 L441.7,151.4 L441.5,151.0 L441.4,150.6 L441.2,150.3 L441.1,150.0 L441.0,149.8 L440.9,149.6 L440.8,149.4 L440.8,149.3 L440.7,149.2 L440.7,149.1 L440.7,149.0Z" fill="#c7b7d6"/>
<path d="M440.7,149.0 L440.7,149.1 L440.7,149.2 L440.8,149.3 L440.8,149.4 L440.9,149.6 L441.0,149.8 L441.1,150.0 L441.2,150.3 L441.4,150.6 L441.5,151.0 L441.7,151.4 L441.9,151.8 L442.1,152.3 L442.3,152.8 L442.6,153.3 L442.8,153.8 L443.1,154.4 L443.4,155.0 L443.7,155.6 L444.0,156.3 L444.4,156.9 L444.8,157.6 L445.1,158.3 L445.5,159.0 L445.9,159.7 L446.4,160.5 L446.8,161.2 L447.3,162.0 L447.7,162.8 L448.2,163.5 L448.7,164.3 L449.3,165.1 L449.8,165.9 L450.4,166.7 L451.0,167.4 L451.6,168.2 L452.2,169.0 L452.8,169.8 L453.4,170.5 L454.1,171.3 L454.8,172.0 L455.5,172.8 L456.2,173.5 L456.9,174.2 L457.7,174.9 L458.4,175.7 L459.2,176.4 L460.0,177.1 L460.8,177.9 L461.6,178.6 L462.5,179.3 L463.3,180.1 L464.2,180.7 L465.1,181.4 L466.0,182.0 L467.0,182.7 L467.9,183.1 L468.9,183.4 L469.9,183.9 L470.8,184.4 L471.9,184.9 L472.9,185.4 L473.9,186.0 L475.0,186.5 L476.1,187.1 L477.2,187.7 L478.3,188.4 L479.4,189.0 L480.6,189.4 L481.7,189.8 L482.9,190.0 L484.1,189.9 L485.3,189.7 L486.6,189.8 L487.8,190.1 L489.1,190.3 L490.4,190.8 L491.6,191.4 L493.0,191.9 L494.3,192.3 L495.6,192.6 L497.0,192.5 L498.4,192.2 L499.8,192.1 L501.2,192.0 L502.6,192.1 L504.1,192.8 L505.6,193.2 L507.0,192.9 L508.5,192.7 L510.0,192.9 L511.6,193.3 L513.1,193.6 L514.7,193.9 L516.3,193.8 L517.9,193.6 L519.5,193.4 L521.1,193.4 L522.8,193.5 L524.4,193.8 L526.1,193.7 L527.8,193.3 L529.5,193.4 L531.3,193.6 L533.0,193.6 L534.8,193.6 L536.6,193.8 L538.4,193.9 L540.2,193.8 L542.0,193.9 L543.9,194.0 L545.7,194.1 L547.6,194.1 L549.5,194.3 L551.5,194.4 L553.4,194.4 L555.3,194.5 L557.3,194.7 L559.3,195.1 L561.3,195.1 L563.3,193.9 L565.3,194.7 L567.4,195.4 L569.5,194.8 L571.5,194.4 L573.7,194.3 L575.8,194.7 L577.9,195.0 L580.1,195.1 L582.2,195.6 L584.4,195.3 L586.6,194.7 L588.8,195.3 L591.1,195.4 L593.3,195.3 L595.6,194.6 L597.9,194.7 L600.2,195.1 L602.5,195.8 L602.5,236.7 L600.2,236.9 L597.9,236.1 L595.6,235.2 L593.3,237.4 L591.1,237.1 L588.8,236.5 L586.6,236.3 L584.4,236.3 L582.2,236.4 L580.1,236.6 L577.9,236.9 L575.8,236.9 L573.7,236.0 L571.5,234.7 L569.5,233.3 L567.4,232.1 L565.3,231.6 L563.3,231.8 L561.3,231.8 L559.3,232.0 L557.3,232.2 L555.3,232.8 L553.4,233.0 L551.5,232.9 L549.5,232.7 L547.6,232.6 L545.7,232.7 L543.9,232.7 L542.0,232.6 L540.2,232.4 L538.4,232.3 L536.6,232.5 L534.8,232.8 L533.0,232.9 L531.3,232.9 L529.5,233.3 L527.8,233.6 L526.1,233.6 L524.4,233.3 L522.8,232.6 L521.1,232.1 L519.5,231.8 L517.9,231.7 L516.3,231.9 L514.7,232.0 L513.1,232.1 L511.6,232.1 L510.0,232.0 L508.5,232.0 L507.0,232.2 L505.6,232.4 L504.1,232.7 L502.6,232.9 L501.2,232.8 L499.8,232.1 L498.4,232.0 L497.0,232.0 L495.6,231.7 L494.3,231.4 L493.0,231.1 L491.6,230.2 L490.4,229.1 L489.1,228.3 L487.8,228.1 L486.6,227.8 L485.3,227.2 L484.1,226.3 L482.9,225.5 L481.7,225.2 L480.6,225.1 L479.4,224.7 L478.3,224.2 L477.2,223.7 L476.1,223.1 L475.0,222.6 L473.9,222.1 L472.9,221.5 L471.9,220.9 L470.8,220.3 L469.9,219.7 L468.9,219.0 L467.9,218.3 L467.0,217.6 L466.0,216.8 L465.1,216.0 L464.2,215.2 L463.3,214.4 L462.5,213.6 L461.6,212.7 L460.8,211.9 L460.0,211.0 L459.2,210.1 L458.4,209.1 L457.7,208.1 L456.9,207.1 L456.2,206.1 L455.5,205.0 L454.8,203.9 L454.1,202.8 L453.4,201.6 L452.8,200.3 L452.2,198.9 L451.6,197.4 L451.0,195.8 L450.4,194.2 L449.8,192.5 L449.3,190.9 L448.7,189.2 L448.2,187.7 L447.7,186.2 L447.3,184.8 L446.8,183.5 L446.4,182.2 L445.9,181.0 L445.5,179.8 L445.1,178.6 L444.8,177.4 L444.4,176.2 L444.0,175.1 L443.7,173.9 L443.4,172.7 L443.1,171.5 L442.8,170.3 L442.6,169.0 L442.3,167.8 L442.1,166.5 L441.9,165.2 L441.7,163.9 L441.5,162.6 L441.4,161.2 L441.2,159.9 L441.1,158.6 L441.0,157.2 L440.9,155.9 L440.8,154.5 L440.8,153.2 L440.7,151.8 L440.7,150.4 L440.7,149.0Z" fill="#ebd8e4"/>
<path d="M440.7,149.0 L440.7,148.3 L440.7,147.7 L440.8,147.0 L440.8,146.4 L440.9,145.7 L441.0,145.1 L441.1,144.5 L441.2,143.9 L441.4,143.2 L441.5,142.6 L441.7,142.1 L441.9,141.5 L442.1,141.1 L442.3,140.7 L442.6,140.5 L442.8,140.2 L443.1,140.0 L443.4,139.8 L443.7,139.7 L444.0,139.5 L444.4,139.4 L444.8,139.2 L445.1,139.1 L445.5,139.0 L445.9,139.0 L446.4,138.9 L446.8,138.9 L447.3,138.9 L447.7,138.9 L448.2,139.0 L448.7,139.1 L449.3,139.2 L449.8,139.4 L450.4,139.6 L451.0,139.9 L451.6,140.2 L452.2,140.4 L452.8,140.8 L453.4,141.1 L454.1,141.5 L454.8,141.9 L455.5,142.3 L456.2,142.7 L456.9,143.2 L457.7,143.7 L458.4,144.1 L459.2,144.6 L460.0,145.1 L460.8,145.6 L461.6,146.1 L462.5,146.5 L463.3,146.9 L464.2,147.3 L465.1,147.5 L466.0,147.7 L467.0,147.9 L467.9,148.0 L468.9,148.3 L469.9,148.7 L470.8,149.1 L471.9,149.6 L472.9,150.0 L473.9,150.5 L475.0,150.8 L476.1,151.1 L477.2,151.3 L478.3,151.6 L479.4,151.8 L480.6,152.1 L481.7,152.4 L482.9,152.6 L484.1,152.9 L485.3,153.1 L486.6,153.3 L487.8,153.5 L489.1,153.7 L490.4,153.9 L491.6,154.0 L493.0,154.2 L494.3,154.5 L495.6,154.7 L497.0,155.0 L498.4,155.2 L499.8,155.5 L501.2,155.7 L502.6,155.9 L504.1,155.9 L505.6,155.6 L507.0,155.2 L508.5,155.1 L510.0,155.3 L511.6,155.8 L513.1,156.3 L514.7,156.5 L516.3,156.5 L517.9,156.3 L519.5,156.3 L521.1,156.3 L522.8,156.4 L524.4,156.5 L526.1,156.6 L527.8,156.3 L529.5,155.9 L531.3,155.7 L533.0,155.9 L534.8,156.2 L536.6,156.5 L538.4,156.8 L540.2,157.2 L542.0,157.4 L543.9,157.3 L545.7,156.7 L547.6,156.0 L549.5,155.7 L551.5,155.5 L553.4,155.4 L555.3,155.4 L557.3,155.4 L559.3,155.5 L561.3,155.8 L563.3,156.3 L565.3,156.8 L567.4,157.3 L569.5,157.9 L571.5,158.0 L573.7,157.7 L575.8,157.3 L577.9,157.3 L580.1,157.5 L582.2,157.5 L584.4,157.2 L586.6,156.7 L588.8,156.6 L591.1,157.0 L593.3,157.3 L595.6,156.9 L597.9,156.4 L600.2,156.2 L602.5,156.3" fill="none" stroke="#5e3e80" stroke-width="0.7"/>
<path d="M440.7,149.0 L440.7,150.4 L440.7,151.8 L440.8,153.2 L440.8,154.5 L440.9,155.9 L441.0,157.2 L441.1,158.6 L441.2,159.9 L441.4,161.2 L441.5,162.6 L441.7,163.9 L441.9,165.2 L442.1,166.5 L442.3,167.8 L442.6,169.0 L442.8,170.3 L443.1,171.5 L443.4,172.7 L443.7,173.9 L444.0,175.1 L444.4,176.2 L444.8,177.4 L445.1,178.6 L445.5,179.8 L445.9,181.0 L446.4,182.2 L446.8,183.5 L447.3,184.8 L447.7,186.2 L448.2,187.7 L448.7,189.2 L449.3,190.9 L449.8,192.5 L450.4,194.2 L451.0,195.8 L451.6,197.4 L452.2,198.9 L452.8,200.3 L453.4,201.6 L454.1,202.8 L454.8,203.9 L455.5,205.0 L456.2,206.1 L456.9,207.1 L457.7,208.1 L458.4,209.1 L459.2,210.1 L460.0,211.0 L460.8,211.9 L461.6,212.7 L462.5,213.6 L463.3,214.4 L464.2,215.2 L465.1,216.0 L466.0,216.8 L467.0,217.6 L467.9,218.3 L468.9,219.0 L469.9,219.7 L470.8,220.3 L471.9,220.9 L472.9,221.5 L473.9,222.1 L475.0,222.6 L476.1,223.1 L477.2,223.7 L478.3,224.2 L479.4,224.7 L480.6,225.1 L481.7,225.2 L482.9,225.5 L484.1,226.3 L485.3,227.2 L486.6,227.8 L487.8,228.1 L489.1,228.3 L490.4,229.1 L491.6,230.2 L493.0,231.1 L494.3,231.4 L495.6,231.7 L497.0,232.0 L498.4,232.0 L499.8,232.1 L501.2,232.8 L502.6,232.9 L504.1,232.7 L505.6,232.4 L507.0,232.2 L508.5,232.0 L510.0,232.0 L511.6,232.1 L513.1,232.1 L514.7,232.0 L516.3,231.9 L517.9,231.7 L519.5,231.8 L521.1,232.1 L522.8,232.6 L524.4,233.3 L526.1,233.6 L527.8,233.6 L529.5,233.3 L531.3,232.9 L533.0,232.9 L534.8,232.8 L536.6,232.5 L538.4,232.3 L540.2,232.4 L542.0,232.6 L543.9,232.7 L545.7,232.7 L547.6,232.6 L549.5,232.7 L551.5,232.9 L553.4,233.0 L555.3,232.8 L557.3,232.2 L559.3,232.0 L561.3,231.8 L563.3,231.8 L565.3,231.6 L567.4,232.1 L569.5,233.3 L571.5,234.7 L573.7,236.0 L575.8,236.9 L577.9,236.9 L580.1,236.6 L582.2,236.4 L584.4,236.3 L586.6,236.3 L588.8,236.5 L591.1,237.1 L593.3,237.4 L595.6,235.2 L597.9,236.1 L600.2,236.9 L602.5,236.7" fill="none" stroke="#8a7a2a" stroke-width="0.7"/>
<path d="M440.7,149.0 L440.7,149.1 L440.7,149.2 L440.8,149.3 L440.8,149.4 L440.9,149.6 L441.0,149.8 L441.1,150.0 L441.2,150.3 L441.4,150.6 L441.5,151.0 L441.7,151.4 L441.9,151.8 L442.1,152.3 L442.3,152.8 L442.6,153.3 L442.8,153.8 L443.1,154.4 L443.4,155.0 L443.7,155.6 L444.0,156.3 L444.4,156.9 L444.8,157.6 L445.1,158.3 L445.5,159.0 L445.9,159.7 L446.4,160.5 L446.8,161.2 L447.3,162.0 L447.7,162.8 L448.2,163.5 L448.7,164.3 L449.3,165.1 L449.8,165.9 L450.4,166.7 L451.0,167.4 L451.6,168.2 L452.2,169.0 L452.8,169.8 L453.4,170.5 L454.1,171.3 L454.8,172.0 L455.5,172.8 L456.2,173.5 L456.9,174.2 L457.7,174.9 L458.4,175.7 L459.2,176.4 L460.0,177.1 L460.8,177.9 L461.6,178.6 L462.5,179.3 L463.3,180.1 L464.2,180.7 L465.1,181.4 L466.0,182.0 L467.0,182.7 L467.9,183.1 L468.9,183.4 L469.9,183.9 L470.8,184.4 L471.9,184.9 L472.9,185.4 L473.9,186.0 L475.0,186.5 L476.1,187.1 L477.2,187.7 L478.3,188.4 L479.4,189.0 L480.6,189.4 L481.7,189.8 L482.9,190.0 L484.1,189.9 L485.3,189.7 L486.6,189.8 L487.8,190.1 L489.1,190.3 L490.4,190.8 L491.6,191.4 L493.0,191.9 L494.3,192.3 L495.6,192.6 L497.0,192.5 L498.4,192.2 L499.8,192.1 L501.2,192.0 L502.6,192.1 L504.1,192.8 L505.6,193.2 L507.0,192.9 L508.5,192.7 L510.0,192.9 L511.6,193.3 L513.1,193.6 L514.7,193.9 L516.3,193.8 L517.9,193.6 L519.5,193.4 L521.1,193.4 L522.8,193.5 L524.4,193.8 L526.1,193.7 L527.8,193.3 L529.5,193.4 L531.3,193.6 L533.0,193.6 L534.8,193.6 L536.6,193.8 L538.4,193.9 L540.2,193.8 L542.0,193.9 L543.9,194.0 L545.7,194.1 L547.6,194.1 L549.5,194.3 L551.5,194.4 L553.4,194.4 L555.3,194.5 L557.3,194.7 L559.3,195.1 L561.3,195.1 L563.3,193.9 L565.3,194.7 L567.4,195.4 L569.5,194.8 L571.5,194.4 L573.7,194.3 L575.8,194.7 L577.9,195.0 L580.1,195.1 L582.2,195.6 L584.4,195.3 L586.6,194.7 L588.8,195.3 L591.1,195.4 L593.3,195.3 L595.6,194.6 L597.9,194.7 L600.2,195.1 L602.5,195.8" fill="none" stroke="#3030a0" stroke-width="0.7"/>
<path d="M440.7,149.0 L440.7,149.1 L440.7,149.2 L440.8,149.3 L440.8,149.4 L440.9,149.6 L441.0,149.8 L441.1,150.0 L441.2,150.3 L441.4,150.6 L441.5,151.0 L441.7,151.4 L441.9,151.8 L442.1,152.3 L442.3,152.8 L442.6,153.3 L442.8,153.8 L443.1,154.4 L443.4,155.0 L443.7,155.6 L444.0,156.3 L444.4,156.9 L444.8,157.6 L445.1,158.3 L445.5,159.0 L445.9,159.7 L446.4,160.5 L446.8,161.2 L447.3,162.0 L447.7,162.8 L448.2,163.5 L448.7,164.3 L449.3,165.1 L449.8,165.9 L450.4,166.7 L451.0,167.4 L451.6,168.2 L452.2,169.0 L452.8,169.8 L453.4,170.5 L454.1,171.3 L454.8,172.0 L455.5,172.8 L456.2,173.5 L456.9,174.2 L457.7,174.9 L458.4,175.6 L459.2,176.2 L460.0,176.9 L460.8,177.5 L461.6,178.2 L462.5,178.8 L463.3,179.4 L464.2,179.9 L465.1,180.5 L466.0,181.0 L467.0,181.5 L467.9,182.0 L468.9,182.5 L469.9,183.0 L470.8,183.5 L471.9,183.9 L472.9,184.3 L473.9,184.7 L475.0,185.1 L476.1,185.5 L477.2,185.8 L478.3,186.1 L479.4,186.5 L480.6,186.8 L481.7,187.1 L482.9,187.3 L484.1,187.6 L485.3,187.8 L486.6,188.1 L487.8,188.3 L489.1,188.5 L490.4,188.7 L491.6,188.9 L493.0,189.1 L494.3,189.2 L495.6,189.4 L497.0,189.5 L498.4,189.7 L499.8,189.8 L501.2,189.9 L502.6,190.0 L504.1,190.1 L505.6,190.2 L507.0,190.3 L508.5,190.4 L510.0,190.5 L511.6,190.6 L513.1,190.6 L514.7,190.7 L516.3,190.8 L517.9,190.8 L519.5,190.9 L521.1,190.9 L522.8,191.0 L524.4,191.0 L526.1,191.0 L527.8,191.1 L529.5,191.1 L531.3,191.1 L533.0,191.1 L534.8,191.2 L536.6,191.2 L538.4,191.2 L540.2,191.2 L542.0,191.2 L543.9,191.3 L545.7,191.3 L547.6,191.3 L549.5,191.3 L551.5,191.3 L553.4,191.3 L555.3,191.3 L557.3,191.3 L559.3,191.3 L561.3,191.3 L563.3,191.4 L565.3,191.4 L567.4,191.4 L569.5,191.4 L571.5,191.4 L573.7,191.4 L575.8,191.4 L577.9,191.4 L580.1,191.4 L582.2,191.4 L584.4,191.4 L586.6,191.4 L588.8,191.4 L591.1,191.4 L593.3,191.4 L595.6,191.4 L597.9,191.4 L600.2,191.4 L602.5,191.4" fill="none" stroke="#000" stroke-width="1.8" stroke-linejoin="round"/>
<path d="M440.7,149.0 L440.7,148.3 L440.7,147.7 L440.8,147.0 L440.8,146.4 L440.9,145.7 L441.0,145.1 L441.1,144.5 L441.2,143.9 L441.4,143.2 L441.5,142.6 L441.7,142.1 L441.9,141.5 L442.1,141.1 L442.3,140.7 L442.6,140.5 L442.8,140.2 L443.1,140.0 L443.4,139.8 L443.7,139.7 L444.0,139.5 L444.4,139.4 L444.8,139.2 L445.1,139.1 L445.5,139.0 L445.9,138.9 L446.4,138.9 L446.8,138.8 L447.3,138.8 L447.7,138.9 L448.2,139.0 L448.7,139.1 L449.3,139.3 L449.8,139.6 L450.4,139.8 L451.0,140.2 L451.6,140.5 L452.2,140.8 L452.8,141.2 L453.4,141.5 L454.1,141.8 L454.8,142.2 L455.5,142.5 L456.2,142.9 L456.9,143.3 L457.7,143.7 L458.4,144.1 L459.2,144.5 L460.0,144.9 L460.8,145.3 L461.6,145.8 L462.5,146.2 L463.3,146.6 L464.2,147.0 L465.1,147.3 L466.0,147.7 L467.0,148.1 L467.9,148.4 L468.9,148.7 L469.9,149.1 L470.8,149.4 L471.9,149.7 L472.9,150.0 L473.9,150.3 L475.0,150.6 L476.1,150.9 L477.2,151.2 L478.3,151.5 L479.4,151.8 L480.6,152.0 L481.7,152.3 L482.9,152.6 L484.1,152.9 L485.3,153.1 L486.6,153.4 L487.8,153.6 L489.1,153.8 L490.4,154.0 L491.6,154.1 L493.0,154.3 L494.3,154.5 L495.6,154.6 L497.0,154.7 L498.4,154.9 L499.8,155.0 L501.2,155.1 L502.6,155.2 L504.1,155.3 L505.6,155.4 L507.0,155.5 L508.5,155.6 L510.0,155.7 L511.6,155.8 L513.1,155.9 L514.7,155.9 L516.3,156.0 L517.9,156.1 L519.5,156.1 L521.1,156.2 L522.8,156.2 L524.4,156.3 L526.1,156.3 L527.8,156.3 L529.5,156.4 L531.3,156.4 L533.0,156.4 L534.8,156.5 L536.6,156.5 L538.4,156.5 L540.2,156.5 L542.0,156.5 L543.9,156.5 L545.7,156.5 L547.6,156.6 L549.5,156.6 L551.5,156.6 L553.4,156.6 L555.3,156.6 L557.3,156.6 L559.3,156.6 L561.3,156.6 L563.3,156.6 L565.3,156.6 L567.4,156.6 L569.5,156.6 L571.5,156.6 L573.7,156.6 L575.8,156.6 L577.9,156.6 L580.1,156.6 L582.2,156.5 L584.4,156.5 L586.6,156.5 L588.8,156.5 L591.1,156.5 L593.3,156.4 L595.6,156.4 L597.9,156.4 L600.2,156.3 L602.5,156.3" fill="none" stroke="#e3141e" stroke-width="1.85" stroke-dasharray="4.2,1.6" stroke-linejoin="round"/>
<path d="M440.7,149.0 L440.7,150.4 L440.7,151.7 L440.8,153.1 L440.8,154.4 L440.9,155.7 L441.0,157.1 L441.1,158.4 L441.2,159.7 L441.4,161.0 L441.5,162.2 L441.7,163.5 L441.9,164.8 L442.1,166.0 L442.3,167.3 L442.6,168.5 L442.8,169.7 L443.1,170.9 L443.4,172.0 L443.7,173.1 L444.0,174.3 L444.4,175.4 L444.8,176.5 L445.1,177.6 L445.5,178.8 L445.9,179.9 L446.4,181.1 L446.8,182.4 L447.3,183.7 L447.7,185.0 L448.2,186.5 L448.7,188.0 L449.3,189.6 L449.8,191.2 L450.4,192.8 L451.0,194.4 L451.6,195.9 L452.2,197.4 L452.8,198.8 L453.4,200.0 L454.1,201.2 L454.8,202.3 L455.5,203.3 L456.2,204.4 L456.9,205.3 L457.7,206.3 L458.4,207.2 L459.2,208.1 L460.0,208.9 L460.8,209.8 L461.6,210.5 L462.5,211.3 L463.3,212.0 L464.2,212.7 L465.1,213.4 L466.0,214.1 L467.0,214.7 L467.9,215.2 L468.9,215.7 L469.9,216.2 L470.8,216.7 L471.9,217.2 L472.9,217.8 L473.9,218.3 L475.0,218.8 L476.1,219.4 L477.2,219.9 L478.3,220.3 L479.4,220.7 L480.6,221.0 L481.7,221.4 L482.9,221.6 L484.1,221.9 L485.3,222.2 L486.6,222.4 L487.8,222.7 L489.1,222.9 L490.4,223.1 L491.6,223.3 L493.0,223.4 L494.3,223.6 L495.6,223.8 L497.0,224.0 L498.4,224.1 L499.8,224.3 L501.2,224.4 L502.6,224.6 L504.1,224.7 L505.6,224.8 L507.0,225.0 L508.5,225.1 L510.0,225.2 L511.6,225.3 L513.1,225.4 L514.7,225.5 L516.3,225.6 L517.9,225.6 L519.5,225.7 L521.1,225.8 L522.8,225.8 L524.4,225.9 L526.1,226.0 L527.8,226.0 L529.5,226.1 L531.3,226.1 L533.0,226.2 L534.8,226.2 L536.6,226.2 L538.4,226.3 L540.2,226.3 L542.0,226.3 L543.9,226.3 L545.7,226.4 L547.6,226.4 L549.5,226.4 L551.5,226.4 L553.4,226.5 L555.3,226.5 L557.3,226.5 L559.3,226.5 L561.3,226.5 L563.3,226.6 L565.3,226.6 L567.4,226.6 L569.5,226.6 L571.5,226.6 L573.7,226.6 L575.8,226.7 L577.9,226.7 L580.1,226.7 L582.2,226.7 L584.4,226.7 L586.6,226.7 L588.8,226.7 L591.1,226.7 L593.3,226.7 L595.6,226.7 L597.9,226.7 L600.2,226.7 L602.5,226.7" fill="none" stroke="#e3141e" stroke-width="1.85" stroke-dasharray="4.2,1.6" stroke-linejoin="round"/>
<path d="M440.70,135.50 V238.90" stroke="#606060" stroke-width="1" fill="none"/>
<path d="M438.20,237.40 H605.50" stroke="#3c3c3c" stroke-width="1" fill="none"/>
<path d="M440.70,237.40 v-1.8 M448.79,237.40 v-1.0 M456.88,237.40 v-1.0 M464.97,237.40 v-1.0 M473.06,237.40 v-1.8 M481.15,237.40 v-1.0 M489.24,237.40 v-1.0 M497.33,237.40 v-1.0 M505.42,237.40 v-1.8 M513.51,237.40 v-1.0 M521.60,237.40 v-1.0 M529.69,237.40 v-1.0 M537.78,237.40 v-1.8 M545.87,237.40 v-1.0 M553.96,237.40 v-1.0 M562.05,237.40 v-1.0 M570.14,237.40 v-1.8 M578.23,237.40 v-1.0 M586.32,237.40 v-1.0 M594.41,237.40 v-1.0 M602.50,237.40 v-1.8 M440.70,148.00 h1.8 M440.70,172.25 h1.8 M440.70,196.00 h1.8 M440.70,221.00 h1.8" stroke="#222" stroke-width="0.6" fill="none"/>
<text x="473.06" y="243.90" text-anchor="middle" class="tk">2</text>
<text x="505.42" y="243.90" text-anchor="middle" class="tk">4</text>
<text x="537.78" y="243.90" text-anchor="middle" class="tk">6</text>
<text x="570.14" y="243.90" text-anchor="middle" class="tk">8</text>
<text x="602.50" y="243.90" text-anchor="middle" class="tk">10</text>
<text x="438.70" y="150.60" text-anchor="end" class="tk">0.5</text>
<text x="438.70" y="174.85" text-anchor="end" class="tk">0.48</text>
<text x="438.70" y="198.60" text-anchor="end" class="tk">0.46</text>
<text x="438.70" y="223.60" text-anchor="end" class="tk">0.44</text>
<path d="M39.0,353.6 L39.0,353.4 L39.0,353.2 L39.0,352.9 L39.1,352.7 L39.2,352.5 L39.3,352.2 L39.4,351.9 L39.5,351.7 L39.6,351.4 L39.8,351.1 L40.0,350.8 L40.2,350.6 L40.4,350.3 L40.6,349.9 L40.8,349.6 L41.1,349.3 L41.4,349.0 L41.7,348.6 L42.0,348.3 L42.3,347.9 L42.6,347.6 L43.0,347.2 L43.4,346.9 L43.8,346.5 L44.2,346.1 L44.6,345.7 L45.1,345.3 L45.5,344.9 L46.0,344.5 L46.5,344.0 L47.0,343.6 L47.5,343.2 L48.1,342.7 L48.6,342.3 L49.2,341.8 L49.8,341.3 L50.4,340.9 L51.0,340.4 L51.7,339.9 L52.3,339.4 L53.0,338.9 L53.7,338.4 L54.4,337.9 L55.2,337.3 L55.9,336.8 L56.7,336.3 L57.4,335.7 L58.2,335.1 L59.1,334.6 L59.9,334.0 L60.7,333.4 L61.6,332.9 L62.5,332.3 L63.4,331.7 L64.3,331.1 L65.2,330.5 L66.2,329.9 L67.1,329.2 L68.1,328.6 L69.1,328.0 L70.1,327.3 L71.1,326.7 L72.2,326.0 L73.3,325.3 L74.3,324.7 L75.4,324.0 L76.5,323.3 L77.7,322.6 L78.8,321.9 L80.0,321.2 L81.2,320.5 L82.4,319.8 L83.6,319.0 L84.8,318.3 L86.1,317.5 L87.3,316.8 L88.6,316.0 L89.9,315.3 L91.2,314.5 L92.5,313.7 L93.9,312.9 L95.3,312.2 L96.6,311.4 L98.0,310.5 L99.5,309.7 L100.9,308.9 L102.3,308.1 L103.8,307.2 L105.3,306.4 L106.8,305.6 L108.3,304.7 L109.8,303.8 L111.4,303.0 L112.9,302.1 L114.5,301.2 L116.1,300.3 L117.7,299.4 L119.4,298.5 L121.0,297.6 L122.7,296.7 L124.4,295.8 L126.1,294.8 L127.8,293.9 L129.5,293.0 L131.3,292.0 L133.0,291.1 L134.8,290.1 L136.6,289.1 L138.4,288.1 L140.3,287.2 L142.1,286.2 L144.0,285.2 L145.9,284.2 L147.8,283.1 L149.7,282.1 L151.6,281.1 L153.6,280.1 L155.6,279.0 L157.5,278.0 L159.5,276.9 L161.6,275.9 L163.6,274.8 L165.6,273.7 L167.7,272.6 L169.8,271.5 L171.9,270.4 L174.0,269.3 L176.2,268.2 L178.3,267.1 L180.5,266.0 L182.7,264.9 L184.9,263.7 L187.1,262.6 L189.3,261.4 L191.6,260.3 L193.8,259.1 L196.1,257.9 L198.4,256.8 L200.8,255.6 L200.8,283.1 L198.4,284.1 L196.1,285.1 L193.8,286.1 L191.6,287.1 L189.3,288.1 L187.1,289.0 L184.9,290.0 L182.7,291.0 L180.5,291.9 L178.3,292.9 L176.2,293.8 L174.0,294.7 L171.9,295.7 L169.8,296.6 L167.7,297.5 L165.6,298.4 L163.6,299.3 L161.6,300.2 L159.5,301.0 L157.5,301.9 L155.6,302.8 L153.6,303.6 L151.6,304.5 L149.7,305.3 L147.8,306.1 L145.9,307.0 L144.0,307.8 L142.1,308.6 L140.3,309.4 L138.4,310.2 L136.6,311.0 L134.8,311.8 L133.0,312.6 L131.3,313.3 L129.5,314.1 L127.8,314.8 L126.1,315.6 L124.4,316.3 L122.7,317.1 L121.0,317.8 L119.4,318.5 L117.7,319.2 L116.1,319.9 L114.5,320.6 L112.9,321.3 L111.4,322.0 L109.8,322.7 L108.3,323.3 L106.8,324.0 L105.3,324.6 L103.8,325.3 L102.3,325.9 L100.9,326.6 L99.5,327.2 L98.0,327.8 L96.6,328.4 L95.3,329.0 L93.9,329.6 L92.5,330.2 L91.2,330.8 L89.9,331.3 L88.6,331.9 L87.3,332.5 L86.1,333.0 L84.8,333.5 L83.6,334.1 L82.4,334.6 L81.2,335.1 L80.0,335.6 L78.8,336.2 L77.7,336.7 L76.5,337.1 L75.4,337.6 L74.3,338.1 L73.3,338.6 L72.2,339.0 L71.1,339.5 L70.1,339.9 L69.1,340.4 L68.1,340.8 L67.1,341.2 L66.2,341.7 L65.2,342.1 L64.3,342.5 L63.4,342.9 L62.5,343.3 L61.6,343.6 L60.7,344.0 L59.9,344.4 L59.1,344.8 L58.2,345.1 L57.4,345.5 L56.7,345.8 L55.9,346.1 L55.2,346.4 L54.4,346.8 L53.7,347.1 L53.0,347.4 L52.3,347.7 L51.7,348.0 L51.0,348.2 L50.4,348.5 L49.8,348.8 L49.2,349.0 L48.6,349.3 L48.1,349.5 L47.5,349.8 L47.0,350.0 L46.5,350.2 L46.0,350.4 L45.5,350.6 L45.1,350.8 L44.6,351.0 L44.2,351.2 L43.8,351.4 L43.4,351.6 L43.0,351.7 L42.6,351.9 L42.3,352.0 L42.0,352.2 L41.7,352.3 L41.4,352.4 L41.1,352.6 L40.8,352.7 L40.6,352.8 L40.4,352.9 L40.2,353.0 L40.0,353.1 L39.8,353.1 L39.6,353.2 L39.5,353.3 L39.4,353.3 L39.3,353.4 L39.2,353.4 L39.1,353.4 L39.0,353.5 L39.0,353.5 L39.0,353.5 L39.0,353.5Z" fill="#c7b7d6"/>
<path d="M39.0,353.5 L39.0,353.5 L39.0,353.5 L39.0,353.5 L39.1,353.4 L39.2,353.4 L39.3,353.4 L39.4,353.3 L39.5,353.3 L39.6,353.2 L39.8,353.1 L40.0,353.1 L40.2,353.0 L40.4,352.9 L40.6,352.8 L40.8,352.7 L41.1,352.6 L41.4,352.4 L41.7,352.3 L42.0,352.2 L42.3,352.0 L42.6,351.9 L43.0,351.7 L43.4,351.6 L43.8,351.4 L44.2,351.2 L44.6,351.0 L45.1,350.8 L45.5,350.6 L46.0,350.4 L46.5,350.2 L47.0,350.0 L47.5,349.8 L48.1,349.5 L48.6,349.3 L49.2,349.0 L49.8,348.8 L50.4,348.5 L51.0,348.2 L51.7,348.0 L52.3,347.7 L53.0,347.4 L53.7,347.1 L54.4,346.8 L55.2,346.4 L55.9,346.1 L56.7,345.8 L57.4,345.5 L58.2,345.1 L59.1,344.8 L59.9,344.4 L60.7,344.0 L61.6,343.6 L62.5,343.3 L63.4,342.9 L64.3,342.5 L65.2,342.1 L66.2,341.7 L67.1,341.2 L68.1,340.8 L69.1,340.4 L70.1,339.9 L71.1,339.5 L72.2,339.0 L73.3,338.6 L74.3,338.1 L75.4,337.6 L76.5,337.1 L77.7,336.7 L78.8,336.2 L80.0,335.6 L81.2,335.1 L82.4,334.6 L83.6,334.1 L84.8,333.5 L86.1,333.0 L87.3,332.5 L88.6,331.9 L89.9,331.3 L91.2,330.8 L92.5,330.2 L93.9,329.6 L95.3,329.0 L96.6,328.4 L98.0,327.8 L99.5,327.2 L100.9,326.6 L102.3,325.9 L103.8,325.3 L105.3,324.6 L106.8,324.0 L108.3,323.3 L109.8,322.7 L111.4,322.0 L112.9,321.3 L114.5,320.6 L116.1,319.9 L117.7,319.2 L119.4,318.5 L121.0,317.8 L122.7,317.1 L124.4,316.3 L126.1,315.6 L127.8,314.8 L129.5,314.1 L131.3,313.3 L133.0,312.6 L134.8,311.8 L136.6,311.0 L138.4,310.2 L140.3,309.4 L142.1,308.6 L144.0,307.8 L145.9,307.0 L147.8,306.1 L149.7,305.3 L151.6,304.5 L153.6,303.6 L155.6,302.8 L157.5,301.9 L159.5,301.0 L161.6,300.2 L163.6,299.3 L165.6,298.4 L167.7,297.5 L169.8,296.6 L171.9,295.7 L174.0,294.7 L176.2,293.8 L178.3,292.9 L180.5,291.9 L182.7,291.0 L184.9,290.0 L187.1,289.0 L189.3,288.1 L191.6,287.1 L193.8,286.1 L196.1,285.1 L198.4,284.1 L200.8,283.1 L200.8,311.3 L198.4,312.1 L196.1,312.9 L193.8,313.7 L191.6,314.5 L189.3,315.3 L187.1,316.1 L184.9,316.8 L182.7,317.6 L180.5,318.3 L178.3,319.1 L176.2,319.8 L174.0,320.5 L171.9,321.3 L169.8,322.0 L167.7,322.7 L165.6,323.4 L163.6,324.1 L161.6,324.7 L159.5,325.4 L157.5,326.1 L155.6,326.8 L153.6,327.4 L151.6,328.1 L149.7,328.7 L147.8,329.3 L145.9,329.9 L144.0,330.6 L142.1,331.2 L140.3,331.8 L138.4,332.4 L136.6,333.0 L134.8,333.5 L133.0,334.1 L131.3,334.7 L129.5,335.2 L127.8,335.8 L126.1,336.3 L124.4,336.9 L122.7,337.4 L121.0,337.9 L119.4,338.4 L117.7,338.9 L116.1,339.4 L114.5,339.9 L112.9,340.4 L111.4,340.9 L109.8,341.4 L108.3,341.8 L106.8,342.3 L105.3,342.8 L103.8,343.2 L102.3,343.6 L100.9,344.1 L99.5,344.5 L98.0,344.9 L96.6,345.3 L95.3,345.7 L93.9,346.1 L92.5,346.5 L91.2,346.9 L89.9,347.2 L88.6,347.6 L87.3,347.9 L86.1,348.3 L84.8,348.6 L83.6,348.9 L82.4,349.3 L81.2,349.6 L80.0,349.9 L78.8,350.2 L77.7,350.5 L76.5,350.8 L75.4,351.1 L74.3,351.4 L73.3,351.6 L72.2,351.9 L71.1,352.1 L70.1,352.4 L69.1,352.6 L68.1,352.9 L67.1,353.1 L66.2,353.3 L65.2,353.5 L64.3,353.7 L63.4,353.9 L62.5,354.1 L61.6,354.3 L60.7,354.4 L59.9,354.6 L59.1,354.8 L58.2,354.9 L57.4,355.1 L56.7,355.2 L55.9,355.3 L55.2,355.4 L54.4,355.6 L53.7,355.7 L53.0,355.8 L52.3,355.8 L51.7,355.9 L51.0,356.0 L50.4,356.0 L49.8,356.0 L49.2,356.0 L48.6,356.0 L48.1,356.0 L47.5,356.0 L47.0,356.0 L46.5,356.0 L46.0,356.0 L45.5,356.0 L45.1,356.0 L44.6,356.0 L44.2,356.0 L43.8,356.0 L43.4,356.0 L43.0,356.0 L42.6,356.0 L42.3,356.0 L42.0,356.0 L41.7,356.0 L41.4,356.0 L41.1,355.9 L40.8,355.8 L40.6,355.7 L40.4,355.6 L40.2,355.5 L40.0,355.4 L39.8,355.3 L39.6,355.1 L39.5,355.0 L39.4,354.8 L39.3,354.7 L39.2,354.5 L39.1,354.3 L39.0,354.2 L39.0,354.0 L39.0,353.8 L39.0,353.6Z" fill="#ebd8e4"/>
<path d="M39.0,353.6 L39.0,353.4 L39.0,353.2 L39.0,352.9 L39.1,352.7 L39.2,352.5 L39.3,352.2 L39.4,351.9 L39.5,351.7 L39.6,351.4 L39.8,351.1 L40.0,350.8 L40.2,350.6 L40.4,350.3 L40.6,349.9 L40.8,349.6 L41.1,349.3 L41.4,349.0 L41.7,348.6 L42.0,348.3 L42.3,347.9 L42.6,347.6 L43.0,347.2 L43.4,346.9 L43.8,346.5 L44.2,346.1 L44.6,345.7 L45.1,345.3 L45.5,344.9 L46.0,344.5 L46.5,344.0 L47.0,343.6 L47.5,343.2 L48.1,342.7 L48.6,342.3 L49.2,341.8 L49.8,341.3 L50.4,340.9 L51.0,340.4 L51.7,339.9 L52.3,339.4 L53.0,338.9 L53.7,338.4 L54.4,337.9 L55.2,337.3 L55.9,336.8 L56.7,336.3 L57.4,335.7 L58.2,335.1 L59.1,334.6 L59.9,334.0 L60.7,333.4 L61.6,332.9 L62.5,332.3 L63.4,331.7 L64.3,331.1 L65.2,330.5 L66.2,329.9 L67.1,329.2 L68.1,328.6 L69.1,328.0 L70.1,327.3 L71.1,326.7 L72.2,326.0 L73.3,325.3 L74.3,324.7 L75.4,324.0 L76.5,323.3 L77.7,322.6 L78.8,321.9 L80.0,321.2 L81.2,320.5 L82.4,319.8 L83.6,319.0 L84.8,318.3 L86.1,317.5 L87.3,316.8 L88.6,316.0 L89.9,315.3 L91.2,314.5 L92.5,313.7 L93.9,312.9 L95.3,312.2 L96.6,311.4 L98.0,310.5 L99.5,309.7 L100.9,308.9 L102.3,308.1 L103.8,307.2 L105.3,306.4 L106.8,305.6 L108.3,304.7 L109.8,303.8 L111.4,303.0 L112.9,302.1 L114.5,301.2 L116.1,300.3 L117.7,299.4 L119.4,298.5 L121.0,297.6 L122.7,296.7 L124.4,295.8 L126.1,294.8 L127.8,293.9 L129.5,293.0 L131.3,292.0 L133.0,291.1 L134.8,290.1 L136.6,289.1 L138.4,288.1 L140.3,287.2 L142.1,286.2 L144.0,285.2 L145.9,284.2 L147.8,283.1 L149.7,282.1 L151.6,281.1 L153.6,280.1 L155.6,279.0 L157.5,278.0 L159.5,276.9 L161.6,275.9 L163.6,274.8 L165.6,273.7 L167.7,272.6 L169.8,271.5 L171.9,270.4 L174.0,269.3 L176.2,268.2 L178.3,267.1 L180.5,266.0 L182.7,264.9 L184.9,263.7 L187.1,262.6 L189.3,261.4 L191.6,260.3 L193.8,259.1 L196.1,257.9 L198.4,256.8 L200.8,255.6" fill="none" stroke="#5e3e80" stroke-width="0.7"/>
<path d="M39.0,353.6 L39.0,353.8 L39.0,354.0 L39.0,354.2 L39.1,354.3 L39.2,354.5 L39.3,354.7 L39.4,354.8 L39.5,355.0 L39.6,355.1 L39.8,355.3 L40.0,355.4 L40.2,355.5 L40.4,355.6 L40.6,355.7 L40.8,355.8 L41.1,355.9 L41.4,356.0 L41.7,356.0 L42.0,356.0 L42.3,356.0 L42.6,356.0 L43.0,356.0 L43.4,356.0 L43.8,356.0 L44.2,356.0 L44.6,356.0 L45.1,356.0 L45.5,356.0 L46.0,356.0 L46.5,356.0 L47.0,356.0 L47.5,356.0 L48.1,356.0 L48.6,356.0 L49.2,356.0 L49.8,356.0 L50.4,356.0 L51.0,356.0 L51.7,355.9 L52.3,355.8 L53.0,355.8 L53.7,355.7 L54.4,355.6 L55.2,355.4 L55.9,355.3 L56.7,355.2 L57.4,355.1 L58.2,354.9 L59.1,354.8 L59.9,354.6 L60.7,354.4 L61.6,354.3 L62.5,354.1 L63.4,353.9 L64.3,353.7 L65.2,353.5 L66.2,353.3 L67.1,353.1 L68.1,352.9 L69.1,352.6 L70.1,352.4 L71.1,352.1 L72.2,351.9 L73.3,351.6 L74.3,351.4 L75.4,351.1 L76.5,350.8 L77.7,350.5 L78.8,350.2 L80.0,349.9 L81.2,349.6 L82.4,349.3 L83.6,348.9 L84.8,348.6 L86.1,348.3 L87.3,347.9 L88.6,347.6 L89.9,347.2 L91.2,346.9 L92.5,346.5 L93.9,346.1 L95.3,345.7 L96.6,345.3 L98.0,344.9 L99.5,344.5 L100.9,344.1 L102.3,343.6 L103.8,343.2 L105.3,342.8 L106.8,342.3 L108.3,341.8 L109.8,341.4 L111.4,340.9 L112.9,340.4 L114.5,339.9 L116.1,339.4 L117.7,338.9 L119.4,338.4 L121.0,337.9 L122.7,337.4 L124.4,336.9 L126.1,336.3 L127.8,335.8 L129.5,335.2 L131.3,334.7 L133.0,334.1 L134.8,333.5 L136.6,333.0 L138.4,332.4 L140.3,331.8 L142.1,331.2 L144.0,330.6 L145.9,329.9 L147.8,329.3 L149.7,328.7 L151.6,328.1 L153.6,327.4 L155.6,326.8 L157.5,326.1 L159.5,325.4 L161.6,324.7 L163.6,324.1 L165.6,323.4 L167.7,322.7 L169.8,322.0 L171.9,321.3 L174.0,320.5 L176.2,319.8 L178.3,319.1 L180.5,318.3 L182.7,317.6 L184.9,316.8 L187.1,316.1 L189.3,315.3 L191.6,314.5 L193.8,313.7 L196.1,312.9 L198.4,312.1 L200.8,311.3" fill="none" stroke="#8a7a2a" stroke-width="0.7"/>
<path d="M39.0,353.5 L39.0,353.5 L39.0,353.5 L39.0,353.5 L39.1,353.4 L39.2,353.4 L39.3,353.4 L39.4,353.3 L39.5,353.3 L39.6,353.2 L39.8,353.1 L40.0,353.1 L40.2,353.0 L40.4,352.9 L40.6,352.8 L40.8,352.7 L41.1,352.6 L41.4,352.4 L41.7,352.3 L42.0,352.2 L42.3,352.0 L42.6,351.9 L43.0,351.7 L43.4,351.6 L43.8,351.4 L44.2,351.2 L44.6,351.0 L45.1,350.8 L45.5,350.6 L46.0,350.4 L46.5,350.2 L47.0,350.0 L47.5,349.8 L48.1,349.5 L48.6,349.3 L49.2,349.0 L49.8,348.8 L50.4,348.5 L51.0,348.2 L51.7,348.0 L52.3,347.7 L53.0,347.4 L53.7,347.1 L54.4,346.8 L55.2,346.4 L55.9,346.1 L56.7,345.8 L57.4,345.5 L58.2,345.1 L59.1,344.8 L59.9,344.4 L60.7,344.0 L61.6,343.6 L62.5,343.3 L63.4,342.9 L64.3,342.5 L65.2,342.1 L66.2,341.7 L67.1,341.2 L68.1,340.8 L69.1,340.4 L70.1,339.9 L71.1,339.5 L72.2,339.0 L73.3,338.6 L74.3,338.1 L75.4,337.6 L76.5,337.1 L77.7,336.7 L78.8,336.2 L80.0,335.6 L81.2,335.1 L82.4,334.6 L83.6,334.1 L84.8,333.5 L86.1,333.0 L87.3,332.5 L88.6,331.9 L89.9,331.3 L91.2,330.8 L92.5,330.2 L93.9,329.6 L95.3,329.0 L96.6,328.4 L98.0,327.8 L99.5,327.2 L100.9,326.6 L102.3,325.9 L103.8,325.3 L105.3,324.6 L106.8,324.0 L108.3,323.3 L109.8,322.7 L111.4,322.0 L112.9,321.3 L114.5,320.6 L116.1,319.9 L117.7,319.2 L119.4,318.5 L121.0,317.8 L122.7,317.1 L124.4,316.3 L126.1,315.6 L127.8,314.8 L129.5,314.1 L131.3,313.3 L133.0,312.6 L134.8,311.8 L136.6,311.0 L138.4,310.2 L140.3,309.4 L142.1,308.6 L144.0,307.8 L145.9,307.0 L147.8,306.1 L149.7,305.3 L151.6,304.5 L153.6,303.6 L155.6,302.8 L157.5,301.9 L159.5,301.0 L161.6,300.2 L163.6,299.3 L165.6,298.4 L167.7,297.5 L169.8,296.6 L171.9,295.7 L174.0,294.7 L176.2,293.8 L178.3,292.9 L180.5,291.9 L182.7,291.0 L184.9,290.0 L187.1,289.0 L189.3,288.1 L191.6,287.1 L193.8,286.1 L196.1,285.1 L198.4,284.1 L200.8,283.1" fill="none" stroke="#3030a0" stroke-width="0.7"/>
<path d="M39.0,353.5 L39.0,353.5 L39.0,353.5 L39.0,353.5 L39.1,353.4 L39.2,353.4 L39.3,353.4 L39.4,353.3 L39.5,353.3 L39.6,353.2 L39.8,353.1 L40.0,353.1 L40.2,353.0 L40.4,352.9 L40.6,352.8 L40.8,352.7 L41.1,352.6 L41.4,352.4 L41.7,352.3 L42.0,352.2 L42.3,352.0 L42.6,351.9 L43.0,351.7 L43.4,351.6 L43.8,351.4 L44.2,351.2 L44.6,351.0 L45.1,350.8 L45.5,350.6 L46.0,350.4 L46.5,350.2 L47.0,350.0 L47.5,349.8 L48.1,349.5 L48.6,349.3 L49.2,349.0 L49.8,348.8 L50.4,348.5 L51.0,348.2 L51.7,348.0 L52.3,347.7 L53.0,347.4 L53.7,347.1 L54.4,346.8 L55.2,346.4 L55.9,346.1 L56.7,345.8 L57.4,345.5 L58.2,345.1 L59.1,344.8 L59.9,344.4 L60.7,344.0 L61.6,343.6 L62.5,343.3 L63.4,342.9 L64.3,342.5 L65.2,342.1 L66.2,341.7 L67.1,341.2 L68.1,340.8 L69.1,340.4 L70.1,339.9 L71.1,339.5 L72.2,339.0 L73.3,338.6 L74.3,338.1 L75.4,337.6 L76.5,337.1 L77.7,336.7 L78.8,336.2 L80.0,335.6 L81.2,335.1 L82.4,334.6 L83.6,334.1 L84.8,333.5 L86.1,333.0 L87.3,332.5 L88.6,331.9 L89.9,331.3 L91.2,330.8 L92.5,330.2 L93.9,329.6 L95.3,329.0 L96.6,328.4 L98.0,327.8 L99.5,327.2 L100.9,326.6 L102.3,325.9 L103.8,325.3 L105.3,324.6 L106.8,324.0 L108.3,323.3 L109.8,322.7 L111.4,322.0 L112.9,321.3 L114.5,320.6 L116.1,319.9 L117.7,319.2 L119.4,318.5 L121.0,317.8 L122.7,317.1 L124.4,316.3 L126.1,315.6 L127.8,314.8 L129.5,314.1 L131.3,313.3 L133.0,312.6 L134.8,311.8 L136.6,311.0 L138.4,310.2 L140.3,309.4 L142.1,308.6 L144.0,307.8 L145.9,307.0 L147.8,306.1 L149.7,305.3 L151.6,304.5 L153.6,303.6 L155.6,302.8 L157.5,301.9 L159.5,301.0 L161.6,300.2 L163.6,299.3 L165.6,298.4 L167.7,297.5 L169.8,296.6 L171.9,295.7 L174.0,294.7 L176.2,293.8 L178.3,292.9 L180.5,291.9 L182.7,291.0 L184.9,290.0 L187.1,289.0 L189.3,288.1 L191.6,287.1 L193.8,286.1 L196.1,285.1 L198.4,284.1 L200.8,283.1" fill="none" stroke="#000" stroke-width="1.8" stroke-linejoin="round"/>
<path d="M39.0,353.6 L39.0,353.4 L39.0,353.2 L39.0,352.9 L39.1,352.7 L39.2,352.5 L39.3,352.2 L39.4,351.9 L39.5,351.7 L39.6,351.4 L39.8,351.1 L40.0,350.8 L40.2,350.6 L40.4,350.3 L40.6,349.9 L40.8,349.6 L41.1,349.3 L41.4,349.0 L41.7,348.6 L42.0,348.3 L42.3,347.9 L42.6,347.6 L43.0,347.2 L43.4,346.9 L43.8,346.5 L44.2,346.1 L44.6,345.7 L45.1,345.3 L45.5,344.9 L46.0,344.5 L46.5,344.0 L47.0,343.6 L47.5,343.2 L48.1,342.7 L48.6,342.3 L49.2,341.8 L49.8,341.3 L50.4,340.9 L51.0,340.4 L51.7,339.9 L52.3,339.4 L53.0,338.9 L53.7,338.4 L54.4,337.9 L55.2,337.3 L55.9,336.8 L56.7,336.3 L57.4,335.7 L58.2,335.1 L59.1,334.6 L59.9,334.0 L60.7,333.4 L61.6,332.9 L62.5,332.3 L63.4,331.7 L64.3,331.1 L65.2,330.5 L66.2,329.9 L67.1,329.2 L68.1,328.6 L69.1,328.0 L70.1,327.3 L71.1,326.7 L72.2,326.0 L73.3,325.3 L74.3,324.7 L75.4,324.0 L76.5,323.3 L77.7,322.6 L78.8,321.9 L80.0,321.2 L81.2,320.5 L82.4,319.8 L83.6,319.0 L84.8,318.3 L86.1,317.5 L87.3,316.8 L88.6,316.0 L89.9,315.3 L91.2,314.5 L92.5,313.7 L93.9,312.9 L95.3,312.2 L96.6,311.4 L98.0,310.5 L99.5,309.7 L100.9,308.9 L102.3,308.1 L103.8,307.2 L105.3,306.4 L106.8,305.6 L108.3,304.7 L109.8,303.8 L111.4,303.0 L112.9,302.1 L114.5,301.2 L116.1,300.3 L117.7,299.4 L119.4,298.5 L121.0,297.6 L122.7,296.7 L124.4,295.8 L126.1,294.8 L127.8,293.9 L129.5,293.0 L131.3,292.0 L133.0,291.1 L134.8,290.1 L136.6,289.1 L138.4,288.1 L140.3,287.2 L142.1,286.2 L144.0,285.2 L145.9,284.2 L147.8,283.1 L149.7,282.1 L151.6,281.1 L153.6,280.1 L155.6,279.0 L157.5,278.0 L159.5,276.9 L161.6,275.9 L163.6,274.8 L165.6,273.7 L167.7,272.6 L169.8,271.5 L171.9,270.4 L174.0,269.3 L176.2,268.2 L178.3,267.1 L180.5,266.0 L182.7,264.9 L184.9,263.7 L187.1,262.6 L189.3,261.4 L191.6,260.3 L193.8,259.1 L196.1,257.9 L198.4,256.8 L200.8,255.6" fill="none" stroke="#e3141e" stroke-width="1.6" stroke-dasharray="3.0,1.1" stroke-linejoin="round"/>
<path d="M39.0,353.6 L39.0,353.8 L39.0,354.0 L39.0,354.2 L39.1,354.3 L39.2,354.5 L39.3,354.7 L39.4,354.8 L39.5,355.0 L39.6,355.1 L39.8,355.3 L40.0,355.4 L40.2,355.5 L40.4,355.6 L40.6,355.7 L40.8,355.8 L41.1,355.9 L41.4,356.0 L41.7,356.1 L42.0,356.1 L42.3,356.2 L42.6,356.2 L43.0,356.2 L43.4,356.3 L43.8,356.3 L44.2,356.3 L44.6,356.3 L45.1,356.3 L45.5,356.4 L46.0,356.4 L46.5,356.4 L47.0,356.4 L47.5,356.4 L48.1,356.3 L48.6,356.3 L49.2,356.2 L49.8,356.2 L50.4,356.1 L51.0,356.0 L51.7,355.9 L52.3,355.8 L53.0,355.8 L53.7,355.7 L54.4,355.6 L55.2,355.4 L55.9,355.3 L56.7,355.2 L57.4,355.1 L58.2,354.9 L59.1,354.8 L59.9,354.6 L60.7,354.4 L61.6,354.3 L62.5,354.1 L63.4,353.9 L64.3,353.7 L65.2,353.5 L66.2,353.3 L67.1,353.1 L68.1,352.9 L69.1,352.6 L70.1,352.4 L71.1,352.1 L72.2,351.9 L73.3,351.6 L74.3,351.4 L75.4,351.1 L76.5,350.8 L77.7,350.5 L78.8,350.2 L80.0,349.9 L81.2,349.6 L82.4,349.3 L83.6,348.9 L84.8,348.6 L86.1,348.3 L87.3,347.9 L88.6,347.6 L89.9,347.2 L91.2,346.9 L92.5,346.5 L93.9,346.1 L95.3,345.7 L96.6,345.3 L98.0,344.9 L99.5,344.5 L100.9,344.1 L102.3,343.6 L103.8,343.2 L105.3,342.8 L106.8,342.3 L108.3,341.8 L109.8,341.4 L111.4,340.9 L112.9,340.4 L114.5,339.9 L116.1,339.4 L117.7,338.9 L119.4,338.4 L121.0,337.9 L122.7,337.4 L124.4,336.9 L126.1,336.3 L127.8,335.8 L129.5,335.2 L131.3,334.7 L133.0,334.1 L134.8,333.5 L136.6,333.0 L138.4,332.4 L140.3,331.8 L142.1,331.2 L144.0,330.6 L145.9,329.9 L147.8,329.3 L149.7,328.7 L151.6,328.1 L153.6,327.4 L155.6,326.8 L157.5,326.1 L159.5,325.4 L161.6,324.7 L163.6,324.1 L165.6,323.4 L167.7,322.7 L169.8,322.0 L171.9,321.3 L174.0,320.5 L176.2,319.8 L178.3,319.1 L180.5,318.3 L182.7,317.6 L184.9,316.8 L187.1,316.1 L189.3,315.3 L191.6,314.5 L193.8,313.7 L196.1,312.9 L198.4,312.1 L200.8,311.3" fill="none" stroke="#e3141e" stroke-width="1.6" stroke-dasharray="3.0,1.1" stroke-linejoin="round"/>
<path d="M38.95,253.50 V356.90" stroke="#606060" stroke-width="1" fill="none"/>
<path d="M36.45,355.40 H203.75" stroke="#3c3c3c" stroke-width="1" fill="none"/>
<path d="M38.95,355.40 v-1.8 M47.04,355.40 v-1.0 M55.13,355.40 v-1.0 M63.22,355.40 v-1.0 M71.31,355.40 v-1.8 M79.40,355.40 v-1.0 M87.49,355.40 v-1.0 M95.58,355.40 v-1.0 M103.67,355.40 v-1.8 M111.76,355.40 v-1.0 M119.85,355.40 v-1.0 M127.94,355.40 v-1.0 M136.03,355.40 v-1.8 M144.12,355.40 v-1.0 M152.21,355.40 v-1.0 M160.30,355.40 v-1.0 M168.39,355.40 v-1.8 M176.48,355.40 v-1.0 M184.57,355.40 v-1.0 M192.66,355.40 v-1.0 M200.75,355.40 v-1.8 M38.95,257.50 h1.8 M38.95,269.00 h1.8 M38.95,279.00 h1.8 M38.95,288.50 h1.8 M38.95,302.50 h1.8 M38.95,314.00 h1.8 M38.95,321.80 h1.8 M38.95,333.00 h1.8" stroke="#222" stroke-width="0.6" fill="none"/>
<text x="71.31" y="362.60" text-anchor="middle" class="tk">2</text>
<text x="103.67" y="362.60" text-anchor="middle" class="tk">4</text>
<text x="136.03" y="362.60" text-anchor="middle" class="tk">6</text>
<text x="168.39" y="362.60" text-anchor="middle" class="tk">8</text>
<text x="200.75" y="362.60" text-anchor="middle" class="tk">10</text>
<text x="36.95" y="260.10" text-anchor="end" class="tk">15.0</text>
<text x="36.95" y="271.60" text-anchor="end" class="tk">10.0</text>
<text x="36.95" y="281.60" text-anchor="end" class="tk">7.0</text>
<text x="36.95" y="291.10" text-anchor="end" class="tk">5.0</text>
<text x="36.95" y="305.10" text-anchor="end" class="tk">3.0</text>
<text x="36.95" y="316.60" text-anchor="end" class="tk">2.0</text>
<text x="36.95" y="324.40" text-anchor="end" class="tk">1.5</text>
<text x="36.95" y="335.60" text-anchor="end" class="tk">1.0</text>
<path d="M235.2,346.2 L235.2,345.6 L235.2,344.9 L235.3,344.2 L235.3,343.4 L235.4,342.7 L235.5,341.9 L235.6,341.0 L235.7,340.2 L235.9,339.3 L236.1,338.5 L236.2,337.6 L236.4,336.6 L236.7,335.7 L236.9,334.7 L237.1,333.6 L237.4,332.6 L237.7,331.5 L238.0,330.4 L238.3,329.2 L238.6,328.1 L239.0,326.9 L239.4,325.7 L239.7,324.5 L240.1,323.3 L240.6,322.0 L241.0,320.8 L241.5,319.5 L241.9,318.1 L242.4,316.8 L242.9,315.5 L243.5,314.1 L244.0,312.7 L244.6,311.4 L245.1,310.0 L245.7,308.7 L246.3,307.4 L247.0,306.1 L247.6,304.9 L248.3,303.6 L248.9,302.3 L249.6,301.0 L250.4,299.7 L251.1,298.3 L251.8,297.0 L252.6,295.8 L253.4,294.5 L254.2,293.2 L255.0,292.0 L255.8,290.7 L256.7,289.5 L257.5,288.2 L258.4,287.0 L259.3,285.8 L260.3,284.6 L261.2,283.5 L262.1,282.5 L263.1,281.5 L264.1,280.4 L265.1,279.1 L266.1,277.7 L267.2,276.6 L268.2,275.5 L269.3,274.6 L270.4,273.7 L271.5,272.8 L272.6,272.0 L273.8,271.2 L274.9,270.5 L276.1,269.7 L277.3,269.0 L278.5,268.3 L279.7,267.6 L281.0,267.0 L282.2,266.3 L283.5,265.7 L284.8,265.1 L286.1,264.6 L287.5,264.2 L288.8,263.9 L290.2,263.6 L291.6,263.3 L293.0,263.1 L294.4,262.8 L295.8,262.5 L297.3,262.1 L298.7,261.7 L300.2,261.5 L301.7,261.2 L303.3,261.1 L304.8,261.0 L306.3,260.6 L307.9,260.3 L309.5,260.0 L311.1,259.7 L312.7,259.3 L314.4,258.7 L316.0,258.3 L317.7,258.0 L319.4,257.9 L321.1,257.9 L322.8,257.6 L324.6,257.2 L326.3,256.7 L328.1,256.4 L329.9,256.3 L331.7,256.4 L333.6,256.3 L335.4,256.3 L337.3,256.4 L339.2,256.6 L341.1,256.7 L343.0,256.2 L344.9,255.8 L346.9,255.7 L348.8,255.6 L350.8,255.7 L352.8,256.1 L354.8,256.6 L356.9,256.3 L358.9,256.2 L361.0,256.3 L363.1,256.3 L365.2,256.3 L367.3,256.4 L369.4,256.3 L371.6,255.8 L373.8,255.4 L376.0,255.1 L378.2,254.8 L380.4,255.2 L382.6,255.0 L384.9,254.6 L387.2,256.1 L389.5,256.2 L391.8,256.1 L394.1,255.9 L396.5,255.6 L398.8,255.3 L401.2,255.1 L401.2,285.8 L398.8,285.8 L396.5,285.9 L394.1,285.9 L391.8,285.9 L389.5,286.0 L387.2,286.0 L384.9,286.1 L382.6,286.1 L380.4,286.2 L378.2,286.2 L376.0,286.3 L373.8,286.3 L371.6,286.4 L369.4,286.5 L367.3,286.6 L365.2,286.7 L363.1,286.7 L361.0,286.8 L358.9,287.0 L356.9,287.1 L354.8,287.2 L352.8,287.3 L350.8,287.4 L348.8,287.6 L346.9,287.7 L344.9,287.9 L343.0,288.0 L341.1,288.2 L339.2,288.4 L337.3,288.6 L335.4,288.8 L333.6,289.1 L331.7,289.3 L329.9,289.6 L328.1,289.9 L326.3,290.2 L324.6,290.4 L322.8,290.8 L321.1,291.1 L319.4,291.4 L317.7,291.7 L316.0,292.1 L314.4,292.4 L312.7,292.8 L311.1,293.2 L309.5,293.6 L307.9,294.0 L306.3,294.4 L304.8,294.8 L303.3,295.3 L301.7,295.7 L300.2,296.1 L298.7,296.6 L297.3,297.1 L295.8,297.5 L294.4,298.0 L293.0,298.5 L291.6,299.0 L290.2,299.5 L288.8,300.0 L287.5,300.6 L286.1,301.1 L284.8,301.6 L283.5,302.2 L282.2,302.8 L281.0,303.3 L279.7,303.9 L278.5,304.5 L277.3,305.1 L276.1,305.8 L274.9,306.4 L273.8,307.0 L272.6,307.6 L271.5,308.3 L270.4,308.9 L269.3,309.6 L268.2,310.2 L267.2,310.9 L266.1,311.5 L265.1,312.2 L264.1,312.9 L263.1,313.5 L262.1,314.2 L261.2,314.8 L260.3,315.5 L259.3,316.1 L258.4,316.8 L257.5,317.4 L256.7,318.1 L255.8,318.7 L255.0,319.4 L254.2,320.0 L253.4,320.7 L252.6,321.3 L251.8,322.0 L251.1,322.6 L250.4,323.3 L249.6,323.9 L248.9,324.6 L248.3,325.3 L247.6,325.9 L247.0,326.6 L246.3,327.3 L245.7,328.0 L245.1,328.6 L244.6,329.3 L244.0,330.0 L243.5,330.7 L242.9,331.4 L242.4,332.1 L241.9,332.7 L241.5,333.4 L241.0,334.1 L240.6,334.8 L240.1,335.4 L239.7,336.1 L239.4,336.8 L239.0,337.4 L238.6,338.1 L238.3,338.6 L238.0,339.2 L237.7,339.7 L237.4,340.2 L237.1,340.6 L236.9,341.1 L236.7,341.4 L236.4,341.8 L236.2,342.2 L236.1,342.5 L235.9,342.8 L235.7,343.2 L235.6,343.5 L235.5,343.8 L235.4,344.0 L235.3,344.3 L235.3,344.6 L235.2,344.8 L235.2,345.0 L235.2,345.2Z" fill="#c7b7d6"/>
<path d="M235.2,345.2 L235.2,345.0 L235.2,344.8 L235.3,344.6 L235.3,344.3 L235.4,344.0 L235.5,343.8 L235.6,343.5 L235.7,343.2 L235.9,342.8 L236.1,342.5 L236.2,342.2 L236.4,341.8 L236.7,341.4 L236.9,341.1 L237.1,340.6 L237.4,340.2 L237.7,339.7 L238.0,339.2 L238.3,338.6 L238.6,338.1 L239.0,337.4 L239.4,336.8 L239.7,336.1 L240.1,335.4 L240.6,334.8 L241.0,334.1 L241.5,333.4 L241.9,332.7 L242.4,332.1 L242.9,331.4 L243.5,330.7 L244.0,330.0 L244.6,329.3 L245.1,328.6 L245.7,328.0 L246.3,327.3 L247.0,326.6 L247.6,325.9 L248.3,325.3 L248.9,324.6 L249.6,323.9 L250.4,323.3 L251.1,322.6 L251.8,322.0 L252.6,321.3 L253.4,320.7 L254.2,320.0 L255.0,319.4 L255.8,318.7 L256.7,318.1 L257.5,317.4 L258.4,316.8 L259.3,316.1 L260.3,315.5 L261.2,314.8 L262.1,314.2 L263.1,313.5 L264.1,312.9 L265.1,312.2 L266.1,311.5 L267.2,310.9 L268.2,310.2 L269.3,309.6 L270.4,308.9 L271.5,308.3 L272.6,307.6 L273.8,307.0 L274.9,306.4 L276.1,305.8 L277.3,305.1 L278.5,304.5 L279.7,303.9 L281.0,303.3 L282.2,302.8 L283.5,302.2 L284.8,301.6 L286.1,301.1 L287.5,300.6 L288.8,300.0 L290.2,299.5 L291.6,299.0 L293.0,298.5 L294.4,298.0 L295.8,297.5 L297.3,297.1 L298.7,296.6 L300.2,296.1 L301.7,295.7 L303.3,295.3 L304.8,294.8 L306.3,294.4 L307.9,294.0 L309.5,293.6 L311.1,293.2 L312.7,292.8 L314.4,292.4 L316.0,292.1 L317.7,291.7 L319.4,291.4 L321.1,291.1 L322.8,290.8 L324.6,290.4 L326.3,290.2 L328.1,289.9 L329.9,289.6 L331.7,289.3 L333.6,289.1 L335.4,288.8 L337.3,288.6 L339.2,288.4 L341.1,288.2 L343.0,288.0 L344.9,287.9 L346.9,287.7 L348.8,287.6 L350.8,287.4 L352.8,287.3 L354.8,287.2 L356.9,287.1 L358.9,287.0 L361.0,286.8 L363.1,286.7 L365.2,286.7 L367.3,286.6 L369.4,286.5 L371.6,286.4 L373.8,286.3 L376.0,286.3 L378.2,286.2 L380.4,286.2 L382.6,286.1 L384.9,286.1 L387.2,286.0 L389.5,286.0 L391.8,285.9 L394.1,285.9 L396.5,285.9 L398.8,285.8 L401.2,285.8 L401.2,319.6 L398.8,319.9 L396.5,319.9 L394.1,319.9 L391.8,320.1 L389.5,320.1 L387.2,320.0 L384.9,320.2 L382.6,320.6 L380.4,320.7 L378.2,320.2 L376.0,320.0 L373.8,319.5 L371.6,319.2 L369.4,318.2 L367.3,317.4 L365.2,317.3 L363.1,317.1 L361.0,316.9 L358.9,317.1 L356.9,317.7 L354.8,318.5 L352.8,318.9 L350.8,319.3 L348.8,319.6 L346.9,319.8 L344.9,319.8 L343.0,319.9 L341.1,320.1 L339.2,320.6 L337.3,320.9 L335.4,320.9 L333.6,320.8 L331.7,320.8 L329.9,321.5 L328.1,322.2 L326.3,322.3 L324.6,322.3 L322.8,322.3 L321.1,322.4 L319.4,323.0 L317.7,323.3 L316.0,323.5 L314.4,323.6 L312.7,323.7 L311.1,323.9 L309.5,324.7 L307.9,325.7 L306.3,326.6 L304.8,327.4 L303.3,327.8 L301.7,328.2 L300.2,328.9 L298.7,329.6 L297.3,330.3 L295.8,330.8 L294.4,331.4 L293.0,331.9 L291.6,332.3 L290.2,332.4 L288.8,332.5 L287.5,332.8 L286.1,333.2 L284.8,333.6 L283.5,334.1 L282.2,334.5 L281.0,334.8 L279.7,335.1 L278.5,335.4 L277.3,335.8 L276.1,336.3 L274.9,336.7 L273.8,337.1 L272.6,337.6 L271.5,338.1 L270.4,338.7 L269.3,339.4 L268.2,340.0 L267.2,340.7 L266.1,341.5 L265.1,342.5 L264.1,343.5 L263.1,344.4 L262.1,345.4 L261.2,346.1 L260.3,346.8 L259.3,347.4 L258.4,348.0 L257.5,348.5 L256.7,349.0 L255.8,349.6 L255.0,350.1 L254.2,350.7 L253.4,351.2 L252.6,351.7 L251.8,352.2 L251.1,352.6 L250.4,353.0 L249.6,353.4 L248.9,353.8 L248.3,354.1 L247.6,354.5 L247.0,354.7 L246.3,354.9 L245.7,355.0 L245.1,355.0 L244.6,355.1 L244.0,355.1 L243.5,355.1 L242.9,355.2 L242.4,355.2 L241.9,355.2 L241.5,355.2 L241.0,355.2 L240.6,355.1 L240.1,355.0 L239.7,354.8 L239.4,354.6 L239.0,354.4 L238.6,354.2 L238.3,354.0 L238.0,353.7 L237.7,353.5 L237.4,353.2 L237.1,352.9 L236.9,352.6 L236.7,352.2 L236.4,351.8 L236.2,351.4 L236.1,350.9 L235.9,350.5 L235.7,350.0 L235.6,349.5 L235.5,349.0 L235.4,348.4 L235.3,347.9 L235.3,347.2 L235.2,346.6 L235.2,345.9 L235.2,345.2Z" fill="#ebd8e4"/>
<path d="M235.2,346.2 L235.2,345.6 L235.2,344.9 L235.3,344.2 L235.3,343.4 L235.4,342.7 L235.5,341.9 L235.6,341.0 L235.7,340.2 L235.9,339.3 L236.1,338.5 L236.2,337.6 L236.4,336.6 L236.7,335.7 L236.9,334.7 L237.1,333.6 L237.4,332.6 L237.7,331.5 L238.0,330.4 L238.3,329.2 L238.6,328.1 L239.0,326.9 L239.4,325.7 L239.7,324.5 L240.1,323.3 L240.6,322.0 L241.0,320.8 L241.5,319.5 L241.9,318.1 L242.4,316.8 L242.9,315.5 L243.5,314.1 L244.0,312.7 L244.6,311.4 L245.1,310.0 L245.7,308.7 L246.3,307.4 L247.0,306.1 L247.6,304.9 L248.3,303.6 L248.9,302.3 L249.6,301.0 L250.4,299.7 L251.1,298.3 L251.8,297.0 L252.6,295.8 L253.4,294.5 L254.2,293.2 L255.0,292.0 L255.8,290.7 L256.7,289.5 L257.5,288.2 L258.4,287.0 L259.3,285.8 L260.3,284.6 L261.2,283.5 L262.1,282.5 L263.1,281.5 L264.1,280.4 L265.1,279.1 L266.1,277.7 L267.2,276.6 L268.2,275.5 L269.3,274.6 L270.4,273.7 L271.5,272.8 L272.6,272.0 L273.8,271.2 L274.9,270.5 L276.1,269.7 L277.3,269.0 L278.5,268.3 L279.7,267.6 L281.0,267.0 L282.2,266.3 L283.5,265.7 L284.8,265.1 L286.1,264.6 L287.5,264.2 L288.8,263.9 L290.2,263.6 L291.6,263.3 L293.0,263.1 L294.4,262.8 L295.8,262.5 L297.3,262.1 L298.7,261.7 L300.2,261.5 L301.7,261.2 L303.3,261.1 L304.8,261.0 L306.3,260.6 L307.9,260.3 L309.5,260.0 L311.1,259.7 L312.7,259.3 L314.4,258.7 L316.0,258.3 L317.7,258.0 L319.4,257.9 L321.1,257.9 L322.8,257.6 L324.6,257.2 L326.3,256.7 L328.1,256.4 L329.9,256.3 L331.7,256.4 L333.6,256.3 L335.4,256.3 L337.3,256.4 L339.2,256.6 L341.1,256.7 L343.0,256.2 L344.9,255.8 L346.9,255.7 L348.8,255.6 L350.8,255.7 L352.8,256.1 L354.8,256.6 L356.9,256.3 L358.9,256.2 L361.0,256.3 L363.1,256.3 L365.2,256.3 L367.3,256.4 L369.4,256.3 L371.6,255.8 L373.8,255.4 L376.0,255.1 L378.2,254.8 L380.4,255.2 L382.6,255.0 L384.9,254.6 L387.2,256.1 L389.5,256.2 L391.8,256.1 L394.1,255.9 L396.5,255.6 L398.8,255.3 L401.2,255.1" fill="none" stroke="#5e3e80" stroke-width="0.7"/>
<path d="M235.2,345.2 L235.2,345.9 L235.2,346.6 L235.3,347.2 L235.3,347.9 L235.4,348.4 L235.5,349.0 L235.6,349.5 L235.7,350.0 L235.9,350.5 L236.1,350.9 L236.2,351.4 L236.4,351.8 L236.7,352.2 L236.9,352.6 L237.1,352.9 L237.4,353.2 L237.7,353.5 L238.0,353.7 L238.3,354.0 L238.6,354.2 L239.0,354.4 L239.4,354.6 L239.7,354.8 L240.1,355.0 L240.6,355.1 L241.0,355.2 L241.5,355.2 L241.9,355.2 L242.4,355.2 L242.9,355.2 L243.5,355.1 L244.0,355.1 L244.6,355.1 L245.1,355.0 L245.7,355.0 L246.3,354.9 L247.0,354.7 L247.6,354.5 L248.3,354.1 L248.9,353.8 L249.6,353.4 L250.4,353.0 L251.1,352.6 L251.8,352.2 L252.6,351.7 L253.4,351.2 L254.2,350.7 L255.0,350.1 L255.8,349.6 L256.7,349.0 L257.5,348.5 L258.4,348.0 L259.3,347.4 L260.3,346.8 L261.2,346.1 L262.1,345.4 L263.1,344.4 L264.1,343.5 L265.1,342.5 L266.1,341.5 L267.2,340.7 L268.2,340.0 L269.3,339.4 L270.4,338.7 L271.5,338.1 L272.6,337.6 L273.8,337.1 L274.9,336.7 L276.1,336.3 L277.3,335.8 L278.5,335.4 L279.7,335.1 L281.0,334.8 L282.2,334.5 L283.5,334.1 L284.8,333.6 L286.1,333.2 L287.5,332.8 L288.8,332.5 L290.2,332.4 L291.6,332.3 L293.0,331.9 L294.4,331.4 L295.8,330.8 L297.3,330.3 L298.7,329.6 L300.2,328.9 L301.7,328.2 L303.3,327.8 L304.8,327.4 L306.3,326.6 L307.9,325.7 L309.5,324.7 L311.1,323.9 L312.7,323.7 L314.4,323.6 L316.0,323.5 L317.7,323.3 L319.4,323.0 L321.1,322.4 L322.8,322.3 L324.6,322.3 L326.3,322.3 L328.1,322.2 L329.9,321.5 L331.7,320.8 L333.6,320.8 L335.4,320.9 L337.3,320.9 L339.2,320.6 L341.1,320.1 L343.0,319.9 L344.9,319.8 L346.9,319.8 L348.8,319.6 L350.8,319.3 L352.8,318.9 L354.8,318.5 L356.9,317.7 L358.9,317.1 L361.0,316.9 L363.1,317.1 L365.2,317.3 L367.3,317.4 L369.4,318.2 L371.6,319.2 L373.8,319.5 L376.0,320.0 L378.2,320.2 L380.4,320.7 L382.6,320.6 L384.9,320.2 L387.2,320.0 L389.5,320.1 L391.8,320.1 L394.1,319.9 L396.5,319.9 L398.8,319.9 L401.2,319.6" fill="none" stroke="#8a7a2a" stroke-width="0.7"/>
<path d="M235.2,345.2 L235.2,345.0 L235.2,344.8 L235.3,344.6 L235.3,344.3 L235.4,344.0 L235.5,343.8 L235.6,343.5 L235.7,343.2 L235.9,342.8 L236.1,342.5 L236.2,342.2 L236.4,341.8 L236.7,341.4 L236.9,341.1 L237.1,340.6 L237.4,340.2 L237.7,339.7 L238.0,339.2 L238.3,338.6 L238.6,338.1 L239.0,337.4 L239.4,336.8 L239.7,336.1 L240.1,335.4 L240.6,334.8 L241.0,334.1 L241.5,333.4 L241.9,332.7 L242.4,332.1 L242.9,331.4 L243.5,330.7 L244.0,330.0 L244.6,329.3 L245.1,328.6 L245.7,328.0 L246.3,327.3 L247.0,326.6 L247.6,325.9 L248.3,325.3 L248.9,324.6 L249.6,323.9 L250.4,323.3 L251.1,322.6 L251.8,322.0 L252.6,321.3 L253.4,320.7 L254.2,320.0 L255.0,319.4 L255.8,318.7 L256.7,318.1 L257.5,317.4 L258.4,316.8 L259.3,316.1 L260.3,315.5 L261.2,314.8 L262.1,314.2 L263.1,313.5 L264.1,312.9 L265.1,312.2 L266.1,311.5 L267.2,310.9 L268.2,310.2 L269.3,309.6 L270.4,308.9 L271.5,308.3 L272.6,307.6 L273.8,307.0 L274.9,306.4 L276.1,305.8 L277.3,305.1 L278.5,304.5 L279.7,303.9 L281.0,303.3 L282.2,302.8 L283.5,302.2 L284.8,301.6 L286.1,301.1 L287.5,300.6 L288.8,300.0 L290.2,299.5 L291.6,299.0 L293.0,298.5 L294.4,298.0 L295.8,297.5 L297.3,297.1 L298.7,296.6 L300.2,296.1 L301.7,295.7 L303.3,295.3 L304.8,294.8 L306.3,294.4 L307.9,294.0 L309.5,293.6 L311.1,293.2 L312.7,292.8 L314.4,292.4 L316.0,292.1 L317.7,291.7 L319.4,291.4 L321.1,291.1 L322.8,290.8 L324.6,290.4 L326.3,290.2 L328.1,289.9 L329.9,289.6 L331.7,289.3 L333.6,289.1 L335.4,288.8 L337.3,288.6 L339.2,288.4 L341.1,288.2 L343.0,288.0 L344.9,287.9 L346.9,287.7 L348.8,287.6 L350.8,287.4 L352.8,287.3 L354.8,287.2 L356.9,287.1 L358.9,287.0 L361.0,286.8 L363.1,286.7 L365.2,286.7 L367.3,286.6 L369.4,286.5 L371.6,286.4 L373.8,286.3 L376.0,286.3 L378.2,286.2 L380.4,286.2 L382.6,286.1 L384.9,286.1 L387.2,286.0 L389.5,286.0 L391.8,285.9 L394.1,285.9 L396.5,285.9 L398.8,285.8 L401.2,285.8" fill="none" stroke="#3030a0" stroke-width="0.7"/>
<path d="M235.2,345.2 L235.2,345.0 L235.2,344.8 L235.3,344.6 L235.3,344.3 L235.4,344.0 L235.5,343.8 L235.6,343.5 L235.7,343.2 L235.9,342.8 L236.1,342.5 L236.2,342.2 L236.4,341.8 L236.7,341.4 L236.9,341.1 L237.1,340.6 L237.4,340.2 L237.7,339.7 L238.0,339.2 L238.3,338.6 L238.6,338.1 L239.0,337.4 L239.4,336.8 L239.7,336.1 L240.1,335.4 L240.6,334.8 L241.0,334.1 L241.5,333.4 L241.9,332.7 L242.4,332.1 L242.9,331.4 L243.5,330.7 L244.0,330.0 L244.6,329.3 L245.1,328.6 L245.7,328.0 L246.3,327.3 L247.0,326.6 L247.6,325.9 L248.3,325.3 L248.9,324.6 L249.6,323.9 L250.4,323.3 L251.1,322.6 L251.8,322.0 L252.6,321.3 L253.4,320.7 L254.2,320.0 L255.0,319.4 L255.8,318.7 L256.7,318.1 L257.5,317.4 L258.4,316.8 L259.3,316.1 L260.3,315.5 L261.2,314.8 L262.1,314.2 L263.1,313.5 L264.1,312.9 L265.1,312.2 L266.1,311.5 L267.2,310.9 L268.2,310.2 L269.3,309.6 L270.4,308.9 L271.5,308.3 L272.6,307.6 L273.8,307.0 L274.9,306.4 L276.1,305.8 L277.3,305.1 L278.5,304.5 L279.7,303.9 L281.0,303.3 L282.2,302.8 L283.5,302.2 L284.8,301.6 L286.1,301.1 L287.5,300.6 L288.8,300.0 L290.2,299.5 L291.6,299.0 L293.0,298.5 L294.4,298.0 L295.8,297.5 L297.3,297.1 L298.7,296.6 L300.2,296.1 L301.7,295.7 L303.3,295.3 L304.8,294.8 L306.3,294.4 L307.9,294.0 L309.5,293.6 L311.1,293.2 L312.7,292.8 L314.4,292.4 L316.0,292.1 L317.7,291.7 L319.4,291.4 L321.1,291.1 L322.8,290.8 L324.6,290.4 L326.3,290.2 L328.1,289.9 L329.9,289.6 L331.7,289.3 L333.6,289.1 L335.4,288.8 L337.3,288.6 L339.2,288.4 L341.1,288.2 L343.0,288.0 L344.9,287.9 L346.9,287.7 L348.8,287.6 L350.8,287.4 L352.8,287.3 L354.8,287.2 L356.9,287.1 L358.9,287.0 L361.0,286.8 L363.1,286.7 L365.2,286.7 L367.3,286.6 L369.4,286.5 L371.6,286.4 L373.8,286.3 L376.0,286.3 L378.2,286.2 L380.4,286.2 L382.6,286.1 L384.9,286.1 L387.2,286.0 L389.5,286.0 L391.8,285.9 L394.1,285.9 L396.5,285.9 L398.8,285.8 L401.2,285.8" fill="none" stroke="#000" stroke-width="1.7" stroke-linejoin="round"/>
<path d="M235.2,345.2 L235.2,344.6 L235.2,343.9 L235.3,343.2 L235.3,342.4 L235.4,341.6 L235.5,340.8 L235.6,340.0 L235.7,339.2 L235.9,338.3 L236.1,337.4 L236.2,336.5 L236.4,335.6 L236.7,334.6 L236.9,333.6 L237.1,332.6 L237.4,331.5 L237.7,330.5 L238.0,329.4 L238.3,328.2 L238.6,327.1 L239.0,325.9 L239.4,324.7 L239.7,323.5 L240.1,322.3 L240.6,321.0 L241.0,319.7 L241.5,318.4 L241.9,317.1 L242.4,315.8 L242.9,314.5 L243.5,313.1 L244.0,311.7 L244.6,310.4 L245.1,309.0 L245.7,307.7 L246.3,306.4 L247.0,305.2 L247.6,303.9 L248.3,302.6 L248.9,301.3 L249.6,300.0 L250.4,298.7 L251.1,297.4 L251.8,296.1 L252.6,294.8 L253.4,293.5 L254.2,292.2 L255.0,291.0 L255.8,289.7 L256.7,288.5 L257.5,287.2 L258.4,286.0 L259.3,284.8 L260.3,283.7 L261.2,282.6 L262.1,281.5 L263.1,280.4 L264.1,279.3 L265.1,278.1 L266.1,276.8 L267.2,275.7 L268.2,274.6 L269.3,273.6 L270.4,272.7 L271.5,271.8 L272.6,271.0 L273.8,270.2 L274.9,269.5 L276.1,268.8 L277.3,268.0 L278.5,267.3 L279.7,266.7 L281.0,266.0 L282.2,265.4 L283.5,264.8 L284.8,264.2 L286.1,263.7 L287.5,263.2 L288.8,262.7 L290.2,262.2 L291.6,261.8 L293.0,261.3 L294.4,260.9 L295.8,260.6 L297.3,260.2 L298.7,259.9 L300.2,259.5 L301.7,259.2 L303.3,258.9 L304.8,258.6 L306.3,258.3 L307.9,258.0 L309.5,257.6 L311.1,257.3 L312.7,257.0 L314.4,256.7 L316.0,256.4 L317.7,256.2 L319.4,255.9 L321.1,255.6 L322.8,255.4 L324.6,255.1 L326.3,254.9 L328.1,254.7 L329.9,254.5 L331.7,254.3 L333.6,254.1 L335.4,254.0 L337.3,253.8 L339.2,253.6 L341.1,253.5 L343.0,253.4 L344.9,253.2 L346.9,253.1 L348.8,252.9 L350.8,252.8 L352.8,252.7 L354.8,252.6 L356.9,252.5 L358.9,252.4 L361.0,252.3 L363.1,252.2 L365.2,252.1 L367.3,252.1 L369.4,252.0 L371.6,251.9 L373.8,251.8 L376.0,251.8 L378.2,251.7 L380.4,251.7 L382.6,251.6 L384.9,251.5 L387.2,251.5 L389.5,251.5 L391.8,251.4 L394.1,251.4 L396.5,251.4 L398.8,251.3 L401.2,251.3" fill="none" stroke="#e3141e" stroke-width="1.7" stroke-dasharray="3.8,1.4" stroke-linejoin="round"/>
<path d="M235.2,345.2 L235.2,345.9 L235.2,346.6 L235.3,347.2 L235.3,347.8 L235.4,348.4 L235.5,349.0 L235.6,349.5 L235.7,350.0 L235.9,350.5 L236.1,350.9 L236.2,351.4 L236.4,351.8 L236.7,352.2 L236.9,352.5 L237.1,352.9 L237.4,353.2 L237.7,353.5 L238.0,353.7 L238.3,354.0 L238.6,354.2 L239.0,354.4 L239.4,354.6 L239.7,354.8 L240.1,354.9 L240.6,355.0 L241.0,355.1 L241.5,355.2 L241.9,355.2 L242.4,355.2 L242.9,355.2 L243.5,355.1 L244.0,355.1 L244.6,355.1 L245.1,355.0 L245.7,355.0 L246.3,354.8 L247.0,354.6 L247.6,354.4 L248.3,354.1 L248.9,353.7 L249.6,353.4 L250.4,353.0 L251.1,352.6 L251.8,352.1 L252.6,351.7 L253.4,351.2 L254.2,350.7 L255.0,350.2 L255.8,349.7 L256.7,349.3 L257.5,348.8 L258.4,348.4 L259.3,347.9 L260.3,347.5 L261.2,347.0 L262.1,346.5 L263.1,345.9 L264.1,345.4 L265.1,344.8 L266.1,344.2 L267.2,343.7 L268.2,343.1 L269.3,342.5 L270.4,341.9 L271.5,341.3 L272.6,340.8 L273.8,340.3 L274.9,339.7 L276.1,339.2 L277.3,338.7 L278.5,338.1 L279.7,337.6 L281.0,337.1 L282.2,336.5 L283.5,336.0 L284.8,335.5 L286.1,335.0 L287.5,334.6 L288.8,334.1 L290.2,333.7 L291.6,333.3 L293.0,332.9 L294.4,332.5 L295.8,332.2 L297.3,331.8 L298.7,331.4 L300.2,331.0 L301.7,330.5 L303.3,330.1 L304.8,329.7 L306.3,329.2 L307.9,328.9 L309.5,328.5 L311.1,328.1 L312.7,327.8 L314.4,327.5 L316.0,327.2 L317.7,326.9 L319.4,326.6 L321.1,326.3 L322.8,326.0 L324.6,325.7 L326.3,325.5 L328.1,325.2 L329.9,325.0 L331.7,324.8 L333.6,324.6 L335.4,324.4 L337.3,324.2 L339.2,324.0 L341.1,323.8 L343.0,323.6 L344.9,323.4 L346.9,323.2 L348.8,323.1 L350.8,322.9 L352.8,322.8 L354.8,322.6 L356.9,322.5 L358.9,322.3 L361.0,322.1 L363.1,321.9 L365.2,321.7 L367.3,321.5 L369.4,321.4 L371.6,321.2 L373.8,321.0 L376.0,320.9 L378.2,320.7 L380.4,320.6 L382.6,320.4 L384.9,320.3 L387.2,320.2 L389.5,320.1 L391.8,320.0 L394.1,319.8 L396.5,319.7 L398.8,319.6 L401.2,319.6" fill="none" stroke="#e3141e" stroke-width="1.7" stroke-dasharray="3.8,1.4" stroke-linejoin="round"/>
<path d="M235.20,253.50 V357.90" stroke="#606060" stroke-width="1" fill="none"/>
<path d="M232.70,356.40 H404.20" stroke="#3c3c3c" stroke-width="1" fill="none"/>
<path d="M235.20,356.40 v-1.8 M243.50,356.40 v-1.0 M251.80,356.40 v-1.0 M260.10,356.40 v-1.0 M268.40,356.40 v-1.8 M276.70,356.40 v-1.0 M285.00,356.40 v-1.0 M293.30,356.40 v-1.0 M301.60,356.40 v-1.8 M309.90,356.40 v-1.0 M318.20,356.40 v-1.0 M326.50,356.40 v-1.0 M334.80,356.40 v-1.8 M343.10,356.40 v-1.0 M351.40,356.40 v-1.0 M359.70,356.40 v-1.0 M368.00,356.40 v-1.8 M376.30,356.40 v-1.0 M384.60,356.40 v-1.0 M392.90,356.40 v-1.0 M401.20,356.40 v-1.8 M235.20,254.25 h1.8 M235.20,265.25 h1.8 M235.20,277.75 h1.8 M235.20,291.75 h1.8 M235.20,306.75 h1.8 M235.20,324.25 h1.8 M235.20,344.50 h1.8" stroke="#222" stroke-width="0.6" fill="none"/>
<text x="268.40" y="362.90" text-anchor="middle" class="tk">2</text>
<text x="301.60" y="362.90" text-anchor="middle" class="tk">4</text>
<text x="334.80" y="362.90" text-anchor="middle" class="tk">6</text>
<text x="368.00" y="362.90" text-anchor="middle" class="tk">8</text>
<text x="401.20" y="362.90" text-anchor="middle" class="tk">10</text>
<text x="233.20" y="256.85" text-anchor="end" class="tk">1.1</text>
<text x="233.20" y="267.85" text-anchor="end" class="tk">1.</text>
<text x="233.20" y="280.35" text-anchor="end" class="tk">0.9</text>
<text x="233.20" y="294.35" text-anchor="end" class="tk">0.8</text>
<text x="233.20" y="309.35" text-anchor="end" class="tk">0.7</text>
<text x="233.20" y="326.85" text-anchor="end" class="tk">0.6</text>
<text x="233.20" y="347.10" text-anchor="end" class="tk">0.5</text>
<path d="M440.7,331.4 L440.7,330.6 L440.7,329.6 L440.8,328.5 L440.8,327.3 L440.9,325.9 L441.0,324.5 L441.1,322.8 L441.2,321.0 L441.4,319.0 L441.5,316.8 L441.7,314.5 L441.9,312.1 L442.1,309.7 L442.3,307.4 L442.6,305.1 L442.8,302.8 L443.1,300.6 L443.4,298.3 L443.7,296.0 L444.0,293.7 L444.4,291.3 L444.8,288.9 L445.1,286.6 L445.5,284.2 L445.9,282.0 L446.4,279.9 L446.8,278.0 L447.3,276.2 L447.7,274.6 L448.2,273.1 L448.7,271.8 L449.3,270.4 L449.8,269.2 L450.4,268.0 L451.0,266.9 L451.6,265.8 L452.2,264.8 L452.8,263.8 L453.4,262.9 L454.1,262.0 L454.8,261.1 L455.5,260.4 L456.2,260.0 L456.9,259.6 L457.7,259.3 L458.4,259.0 L459.2,258.7 L460.0,258.5 L460.8,258.4 L461.6,258.2 L462.5,258.1 L463.3,258.0 L464.2,258.0 L465.1,258.1 L466.0,258.0 L467.0,257.9 L467.9,257.7 L468.9,257.4 L469.9,257.2 L470.8,257.2 L471.9,257.4 L472.9,257.5 L473.9,257.2 L475.0,256.7 L476.1,256.4 L477.2,256.3 L478.3,256.2 L479.4,256.2 L480.6,256.3 L481.7,256.6 L482.9,257.3 L484.1,258.0 L485.3,257.7 L486.6,256.8 L487.8,256.2 L489.1,255.8 L490.4,255.6 L491.6,255.7 L493.0,255.8 L494.3,256.8 L495.6,258.3 L497.0,257.9 L498.4,256.6 L499.8,256.5 L501.2,256.5 L502.6,256.6 L504.1,256.7 L505.6,257.0 L507.0,257.6 L508.5,257.6 L510.0,257.2 L511.6,257.1 L513.1,257.1 L514.7,257.0 L516.3,256.8 L517.9,256.4 L519.5,256.2 L521.1,256.5 L522.8,256.7 L524.4,256.5 L526.1,256.2 L527.8,255.7 L529.5,255.1 L531.3,254.9 L533.0,256.9 L534.8,257.5 L536.6,257.4 L538.4,257.2 L540.2,257.0 L542.0,257.0 L543.9,256.9 L545.7,256.7 L547.6,256.0 L549.5,255.8 L551.5,255.8 L553.4,256.0 L555.3,256.1 L557.3,256.2 L559.3,256.1 L561.3,255.9 L563.3,255.7 L565.3,256.9 L567.4,257.0 L569.5,257.1 L571.5,257.7 L573.7,257.8 L575.8,257.3 L577.9,256.2 L580.1,256.9 L582.2,256.7 L584.4,256.6 L586.6,256.9 L588.8,258.0 L591.1,257.9 L593.3,257.4 L595.6,257.0 L597.9,257.3 L600.2,257.1 L602.5,256.8 L602.5,297.7 L600.2,296.7 L597.9,296.5 L595.6,296.5 L593.3,297.4 L591.1,297.4 L588.8,297.3 L586.6,297.1 L584.4,297.2 L582.2,297.2 L580.1,296.6 L577.9,296.8 L575.8,297.5 L573.7,299.0 L571.5,297.5 L569.5,296.1 L567.4,295.8 L565.3,295.9 L563.3,296.4 L561.3,297.1 L559.3,297.3 L557.3,297.3 L555.3,297.4 L553.4,297.5 L551.5,297.6 L549.5,297.5 L547.6,297.2 L545.7,297.1 L543.9,297.0 L542.0,296.9 L540.2,297.0 L538.4,297.5 L536.6,297.5 L534.8,297.2 L533.0,296.8 L531.3,296.5 L529.5,296.9 L527.8,297.1 L526.1,296.6 L524.4,296.3 L522.8,296.8 L521.1,297.1 L519.5,296.7 L517.9,296.5 L516.3,296.6 L514.7,296.8 L513.1,297.1 L511.6,297.4 L510.0,297.6 L508.5,297.6 L507.0,297.0 L505.6,296.5 L504.1,296.6 L502.6,296.9 L501.2,296.8 L499.8,296.5 L498.4,296.4 L497.0,296.6 L495.6,296.8 L494.3,297.4 L493.0,297.9 L491.6,297.7 L490.4,296.6 L489.1,296.2 L487.8,296.8 L486.6,297.5 L485.3,297.6 L484.1,297.5 L482.9,297.4 L481.7,297.1 L480.6,296.7 L479.4,296.5 L478.3,297.1 L477.2,298.0 L476.1,298.6 L475.0,299.0 L473.9,299.3 L472.9,299.5 L471.9,299.1 L470.8,298.6 L469.9,298.4 L468.9,298.7 L467.9,299.0 L467.0,299.3 L466.0,299.5 L465.1,299.7 L464.2,299.9 L463.3,300.2 L462.5,300.5 L461.6,300.8 L460.8,301.2 L460.0,301.6 L459.2,302.0 L458.4,302.5 L457.7,302.9 L456.9,303.4 L456.2,303.8 L455.5,304.4 L454.8,304.9 L454.1,305.5 L453.4,306.1 L452.8,306.7 L452.2,307.4 L451.6,308.1 L451.0,308.8 L450.4,309.5 L449.8,310.3 L449.3,311.0 L448.7,311.8 L448.2,312.7 L447.7,313.5 L447.3,314.3 L446.8,315.2 L446.4,316.0 L445.9,316.9 L445.5,317.8 L445.1,318.6 L444.8,319.5 L444.4,320.3 L444.0,321.2 L443.7,322.0 L443.4,322.8 L443.1,323.6 L442.8,324.4 L442.6,325.2 L442.3,325.9 L442.1,326.6 L441.9,327.2 L441.7,327.9 L441.5,328.4 L441.4,329.0 L441.2,329.4 L441.1,329.8 L441.0,330.2 L440.9,330.5 L440.8,330.8 L440.8,331.0 L440.7,331.1 L440.7,331.3 L440.7,331.4Z" fill="#c7b7d6"/>
<path d="M440.7,331.4 L440.7,331.3 L440.7,331.1 L440.8,331.0 L440.8,330.8 L440.9,330.5 L441.0,330.2 L441.1,329.8 L441.2,329.4 L441.4,329.0 L441.5,328.4 L441.7,327.9 L441.9,327.2 L442.1,326.6 L442.3,325.9 L442.6,325.2 L442.8,324.4 L443.1,323.6 L443.4,322.8 L443.7,322.0 L444.0,321.2 L444.4,320.3 L444.8,319.5 L445.1,318.6 L445.5,317.8 L445.9,316.9 L446.4,316.0 L446.8,315.2 L447.3,314.3 L447.7,313.5 L448.2,312.7 L448.7,311.8 L449.3,311.0 L449.8,310.3 L450.4,309.5 L451.0,308.8 L451.6,308.1 L452.2,307.4 L452.8,306.7 L453.4,306.1 L454.1,305.5 L454.8,304.9 L455.5,304.4 L456.2,303.8 L456.9,303.4 L457.7,302.9 L458.4,302.5 L459.2,302.0 L460.0,301.6 L460.8,301.2 L461.6,300.8 L462.5,300.5 L463.3,300.2 L464.2,299.9 L465.1,299.7 L466.0,299.5 L467.0,299.3 L467.9,299.0 L468.9,298.7 L469.9,298.4 L470.8,298.6 L471.9,299.1 L472.9,299.5 L473.9,299.3 L475.0,299.0 L476.1,298.6 L477.2,298.0 L478.3,297.1 L479.4,296.5 L480.6,296.7 L481.7,297.1 L482.9,297.4 L484.1,297.5 L485.3,297.6 L486.6,297.5 L487.8,296.8 L489.1,296.2 L490.4,296.6 L491.6,297.7 L493.0,297.9 L494.3,297.4 L495.6,296.8 L497.0,296.6 L498.4,296.4 L499.8,296.5 L501.2,296.8 L502.6,296.9 L504.1,296.6 L505.6,296.5 L507.0,297.0 L508.5,297.6 L510.0,297.6 L511.6,297.4 L513.1,297.1 L514.7,296.8 L516.3,296.6 L517.9,296.5 L519.5,296.7 L521.1,297.1 L522.8,296.8 L524.4,296.3 L526.1,296.6 L527.8,297.1 L529.5,296.9 L531.3,296.5 L533.0,296.8 L534.8,297.2 L536.6,297.5 L538.4,297.5 L540.2,297.0 L542.0,296.9 L543.9,297.0 L545.7,297.1 L547.6,297.2 L549.5,297.5 L551.5,297.6 L553.4,297.5 L555.3,297.4 L557.3,297.3 L559.3,297.3 L561.3,297.1 L563.3,296.4 L565.3,295.9 L567.4,295.8 L569.5,296.1 L571.5,297.5 L573.7,299.0 L575.8,297.5 L577.9,296.8 L580.1,296.6 L582.2,297.2 L584.4,297.2 L586.6,297.1 L588.8,297.3 L591.1,297.4 L593.3,297.4 L595.6,296.5 L597.9,296.5 L600.2,296.7 L602.5,297.7 L602.5,340.2 L600.2,339.4 L597.9,339.3 L595.6,340.2 L593.3,339.6 L591.1,339.8 L588.8,339.3 L586.6,340.1 L584.4,340.3 L582.2,340.0 L580.1,339.7 L577.9,339.3 L575.8,339.0 L573.7,338.9 L571.5,336.9 L569.5,335.2 L567.4,335.4 L565.3,334.2 L563.3,334.4 L561.3,335.2 L559.3,335.6 L557.3,335.2 L555.3,335.7 L553.4,335.9 L551.5,336.1 L549.5,336.4 L547.6,335.1 L545.7,334.3 L543.9,334.6 L542.0,335.0 L540.2,334.2 L538.4,334.9 L536.6,335.9 L534.8,336.6 L533.0,336.2 L531.3,336.9 L529.5,337.4 L527.8,337.5 L526.1,337.3 L524.4,337.4 L522.8,337.5 L521.1,336.6 L519.5,336.3 L517.9,335.9 L516.3,335.5 L514.7,334.9 L513.1,334.7 L511.6,336.0 L510.0,336.4 L508.5,336.6 L507.0,337.0 L505.6,337.1 L504.1,336.5 L502.6,336.6 L501.2,336.9 L499.8,338.3 L498.4,339.1 L497.0,339.1 L495.6,339.6 L494.3,340.0 L493.0,339.2 L491.6,338.0 L490.4,337.2 L489.1,336.6 L487.8,336.2 L486.6,336.3 L485.3,336.5 L484.1,336.9 L482.9,337.3 L481.7,337.5 L480.6,337.0 L479.4,336.7 L478.3,336.7 L477.2,336.6 L476.1,336.1 L475.0,335.7 L473.9,335.7 L472.9,335.9 L471.9,336.5 L470.8,337.2 L469.9,338.0 L468.9,338.7 L467.9,339.3 L467.0,339.9 L466.0,340.5 L465.1,341.1 L464.2,341.8 L463.3,342.4 L462.5,343.1 L461.6,343.8 L460.8,344.4 L460.0,345.0 L459.2,345.5 L458.4,346.0 L457.7,346.6 L456.9,347.0 L456.2,347.5 L455.5,348.0 L454.8,348.5 L454.1,348.9 L453.4,349.4 L452.8,349.8 L452.2,350.3 L451.6,350.8 L451.0,351.3 L450.4,351.9 L449.8,352.4 L449.3,352.9 L448.7,353.3 L448.2,353.6 L447.7,353.7 L447.3,353.7 L446.8,353.7 L446.4,353.5 L445.9,353.3 L445.5,353.0 L445.1,352.7 L444.8,352.4 L444.4,352.0 L444.0,351.6 L443.7,351.2 L443.4,350.7 L443.1,350.1 L442.8,349.5 L442.6,348.7 L442.3,347.9 L442.1,347.0 L441.9,346.1 L441.7,345.2 L441.5,344.3 L441.4,343.3 L441.2,342.2 L441.1,341.0 L441.0,339.8 L440.9,338.6 L440.8,337.2 L440.8,335.8 L440.7,334.4 L440.7,332.9 L440.7,331.4Z" fill="#ebd8e4"/>
<path d="M440.7,331.4 L440.7,330.6 L440.7,329.6 L440.8,328.5 L440.8,327.3 L440.9,325.9 L441.0,324.5 L441.1,322.8 L441.2,321.0 L441.4,319.0 L441.5,316.8 L441.7,314.5 L441.9,312.1 L442.1,309.7 L442.3,307.4 L442.6,305.1 L442.8,302.8 L443.1,300.6 L443.4,298.3 L443.7,296.0 L444.0,293.7 L444.4,291.3 L444.8,288.9 L445.1,286.6 L445.5,284.2 L445.9,282.0 L446.4,279.9 L446.8,278.0 L447.3,276.2 L447.7,274.6 L448.2,273.1 L448.7,271.8 L449.3,270.4 L449.8,269.2 L450.4,268.0 L451.0,266.9 L451.6,265.8 L452.2,264.8 L452.8,263.8 L453.4,262.9 L454.1,262.0 L454.8,261.1 L455.5,260.4 L456.2,260.0 L456.9,259.6 L457.7,259.3 L458.4,259.0 L459.2,258.7 L460.0,258.5 L460.8,258.4 L461.6,258.2 L462.5,258.1 L463.3,258.0 L464.2,258.0 L465.1,258.1 L466.0,258.0 L467.0,257.9 L467.9,257.7 L468.9,257.4 L469.9,257.2 L470.8,257.2 L471.9,257.4 L472.9,257.5 L473.9,257.2 L475.0,256.7 L476.1,256.4 L477.2,256.3 L478.3,256.2 L479.4,256.2 L480.6,256.3 L481.7,256.6 L482.9,257.3 L484.1,258.0 L485.3,257.7 L486.6,256.8 L487.8,256.2 L489.1,255.8 L490.4,255.6 L491.6,255.7 L493.0,255.8 L494.3,256.8 L495.6,258.3 L497.0,257.9 L498.4,256.6 L499.8,256.5 L501.2,256.5 L502.6,256.6 L504.1,256.7 L505.6,257.0 L507.0,257.6 L508.5,257.6 L510.0,257.2 L511.6,257.1 L513.1,257.1 L514.7,257.0 L516.3,256.8 L517.9,256.4 L519.5,256.2 L521.1,256.5 L522.8,256.7 L524.4,256.5 L526.1,256.2 L527.8,255.7 L529.5,255.1 L531.3,254.9 L533.0,256.9 L534.8,257.5 L536.6,257.4 L538.4,257.2 L540.2,257.0 L542.0,257.0 L543.9,256.9 L545.7,256.7 L547.6,256.0 L549.5,255.8 L551.5,255.8 L553.4,256.0 L555.3,256.1 L557.3,256.2 L559.3,256.1 L561.3,255.9 L563.3,255.7 L565.3,256.9 L567.4,257.0 L569.5,257.1 L571.5,257.7 L573.7,257.8 L575.8,257.3 L577.9,256.2 L580.1,256.9 L582.2,256.7 L584.4,256.6 L586.6,256.9 L588.8,258.0 L591.1,257.9 L593.3,257.4 L595.6,257.0 L597.9,257.3 L600.2,257.1 L602.5,256.8" fill="none" stroke="#5e3e80" stroke-width="0.7"/>
<path d="M440.7,331.4 L440.7,332.9 L440.7,334.4 L440.8,335.8 L440.8,337.2 L440.9,338.6 L441.0,339.8 L441.1,341.0 L441.2,342.2 L441.4,343.3 L441.5,344.3 L441.7,345.2 L441.9,346.1 L442.1,347.0 L442.3,347.9 L442.6,348.7 L442.8,349.5 L443.1,350.1 L443.4,350.7 L443.7,351.2 L444.0,351.6 L444.4,352.0 L444.8,352.4 L445.1,352.7 L445.5,353.0 L445.9,353.3 L446.4,353.5 L446.8,353.7 L447.3,353.7 L447.7,353.7 L448.2,353.6 L448.7,353.3 L449.3,352.9 L449.8,352.4 L450.4,351.9 L451.0,351.3 L451.6,350.8 L452.2,350.3 L452.8,349.8 L453.4,349.4 L454.1,348.9 L454.8,348.5 L455.5,348.0 L456.2,347.5 L456.9,347.0 L457.7,346.6 L458.4,346.0 L459.2,345.5 L460.0,345.0 L460.8,344.4 L461.6,343.8 L462.5,343.1 L463.3,342.4 L464.2,341.8 L465.1,341.1 L466.0,340.5 L467.0,339.9 L467.9,339.3 L468.9,338.7 L469.9,338.0 L470.8,337.2 L471.9,336.5 L472.9,335.9 L473.9,335.7 L475.0,335.7 L476.1,336.1 L477.2,336.6 L478.3,336.7 L479.4,336.7 L480.6,337.0 L481.7,337.5 L482.9,337.3 L484.1,336.9 L485.3,336.5 L486.6,336.3 L487.8,336.2 L489.1,336.6 L490.4,337.2 L491.6,338.0 L493.0,339.2 L494.3,340.0 L495.6,339.6 L497.0,339.1 L498.4,339.1 L499.8,338.3 L501.2,336.9 L502.6,336.6 L504.1,336.5 L505.6,337.1 L507.0,337.0 L508.5,336.6 L510.0,336.4 L511.6,336.0 L513.1,334.7 L514.7,334.9 L516.3,335.5 L517.9,335.9 L519.5,336.3 L521.1,336.6 L522.8,337.5 L524.4,337.4 L526.1,337.3 L527.8,337.5 L529.5,337.4 L531.3,336.9 L533.0,336.2 L534.8,336.6 L536.6,335.9 L538.4,334.9 L540.2,334.2 L542.0,335.0 L543.9,334.6 L545.7,334.3 L547.6,335.1 L549.5,336.4 L551.5,336.1 L553.4,335.9 L555.3,335.7 L557.3,335.2 L559.3,335.6 L561.3,335.2 L563.3,334.4 L565.3,334.2 L567.4,335.4 L569.5,335.2 L571.5,336.9 L573.7,338.9 L575.8,339.0 L577.9,339.3 L580.1,339.7 L582.2,340.0 L584.4,340.3 L586.6,340.1 L588.8,339.3 L591.1,339.8 L593.3,339.6 L595.6,340.2 L597.9,339.3 L600.2,339.4 L602.5,340.2" fill="none" stroke="#8a7a2a" stroke-width="0.7"/>
<path d="M440.7,331.4 L440.7,331.3 L440.7,331.1 L440.8,331.0 L440.8,330.8 L440.9,330.5 L441.0,330.2 L441.1,329.8 L441.2,329.4 L441.4,329.0 L441.5,328.4 L441.7,327.9 L441.9,327.2 L442.1,326.6 L442.3,325.9 L442.6,325.2 L442.8,324.4 L443.1,323.6 L443.4,322.8 L443.7,322.0 L444.0,321.2 L444.4,320.3 L444.8,319.5 L445.1,318.6 L445.5,317.8 L445.9,316.9 L446.4,316.0 L446.8,315.2 L447.3,314.3 L447.7,313.5 L448.2,312.7 L448.7,311.8 L449.3,311.0 L449.8,310.3 L450.4,309.5 L451.0,308.8 L451.6,308.1 L452.2,307.4 L452.8,306.7 L453.4,306.1 L454.1,305.5 L454.8,304.9 L455.5,304.4 L456.2,303.8 L456.9,303.4 L457.7,302.9 L458.4,302.5 L459.2,302.0 L460.0,301.6 L460.8,301.2 L461.6,300.8 L462.5,300.5 L463.3,300.2 L464.2,299.9 L465.1,299.7 L466.0,299.5 L467.0,299.3 L467.9,299.0 L468.9,298.7 L469.9,298.4 L470.8,298.6 L471.9,299.1 L472.9,299.5 L473.9,299.3 L475.0,299.0 L476.1,298.6 L477.2,298.0 L478.3,297.1 L479.4,296.5 L480.6,296.7 L481.7,297.1 L482.9,297.4 L484.1,297.5 L485.3,297.6 L486.6,297.5 L487.8,296.8 L489.1,296.2 L490.4,296.6 L491.6,297.7 L493.0,297.9 L494.3,297.4 L495.6,296.8 L497.0,296.6 L498.4,296.4 L499.8,296.5 L501.2,296.8 L502.6,296.9 L504.1,296.6 L505.6,296.5 L507.0,297.0 L508.5,297.6 L510.0,297.6 L511.6,297.4 L513.1,297.1 L514.7,296.8 L516.3,296.6 L517.9,296.5 L519.5,296.7 L521.1,297.1 L522.8,296.8 L524.4,296.3 L526.1,296.6 L527.8,297.1 L529.5,296.9 L531.3,296.5 L533.0,296.8 L534.8,297.2 L536.6,297.5 L538.4,297.5 L540.2,297.0 L542.0,296.9 L543.9,297.0 L545.7,297.1 L547.6,297.2 L549.5,297.5 L551.5,297.6 L553.4,297.5 L555.3,297.4 L557.3,297.3 L559.3,297.3 L561.3,297.1 L563.3,296.4 L565.3,295.9 L567.4,295.8 L569.5,296.1 L571.5,297.5 L573.7,299.0 L575.8,297.5 L577.9,296.8 L580.1,296.6 L582.2,297.2 L584.4,297.2 L586.6,297.1 L588.8,297.3 L591.1,297.4 L593.3,297.4 L595.6,296.5 L597.9,296.5 L600.2,296.7 L602.5,297.7" fill="none" stroke="#3030a0" stroke-width="0.7"/>
<path d="M440.7,331.4 L440.7,331.3 L440.7,331.1 L440.8,331.0 L440.8,330.8 L440.9,330.5 L441.0,330.2 L441.1,329.8 L441.2,329.4 L441.4,329.0 L441.5,328.4 L441.7,327.9 L441.9,327.2 L442.1,326.6 L442.3,325.9 L442.6,325.2 L442.8,324.4 L443.1,323.6 L443.4,322.8 L443.7,322.0 L444.0,321.2 L444.4,320.3 L444.8,319.5 L445.1,318.6 L445.5,317.8 L445.9,316.9 L446.4,316.0 L446.8,315.2 L447.3,314.3 L447.7,313.5 L448.2,312.7 L448.7,311.8 L449.3,311.0 L449.8,310.3 L450.4,309.5 L451.0,308.8 L451.6,308.1 L452.2,307.4 L452.8,306.7 L453.4,306.1 L454.1,305.5 L454.8,304.9 L455.5,304.4 L456.2,303.8 L456.9,303.3 L457.7,302.9 L458.4,302.4 L459.2,302.0 L460.0,301.6 L460.8,301.2 L461.6,300.9 L462.5,300.6 L463.3,300.3 L464.2,300.0 L465.1,299.7 L466.0,299.5 L467.0,299.2 L467.9,299.0 L468.9,298.8 L469.9,298.7 L470.8,298.5 L471.9,298.3 L472.9,298.2 L473.9,298.1 L475.0,298.0 L476.1,297.9 L477.2,297.8 L478.3,297.7 L479.4,297.6 L480.6,297.5 L481.7,297.5 L482.9,297.4 L484.1,297.4 L485.3,297.3 L486.6,297.3 L487.8,297.3 L489.1,297.2 L490.4,297.2 L491.6,297.2 L493.0,297.1 L494.3,297.1 L495.6,297.1 L497.0,297.1 L498.4,297.1 L499.8,297.1 L501.2,297.1 L502.6,297.1 L504.1,297.0 L505.6,297.0 L507.0,297.0 L508.5,297.0 L510.0,297.0 L511.6,297.0 L513.1,297.0 L514.7,297.0 L516.3,297.0 L517.9,297.0 L519.5,297.0 L521.1,297.0 L522.8,297.0 L524.4,297.0 L526.1,297.0 L527.8,297.0 L529.5,297.0 L531.3,297.0 L533.0,297.0 L534.8,297.0 L536.6,297.0 L538.4,297.0 L540.2,297.0 L542.0,297.0 L543.9,297.0 L545.7,297.0 L547.6,297.0 L549.5,297.0 L551.5,297.0 L553.4,297.0 L555.3,297.0 L557.3,297.0 L559.3,297.0 L561.3,297.0 L563.3,297.0 L565.3,297.0 L567.4,297.0 L569.5,297.0 L571.5,297.0 L573.7,297.0 L575.8,297.0 L577.9,297.0 L580.1,297.0 L582.2,297.0 L584.4,297.0 L586.6,297.0 L588.8,297.0 L591.1,297.0 L593.3,297.0 L595.6,297.0 L597.9,297.0 L600.2,297.0 L602.5,297.0" fill="none" stroke="#000" stroke-width="1.8" stroke-linejoin="round"/>
<path d="M440.7,331.4 L440.7,330.6 L440.7,329.6 L440.8,328.5 L440.8,327.3 L440.9,325.9 L441.0,324.5 L441.1,322.8 L441.2,321.0 L441.4,319.0 L441.5,316.8 L441.7,314.5 L441.9,312.1 L442.1,309.7 L442.3,307.4 L442.6,305.1 L442.8,302.8 L443.1,300.6 L443.4,298.3 L443.7,296.0 L444.0,293.7 L444.4,291.3 L444.8,288.9 L445.1,286.6 L445.5,284.2 L445.9,282.0 L446.4,279.9 L446.8,278.0 L447.3,276.2 L447.7,274.6 L448.2,273.1 L448.7,271.8 L449.3,270.4 L449.8,269.2 L450.4,268.0 L451.0,266.9 L451.6,265.8 L452.2,264.8 L452.8,263.8 L453.4,262.9 L454.1,262.0 L454.8,261.1 L455.5,260.4 L456.2,259.7 L456.9,259.0 L457.7,258.4 L458.4,257.9 L459.2,257.4 L460.0,256.9 L460.8,256.5 L461.6,256.0 L462.5,255.7 L463.3,255.4 L464.2,255.1 L465.1,254.9 L466.0,254.7 L467.0,254.6 L467.9,254.4 L468.9,254.3 L469.9,254.2 L470.8,254.1 L471.9,254.0 L472.9,253.9 L473.9,253.8 L475.0,253.8 L476.1,253.7 L477.2,253.7 L478.3,253.6 L479.4,253.6 L480.6,253.5 L481.7,253.5 L482.9,253.4 L484.1,253.4 L485.3,253.4 L486.6,253.3 L487.8,253.3 L489.1,253.3 L490.4,253.3 L491.6,253.3 L493.0,253.3 L494.3,253.3 L495.6,253.3 L497.0,253.3 L498.4,253.3 L499.8,253.3 L501.2,253.3 L502.6,253.3 L504.1,253.3 L505.6,253.3 L507.0,253.3 L508.5,253.3 L510.0,253.3 L511.6,253.3 L513.1,253.3 L514.7,253.3 L516.3,253.3 L517.9,253.3 L519.5,253.3 L521.1,253.3 L522.8,253.3 L524.4,253.3 L526.1,253.3 L527.8,253.3 L529.5,253.3 L531.3,253.3 L533.0,253.3 L534.8,253.3 L536.6,253.3 L538.4,253.3 L540.2,253.3 L542.0,253.3 L543.9,253.3 L545.7,253.3 L547.6,253.3 L549.5,253.3 L551.5,253.3 L553.4,253.3 L555.3,253.3 L557.3,253.3 L559.3,253.3 L561.3,253.3 L563.3,253.3 L565.3,253.3 L567.4,253.3 L569.5,253.3 L571.5,253.3 L573.7,253.3 L575.8,253.3 L577.9,253.3 L580.1,253.3 L582.2,253.3 L584.4,253.3 L586.6,253.3 L588.8,253.3 L591.1,253.3 L593.3,253.3 L595.6,253.3 L597.9,253.3 L600.2,253.3 L602.5,253.3" fill="none" stroke="#e3141e" stroke-width="1.85" stroke-dasharray="4.2,1.6" stroke-linejoin="round"/>
<path d="M440.7,331.4 L440.7,332.9 L440.7,334.4 L440.8,335.8 L440.8,337.2 L440.9,338.5 L441.0,339.8 L441.1,341.0 L441.2,342.1 L441.4,343.2 L441.5,344.2 L441.7,345.2 L441.9,346.1 L442.1,347.0 L442.3,347.8 L442.6,348.6 L442.8,349.4 L443.1,350.0 L443.4,350.6 L443.7,351.1 L444.0,351.6 L444.4,352.0 L444.8,352.3 L445.1,352.7 L445.5,353.0 L445.9,353.2 L446.4,353.4 L446.8,353.6 L447.3,353.7 L447.7,353.7 L448.2,353.6 L448.7,353.5 L449.3,353.3 L449.8,353.0 L450.4,352.8 L451.0,352.5 L451.6,352.2 L452.2,351.9 L452.8,351.6 L453.4,351.3 L454.1,351.0 L454.8,350.6 L455.5,350.3 L456.2,349.9 L456.9,349.5 L457.7,349.1 L458.4,348.7 L459.2,348.4 L460.0,348.0 L460.8,347.6 L461.6,347.2 L462.5,346.8 L463.3,346.3 L464.2,345.9 L465.1,345.5 L466.0,345.1 L467.0,344.7 L467.9,344.4 L468.9,344.1 L469.9,343.8 L470.8,343.5 L471.9,343.3 L472.9,343.1 L473.9,342.9 L475.0,342.7 L476.1,342.5 L477.2,342.4 L478.3,342.2 L479.4,342.1 L480.6,341.9 L481.7,341.8 L482.9,341.7 L484.1,341.6 L485.3,341.5 L486.6,341.4 L487.8,341.3 L489.1,341.2 L490.4,341.2 L491.6,341.1 L493.0,341.1 L494.3,341.0 L495.6,341.0 L497.0,341.0 L498.4,340.9 L499.8,340.9 L501.2,340.9 L502.6,340.9 L504.1,340.9 L505.6,340.8 L507.0,340.8 L508.5,340.8 L510.0,340.8 L511.6,340.8 L513.1,340.8 L514.7,340.8 L516.3,340.8 L517.9,340.8 L519.5,340.8 L521.1,340.8 L522.8,340.8 L524.4,340.8 L526.1,340.8 L527.8,340.8 L529.5,340.8 L531.3,340.8 L533.0,340.8 L534.8,340.8 L536.6,340.8 L538.4,340.8 L540.2,340.8 L542.0,340.8 L543.9,340.8 L545.7,340.8 L547.6,340.8 L549.5,340.8 L551.5,340.8 L553.4,340.8 L555.3,340.8 L557.3,340.8 L559.3,340.8 L561.3,340.8 L563.3,340.8 L565.3,340.8 L567.4,340.8 L569.5,340.8 L571.5,340.8 L573.7,340.8 L575.8,340.8 L577.9,340.8 L580.1,340.8 L582.2,340.8 L584.4,340.8 L586.6,340.8 L588.8,340.8 L591.1,340.8 L593.3,340.8 L595.6,340.8 L597.9,340.8 L600.2,340.8 L602.5,340.8" fill="none" stroke="#e3141e" stroke-width="1.85" stroke-dasharray="4.2,1.6" stroke-linejoin="round"/>
<path d="M440.70,253.00 V355.80" stroke="#606060" stroke-width="1" fill="none"/>
<path d="M438.20,354.30 H605.50" stroke="#3c3c3c" stroke-width="1" fill="none"/>
<path d="M440.70,354.30 v-1.8 M448.79,354.30 v-1.0 M456.88,354.30 v-1.0 M464.97,354.30 v-1.0 M473.06,354.30 v-1.8 M481.15,354.30 v-1.0 M489.24,354.30 v-1.0 M497.33,354.30 v-1.0 M505.42,354.30 v-1.8 M513.51,354.30 v-1.0 M521.60,354.30 v-1.0 M529.69,354.30 v-1.0 M537.78,354.30 v-1.8 M545.87,354.30 v-1.0 M553.96,354.30 v-1.0 M562.05,354.30 v-1.0 M570.14,354.30 v-1.8 M578.23,354.30 v-1.0 M586.32,354.30 v-1.0 M594.41,354.30 v-1.0 M602.50,354.30 v-1.8 M440.70,264.75 h1.8 M440.70,285.50 h1.8 M440.70,307.75 h1.8 M440.70,331.50 h1.8" stroke="#222" stroke-width="0.6" fill="none"/>
<text x="473.06" y="361.00" text-anchor="middle" class="tk">2</text>
<text x="505.42" y="361.00" text-anchor="middle" class="tk">4</text>
<text x="537.78" y="361.00" text-anchor="middle" class="tk">6</text>
<text x="570.14" y="361.00" text-anchor="middle" class="tk">8</text>
<text x="602.50" y="361.00" text-anchor="middle" class="tk">10</text>
<text x="438.70" y="267.35" text-anchor="end" class="tk">0.65</text>
<text x="438.70" y="288.10" text-anchor="end" class="tk">0.6</text>
<text x="438.70" y="310.35" text-anchor="end" class="tk">0.55</text>
<text x="438.70" y="334.10" text-anchor="end" class="tk">0.5</text>
<g transform="translate(92.80,9.25) scale(0.95,1)" fill="none" stroke="#000" stroke-linecap="round" stroke-linejoin="round"><ellipse cx="4.2" cy="-4.2" rx="2.15" ry="1.9" transform="rotate(-25 4.2 -4.2)" stroke-width="1.2"/><path d="M6.1,-5.7 L8.0,-5.9" stroke-width="0.9"/><path d="M3.3,-2.3 C1.9,-1.7 1.3,-0.8 2.7,-0.3 L5.2,0.2 C7.3,0.6 7.0,2.9 3.4,3.0 C-0.6,3.1 -1.4,0.8 2.0,-0.1" stroke-width="0.85"/></g>
<path d="M104.20,4.95 H112.00 M104.20,7.05 H112.00" stroke="#000" stroke-width="0.9" fill="none"/>
<text x="115.60" y="9.80" class="mi">r</text>
<path d="M125.30,5.40 H133.60" stroke="#000" stroke-width="0.85" fill="none"/>
<text x="136.20" y="9.80" class="mi" style="font-size:17.5px">γ</text>
<g transform="translate(265.80,11.45) scale(0.95,1)" fill="none" stroke="#000" stroke-linecap="round" stroke-linejoin="round"><ellipse cx="4.2" cy="-4.2" rx="2.15" ry="1.9" transform="rotate(-25 4.2 -4.2)" stroke-width="1.2"/><path d="M6.1,-5.7 L8.0,-5.9" stroke-width="0.9"/><path d="M3.3,-2.3 C1.9,-1.7 1.3,-0.8 2.7,-0.3 L5.2,0.2 C7.3,0.6 7.0,2.9 3.4,3.0 C-0.6,3.1 -1.4,0.8 2.0,-0.1" stroke-width="0.85"/></g>
<path d="M277.90,7.15 H285.40 M277.90,9.25 H285.40" stroke="#000" stroke-width="0.9" fill="none"/>
<text x="289.60" y="12.00" class="mi">r</text>
<text x="299.50" y="12.00" class="mi">/</text>
<text x="306.50" y="12.00" class="mr">(</text>
<text x="311.60" y="12.00" class="mr">1</text>
<path d="M320.20,7.30 H327.80 M324.00,3.50 V11.10" stroke="#000" stroke-width="0.85" fill="none"/>
<text x="331.90" y="12.00" class="mi" style="font-size:16px">N</text>
<text x="344.20" y="12.00" class="mr">)</text>
<path d="M351.80,7.30 H359.00" stroke="#000" stroke-width="0.85" fill="none"/>
<text x="362.40" y="12.00" class="mi" style="font-size:17.5px">γ</text>
<g transform="translate(465.30,10.35) scale(0.95,1)" fill="none" stroke="#000" stroke-linecap="round" stroke-linejoin="round"><ellipse cx="4.2" cy="-4.2" rx="2.15" ry="1.9" transform="rotate(-25 4.2 -4.2)" stroke-width="1.2"/><path d="M6.1,-5.7 L8.0,-5.9" stroke-width="0.9"/><path d="M3.3,-2.3 C1.9,-1.7 1.3,-0.8 2.7,-0.3 L5.2,0.2 C7.3,0.6 7.0,2.9 3.4,3.0 C-0.6,3.1 -1.4,0.8 2.0,-0.1" stroke-width="0.85"/></g>
<path d="M477.40,6.05 H484.80 M477.40,8.15 H484.80" stroke="#000" stroke-width="0.9" fill="none"/>
<text x="488.80" y="10.90" class="mi">r</text>
<text x="495.70" y="10.90" class="mr">(</text>
<text x="500.80" y="10.90" class="mr">1</text>
<path d="M509.00,6.40 H517.20" stroke="#000" stroke-width="0.85" fill="none"/>
<text x="521.40" y="10.90" class="mi" style="font-size:16px">N</text>
<text x="536.20" y="10.90" class="mi">/</text>
<text x="544.60" y="10.90" class="mi" style="font-size:16px">K</text>
<text x="556.90" y="10.90" class="mr">)</text>
<path d="M564.00,6.40 H571.60" stroke="#000" stroke-width="0.85" fill="none"/>
<text x="575.80" y="10.90" class="mi" style="font-size:17.5px">γ</text>
<text x="607.60" y="76.20" class="mi" style="font-size:14.5px">r</text>
<path d="M618.00,71.20 H625.70 M618.00,74.00 H625.70" stroke="#000" stroke-width="0.95" fill="none"/>
<text x="629.40" y="76.20" class="mi" style="font-size:14.5px">r</text>
<text x="635.00" y="80.40" class="mr" style="font-size:8.2px">0</text>
<text x="639.50" y="76.20" class="mi" style="font-size:14.5px">c</text>
<text x="648.90" y="76.40" class="mi" style="font-size:14.5px">/</text>
<text x="656.80" y="76.20" class="mi" style="font-size:14.5px">c</text>
<text x="662.90" y="80.40" class="mr" style="font-size:8.2px">0</text>
<text x="607.60" y="191.70" class="mi" style="font-size:14.5px">r</text>
<path d="M618.00,186.70 H625.70 M618.00,189.50 H625.70" stroke="#000" stroke-width="0.95" fill="none"/>
<path d="M630.0,187.3 H679.1" stroke="#000" stroke-width="0.8"/>
<text x="631.80" y="181.00" class="mr" style="font-size:14.5px">2</text>
<text x="639.70" y="181.00" class="mi" style="font-size:14.5px">r</text>
<text x="644.30" y="185.90" class="mr" style="font-size:8.2px">0</text>
<text x="650.00" y="181.00" class="mi" style="font-size:14.5px">c</text>
<text x="659.70" y="181.20" class="mi" style="font-size:14.5px">/</text>
<text x="667.20" y="181.00" class="mi" style="font-size:14.5px">c</text>
<text x="673.60" y="185.90" class="mr" style="font-size:8.2px">0</text>
<text x="630.80" y="202.90" class="mr" style="font-size:14.5px">1</text>
<path d="M637.90,198.60 H646.00 M641.95,194.55 V202.65" stroke="#000" stroke-width="0.95" fill="none"/>
<text x="650.00" y="202.90" class="mi" style="font-size:14.5px">c</text>
<text x="659.70" y="203.10" class="mi" style="font-size:14.5px">/</text>
<text x="667.20" y="202.90" class="mi" style="font-size:14.5px">c</text>
<text x="673.60" y="207.70" class="mr" style="font-size:8.2px">0</text>
<text x="607.60" y="302.20" class="mi" style="font-size:14.5px">r</text>
<path d="M618.00,297.20 H625.70 M618.00,300.00 H625.70" stroke="#000" stroke-width="0.95" fill="none"/>
<text x="629.40" y="302.20" class="mi" style="font-size:14.5px">r</text>
<text x="635.00" y="306.40" class="mr" style="font-size:8.2px">0</text>
<text x="640.30" y="302.20" class="mr" style="font-size:14.5px">(</text>
<text x="645.60" y="302.20" class="mi" style="font-size:14.5px">c</text>
<text x="654.80" y="302.40" class="mi" style="font-size:14.5px">/</text>
<text x="662.70" y="302.20" class="mi" style="font-size:14.5px">c</text>
<text x="669.00" y="306.40" class="mr" style="font-size:8.2px">0</text>
<text x="674.90" y="302.20" class="mr" style="font-size:14.5px">)</text>
<text x="680.60" y="296.20" class="mr" style="font-size:8.2px">2</text>
<text x="320.6" y="382.2" text-anchor="middle" class="al">time</text>
<text transform="translate(9.8,187.3) rotate(-90)" text-anchor="middle" class="al">population size</text>
</svg>
</body></html>
